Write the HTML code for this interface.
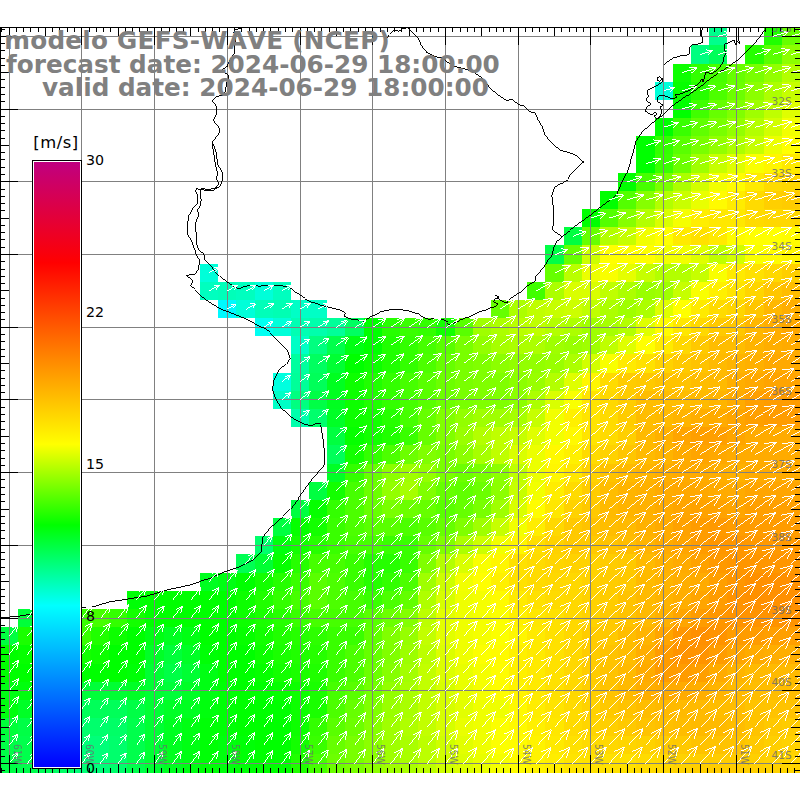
<!DOCTYPE html><html><head><meta charset="utf-8"><title>GEFS-WAVE</title>
<style>html,body{margin:0;padding:0;background:#fff}svg{display:block}.t{font-kerning:none;font-family:"DejaVu Sans","Liberation Sans",sans-serif;font-weight:bold;fill:#808080}.g{font-family:"DejaVu Sans","Liberation Sans",sans-serif;fill:#6a6a74;opacity:.8}.k{font-family:"DejaVu Sans","Liberation Sans",sans-serif;fill:#000}</style></head><body>
<svg width="800" height="800" viewBox="0 0 800 800">
<rect width="800" height="800" fill="#fff"/>
<g shape-rendering="crispEdges">
<rect x="709" y="27" width="18" height="18" fill="#00ff8c"/>
<rect x="764" y="27" width="18" height="18" fill="#20ff00"/>
<rect x="782" y="27" width="18" height="18" fill="#66ff00"/>
<rect x="691" y="45" width="18" height="19" fill="#00ff80"/>
<rect x="709" y="45" width="18" height="19" fill="#00ff59"/>
<rect x="745" y="45" width="19" height="19" fill="#26ff00"/>
<rect x="764" y="45" width="18" height="19" fill="#59ff00"/>
<rect x="782" y="45" width="18" height="19" fill="#8cff00"/>
<rect x="673" y="64" width="18" height="18" fill="#0dff00"/>
<rect x="691" y="64" width="18" height="18" fill="#33ff00"/>
<rect x="709" y="64" width="18" height="18" fill="#46ff00"/>
<rect x="727" y="64" width="18" height="18" fill="#66ff00"/>
<rect x="745" y="64" width="19" height="18" fill="#79ff00"/>
<rect x="764" y="64" width="18" height="18" fill="#93ff00"/>
<rect x="782" y="64" width="18" height="18" fill="#b3ff00"/>
<rect x="655" y="82" width="18" height="18" fill="#00ffd9"/>
<rect x="673" y="82" width="18" height="18" fill="#06ff00"/>
<rect x="691" y="82" width="18" height="18" fill="#26ff00"/>
<rect x="709" y="82" width="18" height="18" fill="#4cff00"/>
<rect x="727" y="82" width="18" height="18" fill="#6cff00"/>
<rect x="745" y="82" width="19" height="18" fill="#8cff00"/>
<rect x="764" y="82" width="18" height="18" fill="#acff00"/>
<rect x="782" y="82" width="18" height="18" fill="#c6ff00"/>
<rect x="673" y="100" width="18" height="18" fill="#00ff00"/>
<rect x="691" y="100" width="18" height="18" fill="#40ff00"/>
<rect x="709" y="100" width="18" height="18" fill="#66ff00"/>
<rect x="727" y="100" width="18" height="18" fill="#80ff00"/>
<rect x="745" y="100" width="19" height="18" fill="#9fff00"/>
<rect x="764" y="100" width="18" height="18" fill="#bfff00"/>
<rect x="782" y="100" width="18" height="18" fill="#dfff00"/>
<rect x="655" y="118" width="18" height="18" fill="#00ff00"/>
<rect x="673" y="118" width="18" height="18" fill="#39ff00"/>
<rect x="691" y="118" width="18" height="18" fill="#60ff00"/>
<rect x="709" y="118" width="18" height="18" fill="#79ff00"/>
<rect x="727" y="118" width="18" height="18" fill="#93ff00"/>
<rect x="745" y="118" width="19" height="18" fill="#b3ff00"/>
<rect x="764" y="118" width="18" height="18" fill="#d2ff00"/>
<rect x="782" y="118" width="18" height="18" fill="#f2ff00"/>
<rect x="636" y="136" width="19" height="18" fill="#00ff00"/>
<rect x="655" y="136" width="18" height="18" fill="#33ff00"/>
<rect x="673" y="136" width="18" height="18" fill="#59ff00"/>
<rect x="691" y="136" width="18" height="18" fill="#79ff00"/>
<rect x="709" y="136" width="18" height="18" fill="#93ff00"/>
<rect x="727" y="136" width="18" height="18" fill="#acff00"/>
<rect x="745" y="136" width="19" height="18" fill="#c6ff00"/>
<rect x="764" y="136" width="18" height="18" fill="#ecff00"/>
<rect x="782" y="136" width="18" height="18" fill="#ffff00"/>
<rect x="636" y="154" width="19" height="19" fill="#00ff00"/>
<rect x="655" y="154" width="18" height="19" fill="#39ff00"/>
<rect x="673" y="154" width="18" height="19" fill="#6cff00"/>
<rect x="691" y="154" width="18" height="19" fill="#9fff00"/>
<rect x="709" y="154" width="18" height="19" fill="#c6ff00"/>
<rect x="727" y="154" width="18" height="19" fill="#dfff00"/>
<rect x="745" y="154" width="19" height="19" fill="#f9ff00"/>
<rect x="764" y="154" width="18" height="19" fill="#fff600"/>
<rect x="782" y="154" width="18" height="19" fill="#ffea00"/>
<rect x="618" y="173" width="18" height="18" fill="#00ff00"/>
<rect x="636" y="173" width="19" height="18" fill="#46ff00"/>
<rect x="655" y="173" width="18" height="18" fill="#79ff00"/>
<rect x="673" y="173" width="18" height="18" fill="#acff00"/>
<rect x="691" y="173" width="18" height="18" fill="#d2ff00"/>
<rect x="709" y="173" width="18" height="18" fill="#f2ff00"/>
<rect x="727" y="173" width="18" height="18" fill="#fffc00"/>
<rect x="745" y="173" width="19" height="18" fill="#ffea00"/>
<rect x="764" y="173" width="18" height="18" fill="#ffdb00"/>
<rect x="782" y="173" width="18" height="18" fill="#ffd800"/>
<rect x="600" y="191" width="18" height="18" fill="#00ff00"/>
<rect x="618" y="191" width="18" height="18" fill="#53ff00"/>
<rect x="636" y="191" width="19" height="18" fill="#86ff00"/>
<rect x="655" y="191" width="18" height="18" fill="#b3ff00"/>
<rect x="673" y="191" width="18" height="18" fill="#c9ff00"/>
<rect x="691" y="191" width="18" height="18" fill="#e9ff00"/>
<rect x="709" y="191" width="18" height="18" fill="#fffb00"/>
<rect x="727" y="191" width="18" height="18" fill="#ffec00"/>
<rect x="745" y="191" width="19" height="18" fill="#ffdb00"/>
<rect x="764" y="191" width="18" height="18" fill="#ffcf00"/>
<rect x="782" y="191" width="18" height="18" fill="#ffcc00"/>
<rect x="582" y="209" width="18" height="18" fill="#00ff00"/>
<rect x="600" y="209" width="18" height="18" fill="#53ff00"/>
<rect x="618" y="209" width="18" height="18" fill="#86ff00"/>
<rect x="636" y="209" width="19" height="18" fill="#b3ff00"/>
<rect x="655" y="209" width="18" height="18" fill="#d9ff00"/>
<rect x="673" y="209" width="18" height="18" fill="#f5ff00"/>
<rect x="691" y="209" width="18" height="18" fill="#ffee00"/>
<rect x="709" y="209" width="36" height="18" fill="#ffe800"/>
<rect x="745" y="209" width="19" height="18" fill="#ffdb00"/>
<rect x="764" y="209" width="36" height="18" fill="#ffd800"/>
<rect x="564" y="227" width="18" height="18" fill="#00ff40"/>
<rect x="582" y="227" width="18" height="18" fill="#66ff00"/>
<rect x="600" y="227" width="18" height="18" fill="#b3ff00"/>
<rect x="618" y="227" width="18" height="18" fill="#c6ff00"/>
<rect x="636" y="227" width="19" height="18" fill="#f2ff00"/>
<rect x="655" y="227" width="18" height="18" fill="#ffff00"/>
<rect x="673" y="227" width="18" height="18" fill="#ffea00"/>
<rect x="691" y="227" width="18" height="18" fill="#ffe100"/>
<rect x="709" y="227" width="18" height="18" fill="#ffea00"/>
<rect x="727" y="227" width="18" height="18" fill="#fffc00"/>
<rect x="745" y="227" width="37" height="18" fill="#ffff00"/>
<rect x="782" y="227" width="18" height="18" fill="#fffc00"/>
<rect x="545" y="245" width="19" height="19" fill="#00ff46"/>
<rect x="564" y="245" width="18" height="19" fill="#66ff00"/>
<rect x="582" y="245" width="18" height="19" fill="#ccff00"/>
<rect x="600" y="245" width="55" height="19" fill="#ffff00"/>
<rect x="655" y="245" width="36" height="19" fill="#f2ff00"/>
<rect x="691" y="245" width="18" height="19" fill="#dfff00"/>
<rect x="709" y="245" width="18" height="19" fill="#bfff00"/>
<rect x="727" y="245" width="18" height="19" fill="#d2ff00"/>
<rect x="745" y="245" width="19" height="19" fill="#f9ff00"/>
<rect x="764" y="245" width="18" height="19" fill="#fffc00"/>
<rect x="782" y="245" width="18" height="19" fill="#fff600"/>
<rect x="200" y="264" width="18" height="18" fill="#00ffd9"/>
<rect x="545" y="264" width="19" height="18" fill="#66ff00"/>
<rect x="564" y="264" width="18" height="18" fill="#b9ff00"/>
<rect x="582" y="264" width="18" height="18" fill="#ecff00"/>
<rect x="600" y="264" width="18" height="18" fill="#f9ff00"/>
<rect x="618" y="264" width="18" height="18" fill="#e5ff00"/>
<rect x="636" y="264" width="19" height="18" fill="#c6ff00"/>
<rect x="655" y="264" width="36" height="18" fill="#b3ff00"/>
<rect x="691" y="264" width="18" height="18" fill="#c6ff00"/>
<rect x="709" y="264" width="18" height="18" fill="#f9ff00"/>
<rect x="727" y="264" width="18" height="18" fill="#ffea00"/>
<rect x="745" y="264" width="19" height="18" fill="#ffe100"/>
<rect x="764" y="264" width="18" height="18" fill="#ffd800"/>
<rect x="782" y="264" width="18" height="18" fill="#ffcf00"/>
<rect x="200" y="282" width="18" height="18" fill="#00ffbf"/>
<rect x="218" y="282" width="18" height="18" fill="#00ffb9"/>
<rect x="236" y="282" width="19" height="18" fill="#00ffbf"/>
<rect x="255" y="282" width="18" height="18" fill="#00ffd9"/>
<rect x="273" y="282" width="18" height="18" fill="#00ffbf"/>
<rect x="527" y="282" width="18" height="18" fill="#40ff00"/>
<rect x="545" y="282" width="19" height="18" fill="#acff00"/>
<rect x="564" y="282" width="36" height="18" fill="#d9ff00"/>
<rect x="600" y="282" width="18" height="18" fill="#bfff00"/>
<rect x="618" y="282" width="18" height="18" fill="#acff00"/>
<rect x="636" y="282" width="19" height="18" fill="#99ff00"/>
<rect x="655" y="282" width="18" height="18" fill="#9fff00"/>
<rect x="673" y="282" width="18" height="18" fill="#c6ff00"/>
<rect x="691" y="282" width="18" height="18" fill="#f9ff00"/>
<rect x="709" y="282" width="18" height="18" fill="#fff000"/>
<rect x="727" y="282" width="18" height="18" fill="#ffe400"/>
<rect x="745" y="282" width="19" height="18" fill="#ffd500"/>
<rect x="764" y="282" width="18" height="18" fill="#ffc600"/>
<rect x="782" y="282" width="18" height="18" fill="#ffbd00"/>
<rect x="218" y="300" width="18" height="18" fill="#00f9ff"/>
<rect x="236" y="300" width="19" height="18" fill="#00ffd9"/>
<rect x="255" y="300" width="18" height="18" fill="#00ffb9"/>
<rect x="273" y="300" width="18" height="18" fill="#00ffb3"/>
<rect x="291" y="300" width="36" height="18" fill="#00ffc6"/>
<rect x="491" y="300" width="18" height="18" fill="#66ff00"/>
<rect x="509" y="300" width="18" height="18" fill="#acff00"/>
<rect x="527" y="300" width="18" height="18" fill="#bfff00"/>
<rect x="545" y="300" width="19" height="18" fill="#c6ff00"/>
<rect x="564" y="300" width="18" height="18" fill="#ccff00"/>
<rect x="582" y="300" width="18" height="18" fill="#bfff00"/>
<rect x="600" y="300" width="18" height="18" fill="#acff00"/>
<rect x="618" y="300" width="18" height="18" fill="#9fff00"/>
<rect x="636" y="300" width="19" height="18" fill="#acff00"/>
<rect x="655" y="300" width="18" height="18" fill="#dfff00"/>
<rect x="673" y="300" width="18" height="18" fill="#ffff00"/>
<rect x="691" y="300" width="18" height="18" fill="#ffea00"/>
<rect x="709" y="300" width="18" height="18" fill="#ffdb00"/>
<rect x="727" y="300" width="18" height="18" fill="#ffd500"/>
<rect x="745" y="300" width="19" height="18" fill="#ffc600"/>
<rect x="764" y="300" width="18" height="18" fill="#ffb700"/>
<rect x="782" y="300" width="18" height="18" fill="#ffae00"/>
<rect x="255" y="318" width="18" height="18" fill="#00fff2"/>
<rect x="273" y="318" width="18" height="18" fill="#00ffd9"/>
<rect x="291" y="318" width="18" height="18" fill="#00ffb3"/>
<rect x="309" y="318" width="18" height="18" fill="#00ffac"/>
<rect x="327" y="318" width="18" height="18" fill="#00ff99"/>
<rect x="345" y="318" width="19" height="18" fill="#00ff60"/>
<rect x="364" y="318" width="18" height="18" fill="#00ff00"/>
<rect x="382" y="318" width="18" height="18" fill="#26ff00"/>
<rect x="400" y="318" width="18" height="18" fill="#39ff00"/>
<rect x="418" y="318" width="18" height="18" fill="#33ff00"/>
<rect x="436" y="318" width="19" height="18" fill="#13ff00"/>
<rect x="455" y="318" width="18" height="18" fill="#59ff00"/>
<rect x="473" y="318" width="18" height="18" fill="#9fff00"/>
<rect x="491" y="318" width="18" height="18" fill="#acff00"/>
<rect x="509" y="318" width="18" height="18" fill="#b9ff00"/>
<rect x="527" y="318" width="18" height="18" fill="#bfff00"/>
<rect x="545" y="318" width="19" height="18" fill="#b3ff00"/>
<rect x="564" y="318" width="18" height="18" fill="#acff00"/>
<rect x="582" y="318" width="18" height="18" fill="#9fff00"/>
<rect x="600" y="318" width="18" height="18" fill="#a6ff00"/>
<rect x="618" y="318" width="18" height="18" fill="#b3ff00"/>
<rect x="636" y="318" width="19" height="18" fill="#dfff00"/>
<rect x="655" y="318" width="18" height="18" fill="#fffc00"/>
<rect x="673" y="318" width="18" height="18" fill="#ffe700"/>
<rect x="691" y="318" width="18" height="18" fill="#ffd800"/>
<rect x="709" y="318" width="18" height="18" fill="#ffc900"/>
<rect x="727" y="318" width="18" height="18" fill="#ffc600"/>
<rect x="745" y="318" width="19" height="18" fill="#ffb700"/>
<rect x="764" y="318" width="18" height="18" fill="#ffae00"/>
<rect x="782" y="318" width="18" height="18" fill="#ffa800"/>
<rect x="291" y="336" width="18" height="18" fill="#00ffc6"/>
<rect x="309" y="336" width="18" height="18" fill="#00ff80"/>
<rect x="327" y="336" width="18" height="18" fill="#00ff4c"/>
<rect x="345" y="336" width="19" height="18" fill="#00ff13"/>
<rect x="364" y="336" width="18" height="18" fill="#00ff00"/>
<rect x="382" y="336" width="18" height="18" fill="#20ff00"/>
<rect x="400" y="336" width="18" height="18" fill="#33ff00"/>
<rect x="418" y="336" width="18" height="18" fill="#46ff00"/>
<rect x="436" y="336" width="19" height="18" fill="#59ff00"/>
<rect x="455" y="336" width="18" height="18" fill="#79ff00"/>
<rect x="473" y="336" width="18" height="18" fill="#93ff00"/>
<rect x="491" y="336" width="18" height="18" fill="#a6ff00"/>
<rect x="509" y="336" width="36" height="18" fill="#acff00"/>
<rect x="545" y="336" width="19" height="18" fill="#9fff00"/>
<rect x="564" y="336" width="18" height="18" fill="#99ff00"/>
<rect x="582" y="336" width="18" height="18" fill="#9fff00"/>
<rect x="600" y="336" width="18" height="18" fill="#bfff00"/>
<rect x="618" y="336" width="18" height="18" fill="#dfff00"/>
<rect x="636" y="336" width="19" height="18" fill="#ffff00"/>
<rect x="655" y="336" width="18" height="18" fill="#ffea00"/>
<rect x="673" y="336" width="18" height="18" fill="#ffd800"/>
<rect x="691" y="336" width="18" height="18" fill="#ffc900"/>
<rect x="709" y="336" width="36" height="18" fill="#ffbd00"/>
<rect x="745" y="336" width="19" height="18" fill="#ffb400"/>
<rect x="764" y="336" width="18" height="18" fill="#ffae00"/>
<rect x="782" y="336" width="18" height="18" fill="#ffab00"/>
<rect x="291" y="354" width="18" height="19" fill="#00ff9f"/>
<rect x="309" y="354" width="18" height="19" fill="#00ff60"/>
<rect x="327" y="354" width="18" height="19" fill="#00ff33"/>
<rect x="345" y="354" width="19" height="19" fill="#00ff00"/>
<rect x="364" y="354" width="18" height="19" fill="#0dff00"/>
<rect x="382" y="354" width="18" height="19" fill="#20ff00"/>
<rect x="400" y="354" width="18" height="19" fill="#33ff00"/>
<rect x="418" y="354" width="18" height="19" fill="#4cff00"/>
<rect x="436" y="354" width="19" height="19" fill="#66ff00"/>
<rect x="455" y="354" width="18" height="19" fill="#79ff00"/>
<rect x="473" y="354" width="18" height="19" fill="#80ff00"/>
<rect x="491" y="354" width="18" height="19" fill="#8cff00"/>
<rect x="509" y="354" width="36" height="19" fill="#93ff00"/>
<rect x="545" y="354" width="19" height="19" fill="#99ff00"/>
<rect x="564" y="354" width="18" height="19" fill="#acff00"/>
<rect x="582" y="354" width="18" height="19" fill="#d2ff00"/>
<rect x="600" y="354" width="18" height="19" fill="#f9ff00"/>
<rect x="618" y="354" width="18" height="19" fill="#ffea00"/>
<rect x="636" y="354" width="19" height="19" fill="#ffe100"/>
<rect x="655" y="354" width="18" height="19" fill="#ffd200"/>
<rect x="673" y="354" width="18" height="19" fill="#ffc900"/>
<rect x="691" y="354" width="18" height="19" fill="#ffc300"/>
<rect x="709" y="354" width="18" height="19" fill="#ffba00"/>
<rect x="727" y="354" width="18" height="19" fill="#ffb400"/>
<rect x="745" y="354" width="19" height="19" fill="#ffb000"/>
<rect x="764" y="354" width="36" height="19" fill="#ffa900"/>
<rect x="273" y="373" width="18" height="18" fill="#00ffdf"/>
<rect x="291" y="373" width="18" height="18" fill="#00ff99"/>
<rect x="309" y="373" width="18" height="18" fill="#00ff59"/>
<rect x="327" y="373" width="18" height="18" fill="#00ff20"/>
<rect x="345" y="373" width="19" height="18" fill="#0dff00"/>
<rect x="364" y="373" width="18" height="18" fill="#20ff00"/>
<rect x="382" y="373" width="18" height="18" fill="#33ff00"/>
<rect x="400" y="373" width="18" height="18" fill="#46ff00"/>
<rect x="418" y="373" width="18" height="18" fill="#59ff00"/>
<rect x="436" y="373" width="19" height="18" fill="#6cff00"/>
<rect x="455" y="373" width="18" height="18" fill="#79ff00"/>
<rect x="473" y="373" width="36" height="18" fill="#80ff00"/>
<rect x="509" y="373" width="18" height="18" fill="#8cff00"/>
<rect x="527" y="373" width="18" height="18" fill="#99ff00"/>
<rect x="545" y="373" width="19" height="18" fill="#b3ff00"/>
<rect x="564" y="373" width="18" height="18" fill="#dfff00"/>
<rect x="582" y="373" width="18" height="18" fill="#fff600"/>
<rect x="600" y="373" width="18" height="18" fill="#ffdb00"/>
<rect x="618" y="373" width="18" height="18" fill="#ffcc00"/>
<rect x="636" y="373" width="19" height="18" fill="#ffc900"/>
<rect x="655" y="373" width="36" height="18" fill="#ffc300"/>
<rect x="691" y="373" width="18" height="18" fill="#ffbd00"/>
<rect x="709" y="373" width="18" height="18" fill="#ffba00"/>
<rect x="727" y="373" width="18" height="18" fill="#ffae00"/>
<rect x="745" y="373" width="19" height="18" fill="#ffa900"/>
<rect x="764" y="373" width="36" height="18" fill="#ffa400"/>
<rect x="273" y="391" width="18" height="18" fill="#00ffc6"/>
<rect x="291" y="391" width="18" height="18" fill="#00ff80"/>
<rect x="309" y="391" width="18" height="18" fill="#00ff46"/>
<rect x="327" y="391" width="18" height="18" fill="#00ff20"/>
<rect x="345" y="391" width="19" height="18" fill="#0dff00"/>
<rect x="364" y="391" width="18" height="18" fill="#20ff00"/>
<rect x="382" y="391" width="18" height="18" fill="#33ff00"/>
<rect x="400" y="391" width="18" height="18" fill="#46ff00"/>
<rect x="418" y="391" width="18" height="18" fill="#59ff00"/>
<rect x="436" y="391" width="19" height="18" fill="#6cff00"/>
<rect x="455" y="391" width="18" height="18" fill="#79ff00"/>
<rect x="473" y="391" width="36" height="18" fill="#80ff00"/>
<rect x="509" y="391" width="18" height="18" fill="#8cff00"/>
<rect x="527" y="391" width="18" height="18" fill="#acff00"/>
<rect x="545" y="391" width="19" height="18" fill="#d9ff00"/>
<rect x="564" y="391" width="18" height="18" fill="#f9ff00"/>
<rect x="582" y="391" width="18" height="18" fill="#ffe400"/>
<rect x="600" y="391" width="18" height="18" fill="#ffd800"/>
<rect x="618" y="391" width="18" height="18" fill="#ffcc00"/>
<rect x="636" y="391" width="55" height="18" fill="#ffbd00"/>
<rect x="691" y="391" width="18" height="18" fill="#ffba00"/>
<rect x="709" y="391" width="18" height="18" fill="#ffb400"/>
<rect x="727" y="391" width="18" height="18" fill="#ffab00"/>
<rect x="745" y="391" width="19" height="18" fill="#ff9f00"/>
<rect x="764" y="391" width="36" height="18" fill="#ff9c00"/>
<rect x="291" y="409" width="18" height="18" fill="#00ffac"/>
<rect x="309" y="409" width="18" height="18" fill="#00ff6c"/>
<rect x="327" y="409" width="18" height="18" fill="#00ff26"/>
<rect x="345" y="409" width="19" height="18" fill="#0dff00"/>
<rect x="364" y="409" width="18" height="18" fill="#13ff00"/>
<rect x="382" y="409" width="18" height="18" fill="#26ff00"/>
<rect x="400" y="409" width="18" height="18" fill="#46ff00"/>
<rect x="418" y="409" width="18" height="18" fill="#66ff00"/>
<rect x="436" y="409" width="19" height="18" fill="#80ff00"/>
<rect x="455" y="409" width="18" height="18" fill="#93ff00"/>
<rect x="473" y="409" width="36" height="18" fill="#9fff00"/>
<rect x="509" y="409" width="18" height="18" fill="#a6ff00"/>
<rect x="527" y="409" width="18" height="18" fill="#c6ff00"/>
<rect x="545" y="409" width="19" height="18" fill="#f2ff00"/>
<rect x="564" y="409" width="18" height="18" fill="#fff000"/>
<rect x="582" y="409" width="18" height="18" fill="#ffe400"/>
<rect x="600" y="409" width="18" height="18" fill="#ffdb00"/>
<rect x="618" y="409" width="18" height="18" fill="#ffcc00"/>
<rect x="636" y="409" width="19" height="18" fill="#ffbd00"/>
<rect x="655" y="409" width="18" height="18" fill="#ffba00"/>
<rect x="673" y="409" width="18" height="18" fill="#ffb400"/>
<rect x="691" y="409" width="18" height="18" fill="#ffae00"/>
<rect x="709" y="409" width="18" height="18" fill="#ffab00"/>
<rect x="727" y="409" width="18" height="18" fill="#ffa500"/>
<rect x="745" y="409" width="19" height="18" fill="#ff9f00"/>
<rect x="764" y="409" width="36" height="18" fill="#ff9c00"/>
<rect x="327" y="427" width="18" height="18" fill="#00ff40"/>
<rect x="345" y="427" width="19" height="18" fill="#06ff00"/>
<rect x="364" y="427" width="18" height="18" fill="#13ff00"/>
<rect x="382" y="427" width="18" height="18" fill="#20ff00"/>
<rect x="400" y="427" width="18" height="18" fill="#39ff00"/>
<rect x="418" y="427" width="18" height="18" fill="#66ff00"/>
<rect x="436" y="427" width="19" height="18" fill="#80ff00"/>
<rect x="455" y="427" width="18" height="18" fill="#99ff00"/>
<rect x="473" y="427" width="18" height="18" fill="#b3ff00"/>
<rect x="491" y="427" width="18" height="18" fill="#bfff00"/>
<rect x="509" y="427" width="18" height="18" fill="#c6ff00"/>
<rect x="527" y="427" width="18" height="18" fill="#dfff00"/>
<rect x="545" y="427" width="19" height="18" fill="#f2ff00"/>
<rect x="564" y="427" width="18" height="18" fill="#fff900"/>
<rect x="582" y="427" width="18" height="18" fill="#ffe400"/>
<rect x="600" y="427" width="18" height="18" fill="#ffdb00"/>
<rect x="618" y="427" width="18" height="18" fill="#ffcf00"/>
<rect x="636" y="427" width="19" height="18" fill="#ffba00"/>
<rect x="655" y="427" width="18" height="18" fill="#ffb100"/>
<rect x="673" y="427" width="18" height="18" fill="#ffa500"/>
<rect x="691" y="427" width="36" height="18" fill="#ff9f00"/>
<rect x="727" y="427" width="18" height="18" fill="#ffa500"/>
<rect x="745" y="427" width="55" height="18" fill="#ffab00"/>
<rect x="327" y="445" width="18" height="19" fill="#00ff59"/>
<rect x="345" y="445" width="19" height="19" fill="#13ff00"/>
<rect x="364" y="445" width="18" height="19" fill="#33ff00"/>
<rect x="382" y="445" width="18" height="19" fill="#4cff00"/>
<rect x="400" y="445" width="18" height="19" fill="#6cff00"/>
<rect x="418" y="445" width="18" height="19" fill="#80ff00"/>
<rect x="436" y="445" width="19" height="19" fill="#79ff00"/>
<rect x="455" y="445" width="18" height="19" fill="#8cff00"/>
<rect x="473" y="445" width="18" height="19" fill="#a6ff00"/>
<rect x="491" y="445" width="18" height="19" fill="#bfff00"/>
<rect x="509" y="445" width="18" height="19" fill="#d9ff00"/>
<rect x="527" y="445" width="18" height="19" fill="#ecff00"/>
<rect x="545" y="445" width="19" height="19" fill="#fff900"/>
<rect x="564" y="445" width="18" height="19" fill="#fff000"/>
<rect x="582" y="445" width="18" height="19" fill="#ffdb00"/>
<rect x="600" y="445" width="18" height="19" fill="#ffd200"/>
<rect x="618" y="445" width="18" height="19" fill="#ffc600"/>
<rect x="636" y="445" width="19" height="19" fill="#ffba00"/>
<rect x="655" y="445" width="18" height="19" fill="#ffb400"/>
<rect x="673" y="445" width="18" height="19" fill="#ffab00"/>
<rect x="691" y="445" width="18" height="19" fill="#ffa500"/>
<rect x="709" y="445" width="18" height="19" fill="#ffa800"/>
<rect x="727" y="445" width="73" height="19" fill="#ffab00"/>
<rect x="327" y="464" width="18" height="18" fill="#00ff26"/>
<rect x="345" y="464" width="19" height="18" fill="#33ff00"/>
<rect x="364" y="464" width="18" height="18" fill="#66ff00"/>
<rect x="382" y="464" width="18" height="18" fill="#8cff00"/>
<rect x="400" y="464" width="18" height="18" fill="#9fff00"/>
<rect x="418" y="464" width="18" height="18" fill="#93ff00"/>
<rect x="436" y="464" width="19" height="18" fill="#79ff00"/>
<rect x="455" y="464" width="18" height="18" fill="#6cff00"/>
<rect x="473" y="464" width="18" height="18" fill="#79ff00"/>
<rect x="491" y="464" width="18" height="18" fill="#8cff00"/>
<rect x="509" y="464" width="18" height="18" fill="#bfff00"/>
<rect x="527" y="464" width="18" height="18" fill="#ecff00"/>
<rect x="545" y="464" width="19" height="18" fill="#fff600"/>
<rect x="564" y="464" width="18" height="18" fill="#ffe700"/>
<rect x="582" y="464" width="18" height="18" fill="#ffd200"/>
<rect x="600" y="464" width="18" height="18" fill="#ffc300"/>
<rect x="618" y="464" width="18" height="18" fill="#ffba00"/>
<rect x="636" y="464" width="19" height="18" fill="#ffb400"/>
<rect x="655" y="464" width="18" height="18" fill="#ffae00"/>
<rect x="673" y="464" width="36" height="18" fill="#ffab00"/>
<rect x="709" y="464" width="18" height="18" fill="#ffae00"/>
<rect x="727" y="464" width="18" height="18" fill="#ffb100"/>
<rect x="745" y="464" width="55" height="18" fill="#ffab00"/>
<rect x="309" y="482" width="18" height="18" fill="#00ff40"/>
<rect x="327" y="482" width="18" height="18" fill="#13ff00"/>
<rect x="345" y="482" width="19" height="18" fill="#46ff00"/>
<rect x="364" y="482" width="18" height="18" fill="#6cff00"/>
<rect x="382" y="482" width="18" height="18" fill="#93ff00"/>
<rect x="400" y="482" width="18" height="18" fill="#a6ff00"/>
<rect x="418" y="482" width="18" height="18" fill="#80ff00"/>
<rect x="436" y="482" width="19" height="18" fill="#66ff00"/>
<rect x="455" y="482" width="18" height="18" fill="#60ff00"/>
<rect x="473" y="482" width="18" height="18" fill="#6cff00"/>
<rect x="491" y="482" width="18" height="18" fill="#8cff00"/>
<rect x="509" y="482" width="18" height="18" fill="#c6ff00"/>
<rect x="527" y="482" width="18" height="18" fill="#f2ff00"/>
<rect x="545" y="482" width="19" height="18" fill="#ffed00"/>
<rect x="564" y="482" width="18" height="18" fill="#ffdb00"/>
<rect x="582" y="482" width="18" height="18" fill="#ffcc00"/>
<rect x="600" y="482" width="18" height="18" fill="#ffbd00"/>
<rect x="618" y="482" width="18" height="18" fill="#ffb400"/>
<rect x="636" y="482" width="19" height="18" fill="#ffb100"/>
<rect x="655" y="482" width="18" height="18" fill="#ffab00"/>
<rect x="673" y="482" width="36" height="18" fill="#ffa800"/>
<rect x="709" y="482" width="36" height="18" fill="#ffab00"/>
<rect x="745" y="482" width="55" height="18" fill="#ffa500"/>
<rect x="291" y="500" width="18" height="18" fill="#00ff40"/>
<rect x="309" y="500" width="18" height="18" fill="#06ff00"/>
<rect x="327" y="500" width="18" height="18" fill="#33ff00"/>
<rect x="345" y="500" width="19" height="18" fill="#4cff00"/>
<rect x="364" y="500" width="18" height="18" fill="#66ff00"/>
<rect x="382" y="500" width="18" height="18" fill="#79ff00"/>
<rect x="400" y="500" width="18" height="18" fill="#6cff00"/>
<rect x="418" y="500" width="18" height="18" fill="#66ff00"/>
<rect x="436" y="500" width="19" height="18" fill="#59ff00"/>
<rect x="455" y="500" width="18" height="18" fill="#66ff00"/>
<rect x="473" y="500" width="18" height="18" fill="#79ff00"/>
<rect x="491" y="500" width="18" height="18" fill="#9fff00"/>
<rect x="509" y="500" width="18" height="18" fill="#d9ff00"/>
<rect x="527" y="500" width="18" height="18" fill="#fffc00"/>
<rect x="545" y="500" width="19" height="18" fill="#ffe700"/>
<rect x="564" y="500" width="18" height="18" fill="#ffd200"/>
<rect x="582" y="500" width="18" height="18" fill="#ffc900"/>
<rect x="600" y="500" width="18" height="18" fill="#ffba00"/>
<rect x="618" y="500" width="18" height="18" fill="#ffb400"/>
<rect x="636" y="500" width="19" height="18" fill="#ffb100"/>
<rect x="655" y="500" width="18" height="18" fill="#ffab00"/>
<rect x="673" y="500" width="18" height="18" fill="#ffa500"/>
<rect x="691" y="500" width="36" height="18" fill="#ffa200"/>
<rect x="727" y="500" width="18" height="18" fill="#ffa500"/>
<rect x="745" y="500" width="55" height="18" fill="#ff9f00"/>
<rect x="273" y="518" width="18" height="18" fill="#00ff40"/>
<rect x="291" y="518" width="18" height="18" fill="#06ff00"/>
<rect x="309" y="518" width="18" height="18" fill="#13ff00"/>
<rect x="327" y="518" width="18" height="18" fill="#39ff00"/>
<rect x="345" y="518" width="19" height="18" fill="#4cff00"/>
<rect x="364" y="518" width="36" height="18" fill="#59ff00"/>
<rect x="400" y="518" width="18" height="18" fill="#4cff00"/>
<rect x="418" y="518" width="18" height="18" fill="#59ff00"/>
<rect x="436" y="518" width="19" height="18" fill="#66ff00"/>
<rect x="455" y="518" width="18" height="18" fill="#80ff00"/>
<rect x="473" y="518" width="18" height="18" fill="#9fff00"/>
<rect x="491" y="518" width="18" height="18" fill="#c6ff00"/>
<rect x="509" y="518" width="18" height="18" fill="#f2ff00"/>
<rect x="527" y="518" width="18" height="18" fill="#ffed00"/>
<rect x="545" y="518" width="19" height="18" fill="#ffd800"/>
<rect x="564" y="518" width="18" height="18" fill="#ffc900"/>
<rect x="582" y="518" width="18" height="18" fill="#ffc300"/>
<rect x="600" y="518" width="18" height="18" fill="#ffbd00"/>
<rect x="618" y="518" width="18" height="18" fill="#ffba00"/>
<rect x="636" y="518" width="19" height="18" fill="#ffb100"/>
<rect x="655" y="518" width="18" height="18" fill="#ffab00"/>
<rect x="673" y="518" width="18" height="18" fill="#ffa200"/>
<rect x="691" y="518" width="18" height="18" fill="#ff9c00"/>
<rect x="709" y="518" width="18" height="18" fill="#ff9900"/>
<rect x="727" y="518" width="73" height="18" fill="#ff9c00"/>
<rect x="255" y="536" width="18" height="18" fill="#00ff6c"/>
<rect x="273" y="536" width="18" height="18" fill="#00ff0d"/>
<rect x="291" y="536" width="18" height="18" fill="#13ff00"/>
<rect x="309" y="536" width="18" height="18" fill="#26ff00"/>
<rect x="327" y="536" width="18" height="18" fill="#39ff00"/>
<rect x="345" y="536" width="37" height="18" fill="#46ff00"/>
<rect x="382" y="536" width="36" height="18" fill="#39ff00"/>
<rect x="418" y="536" width="18" height="18" fill="#66ff00"/>
<rect x="436" y="536" width="19" height="18" fill="#80ff00"/>
<rect x="455" y="536" width="18" height="18" fill="#acff00"/>
<rect x="473" y="536" width="18" height="18" fill="#ccff00"/>
<rect x="491" y="536" width="18" height="18" fill="#f2ff00"/>
<rect x="509" y="536" width="18" height="18" fill="#fff600"/>
<rect x="527" y="536" width="18" height="18" fill="#ffde00"/>
<rect x="545" y="536" width="19" height="18" fill="#ffd200"/>
<rect x="564" y="536" width="36" height="18" fill="#ffc900"/>
<rect x="600" y="536" width="18" height="18" fill="#ffc300"/>
<rect x="618" y="536" width="18" height="18" fill="#ffbd00"/>
<rect x="636" y="536" width="19" height="18" fill="#ffb400"/>
<rect x="655" y="536" width="18" height="18" fill="#ffab00"/>
<rect x="673" y="536" width="18" height="18" fill="#ffa500"/>
<rect x="691" y="536" width="18" height="18" fill="#ff9c00"/>
<rect x="709" y="536" width="36" height="18" fill="#ff9600"/>
<rect x="745" y="536" width="55" height="18" fill="#ff9900"/>
<rect x="236" y="554" width="19" height="19" fill="#00ff53"/>
<rect x="255" y="554" width="18" height="19" fill="#00ff33"/>
<rect x="273" y="554" width="18" height="19" fill="#06ff00"/>
<rect x="291" y="554" width="18" height="19" fill="#26ff00"/>
<rect x="309" y="554" width="36" height="19" fill="#46ff00"/>
<rect x="345" y="554" width="19" height="19" fill="#39ff00"/>
<rect x="364" y="554" width="36" height="19" fill="#26ff00"/>
<rect x="400" y="554" width="18" height="19" fill="#39ff00"/>
<rect x="418" y="554" width="18" height="19" fill="#80ff00"/>
<rect x="436" y="554" width="19" height="19" fill="#b3ff00"/>
<rect x="455" y="554" width="18" height="19" fill="#d9ff00"/>
<rect x="473" y="554" width="18" height="19" fill="#f9ff00"/>
<rect x="491" y="554" width="18" height="19" fill="#fff600"/>
<rect x="509" y="554" width="18" height="19" fill="#ffe100"/>
<rect x="527" y="554" width="18" height="19" fill="#ffdb00"/>
<rect x="545" y="554" width="19" height="19" fill="#ffd500"/>
<rect x="564" y="554" width="36" height="19" fill="#ffd200"/>
<rect x="600" y="554" width="18" height="19" fill="#ffcc00"/>
<rect x="618" y="554" width="18" height="19" fill="#ffc900"/>
<rect x="636" y="554" width="19" height="19" fill="#ffba00"/>
<rect x="655" y="554" width="18" height="19" fill="#ffb100"/>
<rect x="673" y="554" width="18" height="19" fill="#ffab00"/>
<rect x="691" y="554" width="18" height="19" fill="#ffa200"/>
<rect x="709" y="554" width="18" height="19" fill="#ff9900"/>
<rect x="727" y="554" width="73" height="19" fill="#ff9600"/>
<rect x="200" y="573" width="18" height="18" fill="#00ff20"/>
<rect x="218" y="573" width="18" height="18" fill="#00ff13"/>
<rect x="236" y="573" width="19" height="18" fill="#00ff00"/>
<rect x="255" y="573" width="18" height="18" fill="#13ff00"/>
<rect x="273" y="573" width="18" height="18" fill="#26ff00"/>
<rect x="291" y="573" width="18" height="18" fill="#39ff00"/>
<rect x="309" y="573" width="18" height="18" fill="#59ff00"/>
<rect x="327" y="573" width="18" height="18" fill="#4cff00"/>
<rect x="345" y="573" width="19" height="18" fill="#39ff00"/>
<rect x="364" y="573" width="18" height="18" fill="#26ff00"/>
<rect x="382" y="573" width="18" height="18" fill="#33ff00"/>
<rect x="400" y="573" width="18" height="18" fill="#4cff00"/>
<rect x="418" y="573" width="18" height="18" fill="#9fff00"/>
<rect x="436" y="573" width="19" height="18" fill="#ccff00"/>
<rect x="455" y="573" width="18" height="18" fill="#f2ff00"/>
<rect x="473" y="573" width="18" height="18" fill="#ffff00"/>
<rect x="491" y="573" width="18" height="18" fill="#fff000"/>
<rect x="509" y="573" width="18" height="18" fill="#ffe100"/>
<rect x="527" y="573" width="18" height="18" fill="#ffdb00"/>
<rect x="545" y="573" width="37" height="18" fill="#ffd800"/>
<rect x="582" y="573" width="18" height="18" fill="#ffd200"/>
<rect x="600" y="573" width="18" height="18" fill="#ffcc00"/>
<rect x="618" y="573" width="18" height="18" fill="#ffc900"/>
<rect x="636" y="573" width="19" height="18" fill="#ffba00"/>
<rect x="655" y="573" width="18" height="18" fill="#ffb400"/>
<rect x="673" y="573" width="18" height="18" fill="#ffae00"/>
<rect x="691" y="573" width="18" height="18" fill="#ffab00"/>
<rect x="709" y="573" width="18" height="18" fill="#ff9f00"/>
<rect x="727" y="573" width="18" height="18" fill="#ff9600"/>
<rect x="745" y="573" width="55" height="18" fill="#ff9000"/>
<rect x="127" y="591" width="18" height="18" fill="#00ff06"/>
<rect x="145" y="591" width="91" height="18" fill="#00ff00"/>
<rect x="236" y="591" width="19" height="18" fill="#0dff00"/>
<rect x="255" y="591" width="18" height="18" fill="#20ff00"/>
<rect x="273" y="591" width="18" height="18" fill="#33ff00"/>
<rect x="291" y="591" width="18" height="18" fill="#46ff00"/>
<rect x="309" y="591" width="18" height="18" fill="#59ff00"/>
<rect x="327" y="591" width="18" height="18" fill="#4cff00"/>
<rect x="345" y="591" width="19" height="18" fill="#46ff00"/>
<rect x="364" y="591" width="18" height="18" fill="#39ff00"/>
<rect x="382" y="591" width="18" height="18" fill="#4cff00"/>
<rect x="400" y="591" width="18" height="18" fill="#63ff00"/>
<rect x="418" y="591" width="18" height="18" fill="#afff00"/>
<rect x="436" y="591" width="19" height="18" fill="#d6ff00"/>
<rect x="455" y="591" width="18" height="18" fill="#efff00"/>
<rect x="473" y="591" width="18" height="18" fill="#f5ff00"/>
<rect x="491" y="591" width="18" height="18" fill="#fffb00"/>
<rect x="509" y="591" width="18" height="18" fill="#ffea00"/>
<rect x="527" y="591" width="18" height="18" fill="#ffe100"/>
<rect x="545" y="591" width="19" height="18" fill="#ffdb00"/>
<rect x="564" y="591" width="18" height="18" fill="#ffd800"/>
<rect x="582" y="591" width="18" height="18" fill="#ffd200"/>
<rect x="600" y="591" width="18" height="18" fill="#ffcc00"/>
<rect x="618" y="591" width="18" height="18" fill="#ffc300"/>
<rect x="636" y="591" width="19" height="18" fill="#ffba00"/>
<rect x="655" y="591" width="18" height="18" fill="#ffb400"/>
<rect x="673" y="591" width="18" height="18" fill="#ffae00"/>
<rect x="691" y="591" width="18" height="18" fill="#ffa500"/>
<rect x="709" y="591" width="18" height="18" fill="#ff9c00"/>
<rect x="727" y="591" width="18" height="18" fill="#ff9300"/>
<rect x="745" y="591" width="55" height="18" fill="#ff9000"/>
<rect x="18" y="609" width="18" height="18" fill="#00ff39"/>
<rect x="36" y="609" width="19" height="18" fill="#00ff0d"/>
<rect x="55" y="609" width="18" height="18" fill="#1aff00"/>
<rect x="73" y="609" width="18" height="18" fill="#39ff00"/>
<rect x="91" y="609" width="18" height="18" fill="#46ff00"/>
<rect x="109" y="609" width="18" height="18" fill="#33ff00"/>
<rect x="127" y="609" width="18" height="18" fill="#13ff00"/>
<rect x="145" y="609" width="91" height="18" fill="#00ff00"/>
<rect x="236" y="609" width="19" height="18" fill="#0dff00"/>
<rect x="255" y="609" width="18" height="18" fill="#1aff00"/>
<rect x="273" y="609" width="18" height="18" fill="#26ff00"/>
<rect x="291" y="609" width="18" height="18" fill="#39ff00"/>
<rect x="309" y="609" width="55" height="18" fill="#46ff00"/>
<rect x="364" y="609" width="18" height="18" fill="#59ff00"/>
<rect x="382" y="609" width="18" height="18" fill="#6cff00"/>
<rect x="400" y="609" width="18" height="18" fill="#83ff00"/>
<rect x="418" y="609" width="18" height="18" fill="#bcff00"/>
<rect x="436" y="609" width="19" height="18" fill="#e2ff00"/>
<rect x="455" y="609" width="18" height="18" fill="#efff00"/>
<rect x="473" y="609" width="18" height="18" fill="#f5ff00"/>
<rect x="491" y="609" width="18" height="18" fill="#fcff00"/>
<rect x="509" y="609" width="18" height="18" fill="#fff000"/>
<rect x="527" y="609" width="18" height="18" fill="#ffe700"/>
<rect x="545" y="609" width="19" height="18" fill="#ffe100"/>
<rect x="564" y="609" width="18" height="18" fill="#ffd800"/>
<rect x="582" y="609" width="18" height="18" fill="#ffd200"/>
<rect x="600" y="609" width="18" height="18" fill="#ffc900"/>
<rect x="618" y="609" width="18" height="18" fill="#ffc300"/>
<rect x="636" y="609" width="19" height="18" fill="#ffba00"/>
<rect x="655" y="609" width="18" height="18" fill="#ffb100"/>
<rect x="673" y="609" width="18" height="18" fill="#ffa500"/>
<rect x="691" y="609" width="18" height="18" fill="#ff9c00"/>
<rect x="709" y="609" width="18" height="18" fill="#ff9600"/>
<rect x="727" y="609" width="73" height="18" fill="#ff9300"/>
<rect x="0" y="627" width="18" height="18" fill="#00ff40"/>
<rect x="18" y="627" width="18" height="18" fill="#1aff00"/>
<rect x="36" y="627" width="19" height="18" fill="#26ff00"/>
<rect x="55" y="627" width="18" height="18" fill="#33ff00"/>
<rect x="73" y="627" width="18" height="18" fill="#39ff00"/>
<rect x="91" y="627" width="18" height="18" fill="#20ff00"/>
<rect x="109" y="627" width="18" height="18" fill="#0dff00"/>
<rect x="127" y="627" width="18" height="18" fill="#00ff00"/>
<rect x="145" y="627" width="19" height="18" fill="#00ff13"/>
<rect x="164" y="627" width="18" height="18" fill="#00ff20"/>
<rect x="182" y="627" width="18" height="18" fill="#00ff13"/>
<rect x="200" y="627" width="36" height="18" fill="#00ff00"/>
<rect x="236" y="627" width="19" height="18" fill="#06ff00"/>
<rect x="255" y="627" width="18" height="18" fill="#13ff00"/>
<rect x="273" y="627" width="18" height="18" fill="#20ff00"/>
<rect x="291" y="627" width="18" height="18" fill="#26ff00"/>
<rect x="309" y="627" width="18" height="18" fill="#2dff00"/>
<rect x="327" y="627" width="37" height="18" fill="#39ff00"/>
<rect x="364" y="627" width="18" height="18" fill="#60ff00"/>
<rect x="382" y="627" width="18" height="18" fill="#80ff00"/>
<rect x="400" y="627" width="18" height="18" fill="#96ff00"/>
<rect x="418" y="627" width="18" height="18" fill="#c2ff00"/>
<rect x="436" y="627" width="19" height="18" fill="#e2ff00"/>
<rect x="455" y="627" width="18" height="18" fill="#efff00"/>
<rect x="473" y="627" width="18" height="18" fill="#f5ff00"/>
<rect x="491" y="627" width="18" height="18" fill="#fcff00"/>
<rect x="509" y="627" width="18" height="18" fill="#fff600"/>
<rect x="527" y="627" width="18" height="18" fill="#ffea00"/>
<rect x="545" y="627" width="19" height="18" fill="#ffe100"/>
<rect x="564" y="627" width="18" height="18" fill="#ffd800"/>
<rect x="582" y="627" width="18" height="18" fill="#ffcc00"/>
<rect x="600" y="627" width="18" height="18" fill="#ffc900"/>
<rect x="618" y="627" width="18" height="18" fill="#ffbd00"/>
<rect x="636" y="627" width="19" height="18" fill="#ffb400"/>
<rect x="655" y="627" width="18" height="18" fill="#ffa500"/>
<rect x="673" y="627" width="18" height="18" fill="#ff9600"/>
<rect x="691" y="627" width="18" height="18" fill="#ff9000"/>
<rect x="709" y="627" width="18" height="18" fill="#ff9300"/>
<rect x="727" y="627" width="37" height="18" fill="#ff9c00"/>
<rect x="764" y="627" width="36" height="18" fill="#ff9f00"/>
<rect x="0" y="645" width="18" height="19" fill="#00ff00"/>
<rect x="18" y="645" width="18" height="19" fill="#06ff00"/>
<rect x="36" y="645" width="37" height="19" fill="#0dff00"/>
<rect x="73" y="645" width="18" height="19" fill="#13ff00"/>
<rect x="91" y="645" width="18" height="19" fill="#0dff00"/>
<rect x="109" y="645" width="36" height="19" fill="#00ff00"/>
<rect x="145" y="645" width="19" height="19" fill="#00ff26"/>
<rect x="164" y="645" width="18" height="19" fill="#00ff39"/>
<rect x="182" y="645" width="18" height="19" fill="#00ff26"/>
<rect x="200" y="645" width="18" height="19" fill="#00ff06"/>
<rect x="218" y="645" width="37" height="19" fill="#00ff00"/>
<rect x="255" y="645" width="18" height="19" fill="#0dff00"/>
<rect x="273" y="645" width="18" height="19" fill="#1aff00"/>
<rect x="291" y="645" width="18" height="19" fill="#20ff00"/>
<rect x="309" y="645" width="18" height="19" fill="#26ff00"/>
<rect x="327" y="645" width="18" height="19" fill="#39ff00"/>
<rect x="345" y="645" width="19" height="19" fill="#4cff00"/>
<rect x="364" y="645" width="18" height="19" fill="#66ff00"/>
<rect x="382" y="645" width="18" height="19" fill="#80ff00"/>
<rect x="400" y="645" width="18" height="19" fill="#9cff00"/>
<rect x="418" y="645" width="18" height="19" fill="#bcff00"/>
<rect x="436" y="645" width="19" height="19" fill="#dcff00"/>
<rect x="455" y="645" width="18" height="19" fill="#efff00"/>
<rect x="473" y="645" width="18" height="19" fill="#fcff00"/>
<rect x="491" y="645" width="18" height="19" fill="#fffb00"/>
<rect x="509" y="645" width="18" height="19" fill="#fff000"/>
<rect x="527" y="645" width="18" height="19" fill="#ffea00"/>
<rect x="545" y="645" width="19" height="19" fill="#ffe100"/>
<rect x="564" y="645" width="18" height="19" fill="#ffd800"/>
<rect x="582" y="645" width="18" height="19" fill="#ffcc00"/>
<rect x="600" y="645" width="18" height="19" fill="#ffc300"/>
<rect x="618" y="645" width="18" height="19" fill="#ffbd00"/>
<rect x="636" y="645" width="19" height="19" fill="#ffae00"/>
<rect x="655" y="645" width="18" height="19" fill="#ff9c00"/>
<rect x="673" y="645" width="36" height="19" fill="#ff9300"/>
<rect x="709" y="645" width="18" height="19" fill="#ff9c00"/>
<rect x="727" y="645" width="18" height="19" fill="#ffa500"/>
<rect x="745" y="645" width="19" height="19" fill="#ffab00"/>
<rect x="764" y="645" width="36" height="19" fill="#ffae00"/>
<rect x="0" y="664" width="127" height="18" fill="#00ff00"/>
<rect x="127" y="664" width="18" height="18" fill="#00ff06"/>
<rect x="145" y="664" width="19" height="18" fill="#00ff33"/>
<rect x="164" y="664" width="18" height="18" fill="#00ff46"/>
<rect x="182" y="664" width="18" height="18" fill="#00ff33"/>
<rect x="200" y="664" width="18" height="18" fill="#00ff13"/>
<rect x="218" y="664" width="37" height="18" fill="#00ff00"/>
<rect x="255" y="664" width="18" height="18" fill="#06ff00"/>
<rect x="273" y="664" width="18" height="18" fill="#13ff00"/>
<rect x="291" y="664" width="18" height="18" fill="#1aff00"/>
<rect x="309" y="664" width="18" height="18" fill="#20ff00"/>
<rect x="327" y="664" width="18" height="18" fill="#39ff00"/>
<rect x="345" y="664" width="19" height="18" fill="#4cff00"/>
<rect x="364" y="664" width="18" height="18" fill="#6cff00"/>
<rect x="382" y="664" width="18" height="18" fill="#86ff00"/>
<rect x="400" y="664" width="18" height="18" fill="#a3ff00"/>
<rect x="418" y="664" width="18" height="18" fill="#c2ff00"/>
<rect x="436" y="664" width="19" height="18" fill="#dcff00"/>
<rect x="455" y="664" width="18" height="18" fill="#e9ff00"/>
<rect x="473" y="664" width="18" height="18" fill="#f5ff00"/>
<rect x="491" y="664" width="18" height="18" fill="#fffd00"/>
<rect x="509" y="664" width="18" height="18" fill="#fff000"/>
<rect x="527" y="664" width="18" height="18" fill="#ffea00"/>
<rect x="545" y="664" width="19" height="18" fill="#ffe100"/>
<rect x="564" y="664" width="18" height="18" fill="#ffd800"/>
<rect x="582" y="664" width="18" height="18" fill="#ffcc00"/>
<rect x="600" y="664" width="18" height="18" fill="#ffc300"/>
<rect x="618" y="664" width="18" height="18" fill="#ffba00"/>
<rect x="636" y="664" width="19" height="18" fill="#ffab00"/>
<rect x="655" y="664" width="36" height="18" fill="#ff9c00"/>
<rect x="691" y="664" width="18" height="18" fill="#ff9f00"/>
<rect x="709" y="664" width="18" height="18" fill="#ffab00"/>
<rect x="727" y="664" width="18" height="18" fill="#ffb400"/>
<rect x="745" y="664" width="55" height="18" fill="#ffba00"/>
<rect x="0" y="682" width="18" height="18" fill="#00ff13"/>
<rect x="18" y="682" width="18" height="18" fill="#00ff0d"/>
<rect x="36" y="682" width="19" height="18" fill="#00ff20"/>
<rect x="55" y="682" width="18" height="18" fill="#00ff2d"/>
<rect x="73" y="682" width="36" height="18" fill="#00ff39"/>
<rect x="109" y="682" width="18" height="18" fill="#00ff33"/>
<rect x="127" y="682" width="18" height="18" fill="#00ff26"/>
<rect x="145" y="682" width="19" height="18" fill="#00ff33"/>
<rect x="164" y="682" width="18" height="18" fill="#00ff39"/>
<rect x="182" y="682" width="18" height="18" fill="#00ff26"/>
<rect x="200" y="682" width="18" height="18" fill="#00ff13"/>
<rect x="218" y="682" width="18" height="18" fill="#00ff06"/>
<rect x="236" y="682" width="37" height="18" fill="#00ff00"/>
<rect x="273" y="682" width="18" height="18" fill="#06ff00"/>
<rect x="291" y="682" width="18" height="18" fill="#0dff00"/>
<rect x="309" y="682" width="18" height="18" fill="#1aff00"/>
<rect x="327" y="682" width="18" height="18" fill="#46ff00"/>
<rect x="345" y="682" width="19" height="18" fill="#59ff00"/>
<rect x="364" y="682" width="18" height="18" fill="#73ff00"/>
<rect x="382" y="682" width="18" height="18" fill="#93ff00"/>
<rect x="400" y="682" width="18" height="18" fill="#a9ff00"/>
<rect x="418" y="682" width="18" height="18" fill="#c2ff00"/>
<rect x="436" y="682" width="19" height="18" fill="#d6ff00"/>
<rect x="455" y="682" width="18" height="18" fill="#e9ff00"/>
<rect x="473" y="682" width="18" height="18" fill="#f5ff00"/>
<rect x="491" y="682" width="18" height="18" fill="#fffd00"/>
<rect x="509" y="682" width="18" height="18" fill="#fff300"/>
<rect x="527" y="682" width="18" height="18" fill="#ffea00"/>
<rect x="545" y="682" width="19" height="18" fill="#ffe100"/>
<rect x="564" y="682" width="18" height="18" fill="#ffd800"/>
<rect x="582" y="682" width="18" height="18" fill="#ffcf00"/>
<rect x="600" y="682" width="18" height="18" fill="#ffc300"/>
<rect x="618" y="682" width="18" height="18" fill="#ffba00"/>
<rect x="636" y="682" width="19" height="18" fill="#ffae00"/>
<rect x="655" y="682" width="36" height="18" fill="#ffab00"/>
<rect x="691" y="682" width="18" height="18" fill="#ffae00"/>
<rect x="709" y="682" width="18" height="18" fill="#ffb400"/>
<rect x="727" y="682" width="18" height="18" fill="#ffba00"/>
<rect x="745" y="682" width="55" height="18" fill="#ffbd00"/>
<rect x="0" y="700" width="18" height="18" fill="#00ff0d"/>
<rect x="18" y="700" width="18" height="18" fill="#00ff26"/>
<rect x="36" y="700" width="19" height="18" fill="#00ff33"/>
<rect x="55" y="700" width="18" height="18" fill="#00ff40"/>
<rect x="73" y="700" width="54" height="18" fill="#00ff59"/>
<rect x="127" y="700" width="18" height="18" fill="#00ff46"/>
<rect x="145" y="700" width="19" height="18" fill="#00ff33"/>
<rect x="164" y="700" width="18" height="18" fill="#00ff26"/>
<rect x="182" y="700" width="18" height="18" fill="#00ff20"/>
<rect x="200" y="700" width="18" height="18" fill="#00ff0d"/>
<rect x="218" y="700" width="18" height="18" fill="#00ff06"/>
<rect x="236" y="700" width="55" height="18" fill="#00ff00"/>
<rect x="291" y="700" width="18" height="18" fill="#0dff00"/>
<rect x="309" y="700" width="18" height="18" fill="#1aff00"/>
<rect x="327" y="700" width="18" height="18" fill="#4cff00"/>
<rect x="345" y="700" width="19" height="18" fill="#66ff00"/>
<rect x="364" y="700" width="18" height="18" fill="#80ff00"/>
<rect x="382" y="700" width="18" height="18" fill="#99ff00"/>
<rect x="400" y="700" width="18" height="18" fill="#a9ff00"/>
<rect x="418" y="700" width="18" height="18" fill="#c2ff00"/>
<rect x="436" y="700" width="19" height="18" fill="#d6ff00"/>
<rect x="455" y="700" width="18" height="18" fill="#e2ff00"/>
<rect x="473" y="700" width="36" height="18" fill="#efff00"/>
<rect x="509" y="700" width="18" height="18" fill="#fff900"/>
<rect x="527" y="700" width="18" height="18" fill="#ffed00"/>
<rect x="545" y="700" width="19" height="18" fill="#ffe400"/>
<rect x="564" y="700" width="18" height="18" fill="#ffdb00"/>
<rect x="582" y="700" width="18" height="18" fill="#ffd200"/>
<rect x="600" y="700" width="18" height="18" fill="#ffc900"/>
<rect x="618" y="700" width="18" height="18" fill="#ffc300"/>
<rect x="636" y="700" width="19" height="18" fill="#ffbd00"/>
<rect x="655" y="700" width="54" height="18" fill="#ffba00"/>
<rect x="709" y="700" width="36" height="18" fill="#ffbd00"/>
<rect x="745" y="700" width="55" height="18" fill="#ffc300"/>
<rect x="0" y="718" width="18" height="18" fill="#00ff39"/>
<rect x="18" y="718" width="18" height="18" fill="#00ff46"/>
<rect x="36" y="718" width="19" height="18" fill="#00ff4c"/>
<rect x="55" y="718" width="18" height="18" fill="#00ff59"/>
<rect x="73" y="718" width="36" height="18" fill="#00ff6c"/>
<rect x="109" y="718" width="18" height="18" fill="#00ff66"/>
<rect x="127" y="718" width="18" height="18" fill="#00ff4c"/>
<rect x="145" y="718" width="19" height="18" fill="#00ff33"/>
<rect x="164" y="718" width="18" height="18" fill="#00ff20"/>
<rect x="182" y="718" width="18" height="18" fill="#00ff13"/>
<rect x="200" y="718" width="36" height="18" fill="#00ff06"/>
<rect x="236" y="718" width="55" height="18" fill="#00ff00"/>
<rect x="291" y="718" width="18" height="18" fill="#0dff00"/>
<rect x="309" y="718" width="18" height="18" fill="#33ff00"/>
<rect x="327" y="718" width="18" height="18" fill="#59ff00"/>
<rect x="345" y="718" width="19" height="18" fill="#6cff00"/>
<rect x="364" y="718" width="18" height="18" fill="#86ff00"/>
<rect x="382" y="718" width="18" height="18" fill="#9fff00"/>
<rect x="400" y="718" width="18" height="18" fill="#afff00"/>
<rect x="418" y="718" width="18" height="18" fill="#c2ff00"/>
<rect x="436" y="718" width="19" height="18" fill="#d6ff00"/>
<rect x="455" y="718" width="18" height="18" fill="#e9ff00"/>
<rect x="473" y="718" width="18" height="18" fill="#efff00"/>
<rect x="491" y="718" width="18" height="18" fill="#fcff00"/>
<rect x="509" y="718" width="18" height="18" fill="#fff900"/>
<rect x="527" y="718" width="18" height="18" fill="#fff000"/>
<rect x="545" y="718" width="19" height="18" fill="#ffe700"/>
<rect x="564" y="718" width="18" height="18" fill="#ffdb00"/>
<rect x="582" y="718" width="18" height="18" fill="#ffd500"/>
<rect x="600" y="718" width="18" height="18" fill="#ffcf00"/>
<rect x="618" y="718" width="18" height="18" fill="#ffc900"/>
<rect x="636" y="718" width="19" height="18" fill="#ffc300"/>
<rect x="655" y="718" width="18" height="18" fill="#ffc000"/>
<rect x="673" y="718" width="18" height="18" fill="#ffbd00"/>
<rect x="691" y="718" width="36" height="18" fill="#ffba00"/>
<rect x="727" y="718" width="18" height="18" fill="#ffbd00"/>
<rect x="745" y="718" width="19" height="18" fill="#ffc300"/>
<rect x="764" y="718" width="18" height="18" fill="#ffc900"/>
<rect x="782" y="718" width="18" height="18" fill="#ffcc00"/>
<rect x="0" y="736" width="18" height="18" fill="#00ff46"/>
<rect x="18" y="736" width="18" height="18" fill="#00ff4c"/>
<rect x="36" y="736" width="19" height="18" fill="#00ff59"/>
<rect x="55" y="736" width="18" height="18" fill="#00ff66"/>
<rect x="73" y="736" width="36" height="18" fill="#00ff79"/>
<rect x="109" y="736" width="18" height="18" fill="#00ff6c"/>
<rect x="127" y="736" width="18" height="18" fill="#00ff4c"/>
<rect x="145" y="736" width="19" height="18" fill="#00ff33"/>
<rect x="164" y="736" width="18" height="18" fill="#00ff20"/>
<rect x="182" y="736" width="18" height="18" fill="#00ff13"/>
<rect x="200" y="736" width="18" height="18" fill="#00ff06"/>
<rect x="218" y="736" width="18" height="18" fill="#00ff0d"/>
<rect x="236" y="736" width="19" height="18" fill="#00ff06"/>
<rect x="255" y="736" width="36" height="18" fill="#00ff00"/>
<rect x="291" y="736" width="18" height="18" fill="#13ff00"/>
<rect x="309" y="736" width="18" height="18" fill="#39ff00"/>
<rect x="327" y="736" width="18" height="18" fill="#66ff00"/>
<rect x="345" y="736" width="19" height="18" fill="#79ff00"/>
<rect x="364" y="736" width="18" height="18" fill="#8cff00"/>
<rect x="382" y="736" width="18" height="18" fill="#9fff00"/>
<rect x="400" y="736" width="18" height="18" fill="#a9ff00"/>
<rect x="418" y="736" width="18" height="18" fill="#bcff00"/>
<rect x="436" y="736" width="19" height="18" fill="#cfff00"/>
<rect x="455" y="736" width="18" height="18" fill="#e2ff00"/>
<rect x="473" y="736" width="18" height="18" fill="#efff00"/>
<rect x="491" y="736" width="18" height="18" fill="#fcff00"/>
<rect x="509" y="736" width="18" height="18" fill="#fffc00"/>
<rect x="527" y="736" width="18" height="18" fill="#fff300"/>
<rect x="545" y="736" width="19" height="18" fill="#ffea00"/>
<rect x="564" y="736" width="18" height="18" fill="#ffe100"/>
<rect x="582" y="736" width="18" height="18" fill="#ffdb00"/>
<rect x="600" y="736" width="18" height="18" fill="#ffd800"/>
<rect x="618" y="736" width="18" height="18" fill="#ffd500"/>
<rect x="636" y="736" width="19" height="18" fill="#ffd200"/>
<rect x="655" y="736" width="18" height="18" fill="#ffcc00"/>
<rect x="673" y="736" width="18" height="18" fill="#ffc900"/>
<rect x="691" y="736" width="54" height="18" fill="#ffc300"/>
<rect x="745" y="736" width="19" height="18" fill="#ffc900"/>
<rect x="764" y="736" width="18" height="18" fill="#ffcf00"/>
<rect x="782" y="736" width="18" height="18" fill="#ffd200"/>
<rect x="0" y="754" width="18" height="19" fill="#00ff46"/>
<rect x="18" y="754" width="18" height="19" fill="#00ff4c"/>
<rect x="36" y="754" width="19" height="19" fill="#00ff59"/>
<rect x="55" y="754" width="18" height="19" fill="#00ff66"/>
<rect x="73" y="754" width="36" height="19" fill="#00ff79"/>
<rect x="109" y="754" width="18" height="19" fill="#00ff6c"/>
<rect x="127" y="754" width="18" height="19" fill="#00ff4c"/>
<rect x="145" y="754" width="19" height="19" fill="#00ff33"/>
<rect x="164" y="754" width="18" height="19" fill="#00ff20"/>
<rect x="182" y="754" width="18" height="19" fill="#00ff13"/>
<rect x="200" y="754" width="18" height="19" fill="#00ff06"/>
<rect x="218" y="754" width="18" height="19" fill="#00ff0d"/>
<rect x="236" y="754" width="19" height="19" fill="#00ff06"/>
<rect x="255" y="754" width="36" height="19" fill="#00ff00"/>
<rect x="291" y="754" width="18" height="19" fill="#20ff00"/>
<rect x="309" y="754" width="18" height="19" fill="#46ff00"/>
<rect x="327" y="754" width="18" height="19" fill="#6cff00"/>
<rect x="345" y="754" width="19" height="19" fill="#79ff00"/>
<rect x="364" y="754" width="18" height="19" fill="#8cff00"/>
<rect x="382" y="754" width="18" height="19" fill="#9fff00"/>
<rect x="400" y="754" width="18" height="19" fill="#a9ff00"/>
<rect x="418" y="754" width="18" height="19" fill="#bcff00"/>
<rect x="436" y="754" width="19" height="19" fill="#cfff00"/>
<rect x="455" y="754" width="18" height="19" fill="#dcff00"/>
<rect x="473" y="754" width="18" height="19" fill="#e9ff00"/>
<rect x="491" y="754" width="18" height="19" fill="#f5ff00"/>
<rect x="509" y="754" width="18" height="19" fill="#fffc00"/>
<rect x="527" y="754" width="18" height="19" fill="#fff300"/>
<rect x="545" y="754" width="19" height="19" fill="#ffed00"/>
<rect x="564" y="754" width="18" height="19" fill="#ffe400"/>
<rect x="582" y="754" width="54" height="19" fill="#ffe100"/>
<rect x="636" y="754" width="19" height="19" fill="#ffdb00"/>
<rect x="655" y="754" width="18" height="19" fill="#ffd800"/>
<rect x="673" y="754" width="18" height="19" fill="#ffd200"/>
<rect x="691" y="754" width="18" height="19" fill="#ffcf00"/>
<rect x="709" y="754" width="36" height="19" fill="#ffcc00"/>
<rect x="745" y="754" width="19" height="19" fill="#ffcf00"/>
<rect x="764" y="754" width="18" height="19" fill="#ffd200"/>
<rect x="782" y="754" width="18" height="19" fill="#ffd500"/>
</g>
<g shape-rendering="crispEdges" fill="#808080">
<rect x="9" y="28" width="1" height="745"/>
<rect x="81" y="28" width="1" height="745"/>
<rect x="154" y="28" width="1" height="745"/>
<rect x="227" y="28" width="1" height="745"/>
<rect x="300" y="28" width="1" height="745"/>
<rect x="372" y="28" width="1" height="745"/>
<rect x="445" y="28" width="1" height="745"/>
<rect x="518" y="28" width="1" height="745"/>
<rect x="590" y="28" width="1" height="745"/>
<rect x="663" y="28" width="1" height="745"/>
<rect x="736" y="28" width="1" height="745"/>
<rect x="0" y="36" width="800" height="1"/>
<rect x="0" y="109" width="800" height="1"/>
<rect x="0" y="181" width="800" height="1"/>
<rect x="0" y="254" width="800" height="1"/>
<rect x="0" y="327" width="800" height="1"/>
<rect x="0" y="399" width="800" height="1"/>
<rect x="0" y="472" width="800" height="1"/>
<rect x="0" y="545" width="800" height="1"/>
<rect x="0" y="618" width="800" height="1"/>
<rect x="0" y="690" width="800" height="1"/>
<rect x="0" y="763" width="800" height="1"/>
</g>
<g fill="none" stroke="#000" stroke-width="0.99" shape-rendering="crispEdges">
<path d="M0 617.8L18.8 616.3L32.8 613.8L81.9 607.5L93.8 606.6L109.4 601.9L128 599L146.9 596L168.8 589.4L187.5 585.6L200 581.3L211.3 578L223.8 572L237.5 567.5L253.8 558.8L261.3 551.3L262.5 537.5L272.5 525L282.5 516.3L291.3 507.5L298.8 497.5L305 488.8L312.5 478.8L320 470L324.3 465L324.3 450L322.5 435L320.8 424.5L317.5 423L310 426L302.5 423.8L292.5 418.8L282.5 410L276.3 400L272.5 390L273.8 380L278.8 370L286.3 363.8L290 357.5L287.5 350L280 342.5L270 332.5L262.5 327.5L255 323.8L242.5 317.5L230 312.5L220 308.8L210 302.5L201.3 296.3L195 290L190.5 286.3L192.5 281.3L185.5 275.5L195 273.8L198.8 267.5L199.5 260L196.3 255L195 250L192.5 242.5L188 235L187.5 225L188.8 215L192.5 207.5L197.5 202.5L197.5 195L195.8 191.3L196.3 188.8L203.8 190L213.8 190L220 186.3L223 178.8L222.5 172.5L218 165L216.3 152.5L213 143.8L212 142.5"/>
<path d="M241.3 28L235 29.8L233.5 32.5L236 34.5L234 50L234.4 53L230 60L227.5 65.6L222.5 68.8L225 73L228 75L228 78.8L226.3 85L225.3 91.3L223 95L216.3 96.9L212.3 100.6L216.3 106.3L216.9 112.5L213 120L220 128.8L218.8 133.8L212 142.5L213.8 152.5L215.5 165L217.5 172.5L216.3 178.8L218.8 183.8L216.3 187.5L210 189.3L201.3 188.8L200 192.5L201.3 200L200 206.3L197.5 210L198.8 215L196.3 220L195.5 226.3L196.3 235L197 245L198.8 250L203.8 253.8L205 260L212.5 267.5L220 276.3L226.3 281.3L233.8 286.3L238.8 288.8L245 286.3L252.5 285L260 286.3L266.3 285L275 285L285 286.3L291.3 288.8L297.5 293.8L305 298.8L312.5 302.5L320 305L330 307.5L340 310L345 312.5L343.8 316.3L350 318.8L357.5 320L363.8 321.3L367 319L372.5 315.5L380 312L387.5 310L395 309.5L402.5 310L410 311.3L417.5 313.8L422.5 317.5L428.8 319.5L435 318.3L442.5 319.5L447.5 322.5L448.8 325L452.5 323L460 320L467.5 317L475 313.8L482.5 310.8L490 308L496.3 306.3L497.5 303.8L493.8 302L495 298.8L498.8 298L497 295.5L495 295.5L498 296.3L499.5 300L503.8 302.5L507.5 302L510 298.8L517.5 293.8L526.3 286.3L535 281.3L536.3 275L542.5 267.5L546.3 262.5L551.3 256.3L553.8 247.5L557.5 240L562.5 235.5L570 230L580 222.5L590 215.5L600 207.5L610 200L617.5 192.5L621.3 183.8L626.3 173.8L630 162.5L633.8 150L636.3 140L641.3 132.5L650 125L657.5 118.8L670 107.5L687.5 95L705 82.5L722.5 70L740 57.5L752.5 45L762.5 32.5L766.3 28"/>
<path d="M385.5 40.1L389.6 34.6L393.8 30.5L399.3 31.1L403.4 28.3L407.5 27.8L413 33.3L418.5 38.8L421.3 45.6L426.8 52.5L435 56.6L441.9 58L447.4 62.1L454.3 66.3L465.3 69L474.9 73.1L483.1 78.6L490 88.3L498.3 95.1L506.5 100.6L512 99.3L518.9 104.8L524.4 106.1L529.9 111.6L535.4 113L538.1 119.9L542.3 126.8L545 135L551.9 143.3L560.1 150.1L569.8 152.9L576.6 155.6L583.5 162L576.6 168L569.8 174.9L568.4 179L561.5 183.1L554.6 187.3L551.9 195.5L553.3 206.5L553.8 217.5L552.7 228.5L556 232.6L561.5 236.2"/>
<path d="M703 28L701 31L702 37L703 42L698 44L692 45L689 48L690 53L687 55L680 56L673 58L667 62L664 65"/>
<path d="M657 78L660 76.6L661.6 79L659.6 81.4L657 80L657 78"/>
<path d="M663 78L662 82L658 85L652 88L648 90L647 94L649 96L646 99L648 102L651 104L647 107L645 111L648 113L652 115L655 112L657 114L654 116L657 119L660 116L662 111L660 107L663 105L658 102L657 98L660 95L665 96L673 99L677 97L675 95L680 94L688 91L694 87L699 83L702 79L703 82L705 75L706 72L711 74L716 71L720 67L723 62L724 57L726 53L724 48L725 44L730 42L734 40L736 45L737 41L739.6 44L738 37L739 31L738 28"/>
</g>
<g stroke="#fff" fill="none" shape-rendering="crispEdges">
<path stroke-width="0.99" d="M718.2 36.3L730.6 32.7M730.6 32.7L724.2 31.8M730.6 32.7L725.7 36.9M772.7 36.3L788.6 31.7M788.6 31.7L780.4 30.6M788.6 31.7L782.3 37.0M790.9 36.3L808.2 31.3M808.2 31.3L799.3 30.1M808.2 31.3L801.3 37.1M700.0 54.5L712.7 50.8M712.7 50.8L706.1 49.9M712.7 50.8L707.6 55.0M718.2 54.5L731.6 50.6M731.6 50.6L724.7 49.6M731.6 50.6L726.3 55.1M754.5 54.5L770.5 49.9M770.5 49.9L762.3 48.7M770.5 49.9L764.2 55.2M772.7 54.5L789.7 49.6M789.7 49.6L781.0 48.4M789.7 49.6L783.0 55.3M790.9 54.5L808.9 49.3M808.9 49.3L799.6 48.0M808.9 49.3L801.7 55.3M681.8 72.7L697.3 68.1M697.3 68.1L689.3 67.0M697.3 68.1L691.1 73.3M700.0 72.7L716.2 67.9M716.2 67.9L707.8 66.8M716.2 67.9L709.8 73.4M718.2 72.7L734.8 67.8M734.8 67.8L726.2 66.7M734.8 67.8L728.2 73.4M736.4 72.7L753.6 67.7M753.6 67.7L744.7 66.4M753.6 67.7L746.7 73.5M754.5 72.7L772.2 67.6M772.2 67.6L763.1 66.3M772.2 67.6L765.2 73.5M772.7 72.7L790.9 67.4M790.9 67.4L781.5 66.1M790.9 67.4L783.6 73.5M790.9 72.7L809.7 67.2M809.7 67.2L800.0 65.9M809.7 67.2L802.2 73.5M663.6 90.8L674.5 87.6M674.5 87.6L668.9 86.9M674.5 87.6L670.2 91.3M681.8 90.8L697.1 86.3M697.1 86.3L689.2 85.3M697.1 86.3L691.1 91.5M700.0 90.8L716.0 86.2M716.0 86.2L707.7 85.0M716.0 86.2L709.6 91.5M718.2 90.8L734.9 86.0M734.9 86.0L726.3 84.8M734.9 86.0L728.3 91.6M736.4 90.8L753.7 85.8M753.7 85.8L744.8 84.6M753.7 85.8L746.8 91.6M754.5 90.8L772.5 85.6M772.5 85.6L763.3 84.3M772.5 85.6L765.4 91.7M772.7 90.8L791.4 85.4M791.4 85.4L781.8 84.1M791.4 85.4L784.0 91.7M790.9 90.8L810.1 85.3M810.1 85.3L800.2 83.9M810.1 85.3L802.4 91.7M681.8 109.0L697.0 104.5M697.0 104.5L689.2 103.5M697.0 104.5L691.0 109.7M700.0 109.0L716.5 104.2M716.5 104.2L708.0 103.0M716.5 104.2L709.9 109.7M718.2 109.0L735.4 104.0M735.4 104.0L726.5 102.8M735.4 104.0L728.6 109.8M736.4 109.0L754.1 103.8M754.1 103.8L744.9 102.6M754.1 103.8L747.1 109.8M754.5 109.0L772.9 103.7M772.9 103.7L763.4 102.4M772.9 103.7L765.6 109.8M772.7 109.0L791.7 103.5M791.7 103.5L781.9 102.1M791.7 103.5L784.2 109.9M790.9 109.0L810.6 103.3M810.6 103.3L800.4 101.9M810.6 103.3L802.7 109.9M663.6 127.2L678.8 122.7M678.8 122.7L671.0 121.7M678.8 122.7L672.8 127.8M681.8 127.2L698.1 122.4M698.1 122.4L689.7 121.3M698.1 122.4L691.7 127.9M700.0 127.2L717.1 122.2M717.1 122.2L708.3 121.0M717.1 122.2L710.3 127.9M718.2 127.2L735.8 122.0M735.8 122.0L726.7 120.8M735.8 122.0L728.8 128.0M736.4 127.2L754.5 121.9M754.5 121.9L745.1 120.6M754.5 121.9L747.3 128.0M754.5 127.2L773.3 121.7M773.3 121.7L763.6 120.4M773.3 121.7L765.8 128.0M772.7 127.2L792.1 121.5M792.1 121.5L782.1 120.2M792.1 121.5L784.4 128.1M790.9 127.2L810.9 121.3M810.9 121.3L800.6 119.9M810.9 121.3L803.0 128.1M645.5 145.4L660.6 140.8M660.6 140.8L652.8 139.8M660.6 140.8L654.6 146.0M663.6 145.4L679.8 140.6M679.8 140.6L671.5 139.5M679.8 140.6L673.4 146.1M681.8 145.4L698.8 140.4M698.8 140.4L690.0 139.2M698.8 140.4L692.1 146.1M700.0 145.4L717.6 140.2M717.6 140.2L708.5 139.0M717.6 140.2L710.6 146.1M718.2 145.4L736.3 140.1M736.3 140.1L726.9 138.8M736.3 140.1L729.1 146.2M736.4 145.4L755.0 139.9M755.0 139.9L745.4 138.6M755.0 139.9L747.6 146.2M754.5 145.4L773.7 139.8M773.7 139.8L763.8 138.4M773.7 139.8L766.1 146.2M772.7 145.4L792.6 139.5M792.6 139.5L782.3 138.2M792.6 139.5L784.7 146.3M790.9 145.4L811.2 139.4M811.2 139.4L800.7 138.0M811.2 139.4L803.1 146.3M645.5 163.6L660.6 159.0M660.6 159.0L652.8 158.0M660.6 159.0L654.6 164.2M663.6 163.6L680.0 158.7M680.0 158.7L671.5 157.6M680.0 158.7L673.5 164.3M681.8 163.6L699.2 158.4M699.2 158.4L690.2 157.2M699.2 158.4L692.3 164.3M700.0 163.6L718.4 158.1M718.4 158.1L708.9 156.9M718.4 158.1L711.1 164.3M718.2 163.6L737.3 157.9M737.3 157.9L727.4 156.6M737.3 157.9L729.7 164.4M736.4 163.6L756.0 157.8M756.0 157.8L745.8 156.4M756.0 157.8L748.2 164.4M754.5 163.6L774.7 157.6M774.7 157.6L764.3 156.2M774.7 157.6L766.7 164.4M772.7 163.6L793.4 157.5M793.4 157.5L782.7 156.1M793.4 157.5L785.2 164.5M790.9 163.6L812.1 157.3M812.1 157.3L801.1 155.9M812.1 157.3L803.7 164.5M627.3 181.7L642.4 177.1M642.4 177.1L634.6 176.1M642.4 177.1L636.4 182.3M645.5 181.7L662.0 176.8M662.0 176.8L653.4 175.7M662.0 176.8L655.5 182.4M663.6 181.7L681.2 176.5M681.2 176.5L672.1 175.3M681.2 176.5L674.3 182.5M681.8 181.7L700.4 176.2M700.4 176.2L690.8 175.0M700.4 176.2L693.0 182.5M700.0 181.7L719.4 176.0M719.4 176.0L709.4 174.7M719.4 176.0L711.7 182.6M718.2 181.7L738.2 175.8M738.2 175.8L727.8 174.5M738.2 175.8L730.2 182.6M736.4 181.7L756.7 175.7M756.7 175.7L746.2 174.3M756.7 175.7L748.7 182.6M754.5 181.7L775.7 175.5M775.7 175.5L764.8 174.0M775.7 175.5L767.3 182.6M772.7 181.7L794.5 175.3M794.5 175.3L783.2 173.8M794.5 175.3L785.9 182.7M790.9 181.7L812.8 175.3M812.8 175.3L801.5 173.8M812.8 175.3L804.1 182.7M609.1 199.9L624.2 195.2M624.2 195.2L616.3 194.3M624.2 195.2L618.3 200.4M627.3 199.9L644.0 194.7M644.0 194.7L635.3 193.7M644.0 194.7L637.4 200.5M645.5 199.9L663.3 194.5M663.3 194.5L654.0 193.4M663.3 194.5L656.2 200.6M663.6 199.9L682.4 194.3M682.4 194.3L672.7 193.1M682.4 194.3L674.9 200.7M681.8 199.9L701.0 194.2M701.0 194.2L691.1 192.9M701.0 194.2L693.4 200.7M700.0 199.9L719.8 194.0M719.8 194.0L709.5 192.7M719.8 194.0L712.0 200.7M718.2 199.9L738.6 193.8M738.6 193.8L728.0 192.4M738.6 193.8L730.5 200.7M736.4 199.9L757.4 193.6M757.4 193.6L746.5 192.2M757.4 193.6L749.1 200.8M754.5 199.9L776.3 193.4M776.3 193.4L765.0 192.0M776.3 193.4L767.7 200.8M772.7 199.9L795.0 193.2M795.0 193.2L783.5 191.8M795.0 193.2L786.2 200.8M790.9 199.9L813.3 193.2M813.3 193.2L801.7 191.7M813.3 193.2L804.4 200.8M590.9 218.1L606.0 213.2M606.0 213.2L598.1 212.4M606.0 213.2L600.1 218.5M609.1 218.1L625.8 212.8M625.8 212.8L617.1 211.8M625.8 212.8L619.3 218.6M627.3 218.1L645.0 212.5M645.0 212.5L635.8 211.5M645.0 212.5L638.1 218.7M645.5 218.1L664.1 212.4M664.1 212.4L654.4 211.2M664.1 212.4L656.8 218.8M663.6 218.1L683.1 212.3M683.1 212.3L673.0 211.0M683.1 212.3L675.4 218.9M681.8 218.1L701.8 212.1M701.8 212.1L691.5 210.8M701.8 212.1L693.9 218.9M700.0 218.1L720.9 211.8M720.9 211.8L710.1 210.4M720.9 211.8L712.6 218.9M718.2 218.1L739.3 211.7M739.3 211.7L728.4 210.3M739.3 211.7L731.0 218.9M736.4 218.1L757.5 211.6M757.5 211.6L746.5 210.3M757.5 211.6L749.2 218.9M754.5 218.1L776.3 211.5M776.3 211.5L765.0 210.1M776.3 211.5L767.7 218.9M772.7 218.1L794.6 211.4M794.6 211.4L783.2 210.0M794.6 211.4L785.9 218.9M790.9 218.1L812.7 211.4M812.7 211.4L801.4 210.0M812.7 211.4L804.1 218.9M572.7 236.3L586.4 231.3M586.4 231.3L579.1 230.8M586.4 231.3L581.1 236.4M590.9 236.3L607.8 230.2M607.8 230.2L598.8 229.5M607.8 230.2L601.3 236.4M609.1 236.3L627.4 229.4M627.4 229.4L617.6 228.9M627.4 229.4L620.4 236.3M627.3 236.3L645.9 229.1M645.9 229.1L635.9 228.6M645.9 229.1L638.8 236.2M645.5 236.3L664.9 228.6M664.9 228.6L654.4 228.2M664.9 228.6L657.6 236.1M663.6 236.3L683.2 228.4M683.2 228.4L672.7 228.0M683.2 228.4L675.9 236.0M681.8 236.3L702.1 227.7M702.1 227.7L691.1 227.5M702.1 227.7L694.6 235.7M700.0 236.3L720.5 227.2M720.5 227.2L709.3 227.2M720.5 227.2L713.0 235.5M718.2 236.3L738.2 227.0M738.2 227.0L727.1 227.2M738.2 227.0L730.9 235.3M736.4 236.3L755.5 227.0M755.5 227.0L744.8 227.3M755.5 227.0L748.6 235.1M754.5 236.3L773.5 227.0M773.5 227.0L763.0 227.4M773.5 227.0L766.7 235.1M772.7 236.3L791.7 227.0M791.7 227.0L781.2 227.4M791.7 227.0L784.9 235.1M790.9 236.3L810.0 227.0M810.0 227.0L799.4 227.3M810.0 227.0L803.2 235.1M554.5 254.5L568.0 249.3M568.0 249.3L560.8 248.9M568.0 249.3L562.9 254.4M572.7 254.5L589.4 247.8M589.4 247.8L580.4 247.5M589.4 247.8L583.1 254.3M590.9 254.5L609.4 246.8M609.4 246.8L599.4 246.5M609.4 246.8L602.5 254.1M609.1 254.5L628.6 246.3M628.6 246.3L618.0 246.1M628.6 246.3L621.3 254.0M627.3 254.5L646.7 246.2M646.7 246.2L636.2 246.0M646.7 246.2L639.5 253.9M645.5 254.5L664.8 246.1M664.8 246.1L654.3 246.0M664.8 246.1L657.7 253.8M663.6 254.5L682.7 246.0M682.7 246.0L672.3 246.0M682.7 246.0L675.7 253.7M681.8 254.5L700.8 245.8M700.8 245.8L690.4 245.9M700.8 245.8L693.9 253.6M700.0 254.5L718.5 245.8M718.5 245.8L708.3 246.0M718.5 245.8L711.8 253.5M718.2 254.5L736.1 245.9M736.1 245.9L726.2 246.2M736.1 245.9L729.6 253.5M736.4 254.5L754.5 245.6M754.5 245.6L744.4 246.0M754.5 245.6L748.0 253.4M754.5 254.5L773.4 245.3M773.4 245.3L762.9 245.6M773.4 245.3L766.7 253.3M772.7 254.5L791.8 245.2M791.8 245.2L781.2 245.5M791.8 245.2L785.0 253.3M790.9 254.5L810.2 245.0M810.2 245.0L799.5 245.4M810.2 245.0L803.3 253.3M209.1 272.7L219.1 267.3M219.1 267.3L213.5 267.7M219.1 267.3L215.6 271.8M554.5 272.7L570.8 265.1M570.8 265.1L561.8 265.2M570.8 265.1L564.9 271.8M572.7 272.7L590.5 264.2M590.5 264.2L580.6 264.4M590.5 264.2L584.1 271.7M590.9 272.7L609.5 263.6M609.5 263.6L599.2 263.9M609.5 263.6L602.9 271.5M609.1 272.7L627.8 263.2M627.8 263.2L617.4 263.7M627.8 263.2L621.2 271.3M627.3 272.7L645.5 263.1M645.5 263.1L635.3 263.8M645.5 263.1L639.1 271.2M645.5 272.7L663.0 263.2M663.0 263.2L653.1 264.0M663.0 263.2L656.9 271.1M663.6 272.7L680.7 263.2M680.7 263.2L671.0 264.0M680.7 263.2L674.8 271.0M681.8 272.7L698.8 263.0M698.8 263.0L689.1 263.9M698.8 263.0L693.0 270.8M700.0 272.7L717.2 262.5M717.2 262.5L707.3 263.7M717.2 262.5L711.4 270.7M718.2 272.7L736.1 261.8M736.1 261.8L725.7 263.1M736.1 261.8L730.1 270.4M736.4 272.7L755.1 261.0M755.1 261.0L744.1 262.5M755.1 261.0L748.9 270.1M754.5 272.7L773.6 260.8M773.6 260.8L762.5 262.3M773.6 260.8L767.3 270.1M772.7 272.7L792.1 260.6M792.1 260.6L780.8 262.1M792.1 260.6L785.7 270.0M790.9 272.7L810.6 260.3M810.6 260.3L799.1 262.0M810.6 260.3L804.1 270.0M209.1 290.8L219.5 285.1M219.5 285.1L213.6 285.6M219.5 285.1L215.9 289.8M227.3 290.8L237.8 285.0M237.8 285.0L231.8 285.5M237.8 285.0L234.2 289.8M245.5 290.8L255.8 285.1M255.8 285.1L249.9 285.6M255.8 285.1L252.3 289.8M263.6 290.8L273.6 285.3M273.6 285.3L267.9 285.8M273.6 285.3L270.1 289.9M281.8 290.8L292.2 285.1M292.2 285.1L286.3 285.6M292.2 285.1L288.6 289.8M536.4 290.8L551.4 282.5M551.4 282.5L542.8 283.3M551.4 282.5L546.2 289.4M554.5 290.8L571.3 281.1M571.3 281.1L561.7 282.1M571.3 281.1L565.6 289.0M572.7 290.8L590.2 280.4M590.2 280.4L580.1 281.6M590.2 280.4L584.3 288.7M590.9 290.8L608.2 280.2M608.2 280.2L598.1 281.5M608.2 280.2L602.5 288.6M609.1 290.8L625.9 280.4M625.9 280.4L616.1 281.7M625.9 280.4L620.4 288.6M627.3 290.8L643.7 280.6M643.7 280.6L634.1 281.9M643.7 280.6L638.3 288.6M645.5 290.8L661.5 280.7M661.5 280.7L652.1 282.1M661.5 280.7L656.3 288.6M663.6 290.8L679.8 280.6M679.8 280.6L670.3 282.0M679.8 280.6L674.5 288.5M681.8 290.8L698.6 280.0M698.6 280.0L688.7 281.6M698.6 280.0L693.1 288.4M700.0 290.8L717.6 279.4M717.6 279.4L707.2 281.0M717.6 279.4L711.9 288.2M718.2 290.8L736.4 278.9M736.4 278.9L725.6 280.6M736.4 278.9L730.5 288.0M736.4 290.8L754.9 278.5M754.9 278.5L743.9 280.4M754.9 278.5L749.0 287.9M754.5 290.8L773.7 278.1M773.7 278.1L762.4 280.0M773.7 278.1L767.5 287.8M772.7 290.8L792.4 277.8M792.4 277.8L780.8 279.7M792.4 277.8L786.1 287.7M790.9 290.8L810.9 277.5M810.9 277.5L799.1 279.5M810.9 277.5L804.5 287.7M227.3 309.0L236.3 304.0M236.3 304.0L231.1 304.5M236.3 304.0L233.2 308.1M245.5 309.0L255.4 303.5M255.4 303.5L249.7 304.0M255.4 303.5L252.0 308.0M263.6 309.0L274.1 303.2M274.1 303.2L268.2 303.7M274.1 303.2L270.5 308.0M281.8 309.0L292.4 303.1M292.4 303.1L286.4 303.7M292.4 303.1L288.8 308.0M300.0 309.0L310.3 303.3M310.3 303.3L304.4 303.8M310.3 303.3L306.7 308.0M318.2 309.0L328.4 303.3M328.4 303.3L322.6 303.8M328.4 303.3L324.9 308.0M500.0 309.0L515.3 299.6M515.3 299.6L506.4 300.8M515.3 299.6L510.2 307.0M518.2 309.0L534.6 298.7M534.6 298.7L525.0 300.1M534.6 298.7L529.2 306.8M536.4 309.0L553.0 298.2M553.0 298.2L543.2 299.8M553.0 298.2L547.6 306.5M554.5 309.0L571.1 297.9M571.1 297.9L561.3 299.6M571.1 297.9L565.8 306.3M572.7 309.0L589.3 297.7M589.3 297.7L579.4 299.5M589.3 297.7L584.0 306.2M590.9 309.0L607.1 297.7M607.1 297.7L597.4 299.6M607.1 297.7L602.0 306.1M609.1 309.0L625.0 297.9M625.0 297.9L615.5 299.7M625.0 297.9L620.0 306.2M627.3 309.0L643.0 298.0M643.0 298.0L633.6 299.9M643.0 298.0L638.0 306.2M645.5 309.0L661.3 297.9M661.3 297.9L651.8 299.7M661.3 297.9L656.4 306.2M663.6 309.0L680.4 297.3M680.4 297.3L670.4 299.2M680.4 297.3L675.1 306.1M681.8 309.0L699.2 297.0M699.2 297.0L688.8 298.9M699.2 297.0L693.7 306.0M700.0 309.0L718.2 296.5M718.2 296.5L707.3 298.5M718.2 296.5L712.4 305.9M718.2 309.0L736.9 296.2M736.9 296.2L725.8 298.3M736.9 296.2L731.0 305.9M736.4 309.0L755.4 296.2M755.4 296.2L744.1 298.2M755.4 296.2L749.3 305.9M754.5 309.0L774.1 295.8M774.1 295.8L762.5 297.9M774.1 295.8L767.9 305.8M772.7 309.0L792.9 295.4M792.9 295.4L780.9 297.5M792.9 295.4L786.4 305.7M790.9 309.0L811.4 295.2M811.4 295.2L799.2 297.4M811.4 295.2L804.8 305.7M263.6 327.2L272.9 321.7M272.9 321.7L267.6 322.3M272.9 321.7L269.8 326.1M281.8 327.2L291.6 321.4M291.6 321.4L285.9 322.1M291.6 321.4L288.3 326.0M300.0 327.2L310.4 320.9M310.4 320.9L304.4 321.7M310.4 320.9L306.9 325.9M318.2 327.2L328.6 320.8M328.6 320.8L322.6 321.6M328.6 320.8L325.2 325.8M336.4 327.2L347.1 320.5M347.1 320.5L340.8 321.4M347.1 320.5L343.6 325.7M354.5 327.2L366.2 319.8M366.2 319.8L359.4 320.8M366.2 319.8L362.4 325.5M372.7 327.2L386.0 318.6M386.0 318.6L378.2 319.8M386.0 318.6L381.7 325.2M390.9 327.2L404.8 318.1M404.8 318.1L396.6 319.4M404.8 318.1L400.3 325.1M409.1 327.2L423.3 317.8M423.3 317.8L414.9 319.2M423.3 317.8L418.7 325.0M427.3 327.2L441.3 317.8M441.3 317.8L433.0 319.2M441.3 317.8L436.8 325.0M445.5 327.2L458.9 318.1M458.9 318.1L450.9 319.5M458.9 318.1L454.6 325.0M463.6 327.2L478.2 317.2M478.2 317.2L469.5 318.8M478.2 317.2L473.6 324.7M481.8 327.2L497.5 316.2M497.5 316.2L488.1 318.0M497.5 316.2L492.6 324.4M500.0 327.2L515.8 315.9M515.8 315.9L506.3 317.9M515.8 315.9L510.9 324.3M518.2 327.2L534.1 315.6M534.1 315.6L524.5 317.7M534.1 315.6L529.2 324.2M536.4 327.2L552.3 315.4M552.3 315.4L542.6 317.6M552.3 315.4L547.4 324.0M554.5 327.2L570.1 315.4M570.1 315.4L560.6 317.6M570.1 315.4L565.4 324.0M572.7 327.2L588.2 315.5M588.2 315.5L578.7 317.7M588.2 315.5L583.5 324.0M590.9 327.2L606.1 315.6M606.1 315.6L596.8 317.8M606.1 315.6L601.5 324.0M609.1 327.2L624.5 315.6M624.5 315.6L615.1 317.8M624.5 315.6L619.8 324.0M627.3 327.2L642.9 315.4M642.9 315.4L633.4 317.6M642.9 315.4L638.1 324.0M645.5 327.2L661.8 314.9M661.8 314.9L651.9 317.2M661.8 314.9L656.8 323.9M663.6 327.2L680.7 314.5M680.7 314.5L670.3 316.8M680.7 314.5L675.5 323.8M681.8 327.2L699.8 314.2M699.8 314.2L688.9 316.5M699.8 314.2L694.2 323.8M700.0 327.2L718.6 314.0M718.6 314.0L707.4 316.2M718.6 314.0L712.8 323.8M718.2 327.2L737.5 313.8M737.5 313.8L726.0 316.0M737.5 313.8L731.4 323.9M736.4 327.2L756.0 314.0M756.0 314.0L744.3 316.0M756.0 314.0L749.7 324.0M754.5 327.2L774.7 313.6M774.7 313.6L762.7 315.7M774.7 313.6L768.2 323.9M772.7 327.2L793.2 313.4M793.2 313.4L781.0 315.5M793.2 313.4L786.7 323.9M790.9 327.2L811.6 313.2M811.6 313.2L799.3 315.4M811.6 313.2L805.0 323.8M300.0 345.4L309.9 339.1M309.9 339.1L304.1 339.9M309.9 339.1L306.7 344.0M318.2 345.4L329.2 338.2M329.2 338.2L322.7 339.2M329.2 338.2L325.7 343.7M336.4 345.4L348.2 337.5M348.2 337.5L341.2 338.7M348.2 337.5L344.4 343.5M354.5 345.4L367.3 336.7M367.3 336.7L359.7 338.1M367.3 336.7L363.3 343.3M372.7 345.4L385.8 336.4M385.8 336.4L378.0 337.8M385.8 336.4L381.6 343.1M390.9 345.4L404.5 336.0M404.5 336.0L396.4 337.5M404.5 336.0L400.2 343.0M409.1 345.4L423.0 335.7M423.0 335.7L414.7 337.3M423.0 335.7L418.6 343.0M427.3 345.4L441.5 335.5M441.5 335.5L433.0 337.1M441.5 335.5L437.0 342.9M445.5 345.4L459.9 335.2M459.9 335.2L451.3 336.9M459.9 335.2L455.4 342.8M463.6 345.4L478.6 334.7M478.6 334.7L469.6 336.6M478.6 334.7L473.9 342.6M481.8 345.4L497.1 334.3M497.1 334.3L487.9 336.2M497.1 334.3L492.4 342.5M500.0 345.4L515.4 333.9M515.4 333.9L506.0 336.0M515.4 333.9L510.7 342.3M518.2 345.4L533.6 333.6M533.6 333.6L524.1 335.8M533.6 333.6L528.9 342.1M536.4 345.4L551.7 333.4M551.7 333.4L542.2 335.8M551.7 333.4L547.1 342.0M554.5 345.4L569.5 333.5M569.5 333.5L560.3 335.9M569.5 333.5L565.1 342.0M572.7 345.4L587.6 333.6M587.6 333.6L578.4 335.9M587.6 333.6L583.2 342.0M590.9 345.4L606.0 333.6M606.0 333.6L596.7 335.9M606.0 333.6L601.5 342.0M609.1 345.4L624.8 333.3M624.8 333.3L615.2 335.6M624.8 333.3L620.1 342.0M627.3 345.4L643.6 333.1M643.6 333.1L633.6 335.4M643.6 333.1L638.7 342.0M645.5 345.4L662.4 332.8M662.4 332.8L652.1 335.1M662.4 332.8L657.2 342.0M663.6 345.4L681.5 332.5M681.5 332.5L670.7 334.7M681.5 332.5L676.0 342.0M681.8 345.4L700.5 332.2M700.5 332.2L689.3 334.4M700.5 332.2L694.6 342.0M700.0 345.4L719.3 332.0M719.3 332.0L707.8 334.2M719.3 332.0L713.2 342.0M718.2 345.4L738.1 331.9M738.1 331.9L726.3 334.0M738.1 331.9L731.7 342.1M736.4 345.4L756.4 332.1M756.4 332.1L744.5 334.1M756.4 332.1L749.9 342.3M754.5 345.4L774.9 331.9M774.9 331.9L762.9 333.9M774.9 331.9L768.3 342.2M772.7 345.4L793.3 331.8M793.3 331.8L781.1 333.8M793.3 331.8L786.7 342.2M790.9 345.4L811.6 331.7M811.6 331.7L799.4 333.7M811.6 331.7L804.9 342.1M300.0 363.6L310.4 356.6M310.4 356.6L304.2 357.6M310.4 356.6L307.1 361.9M318.2 363.6L329.6 355.7M329.6 355.7L322.8 357.0M329.6 355.7L326.0 361.6M336.4 363.6L348.4 355.0M348.4 355.0L341.2 356.5M348.4 355.0L344.7 361.4M354.5 363.6L367.4 354.3M367.4 354.3L359.6 355.9M367.4 354.3L363.4 361.1M372.7 363.6L385.7 354.0M385.7 354.0L377.8 355.7M385.7 354.0L381.7 361.0M390.9 363.6L404.2 353.8M404.2 353.8L396.1 355.6M404.2 353.8L400.1 361.0M409.1 363.6L422.7 353.6M422.7 353.6L414.5 355.4M422.7 353.6L418.5 360.9M427.3 363.6L441.4 353.3M441.4 353.3L432.8 355.1M441.4 353.3L437.0 360.8M445.5 363.6L460.0 353.0M460.0 353.0L451.2 354.9M460.0 353.0L455.5 360.8M463.6 363.6L478.4 352.6M478.4 352.6L469.4 354.6M478.4 352.6L473.9 360.6M481.8 363.6L496.6 352.4M496.6 352.4L487.6 354.5M496.6 352.4L492.1 360.5M500.0 363.6L514.8 352.0M514.8 352.0L505.7 354.3M514.8 352.0L510.4 360.3M518.2 363.6L532.9 351.7M532.9 351.7L523.7 354.1M532.9 351.7L528.6 360.1M536.4 363.6L550.9 351.6M550.9 351.6L541.8 354.1M550.9 351.6L546.7 360.0M554.5 363.6L569.1 351.3M569.1 351.3L560.0 354.0M569.1 351.3L564.9 359.9M572.7 363.6L587.7 351.2M587.7 351.2L578.4 353.8M587.7 351.2L583.4 359.9M590.9 363.6L606.6 350.9M606.6 350.9L596.9 353.5M606.6 350.9L602.0 359.9M609.1 363.6L625.6 350.6M625.6 350.6L615.4 353.2M625.6 350.6L620.7 359.9M627.3 363.6L644.9 350.3M644.9 350.3L634.1 352.8M644.9 350.3L639.5 359.9M645.5 363.6L663.6 350.4M663.6 350.4L652.6 352.7M663.6 350.4L658.0 360.1M663.6 363.6L682.6 350.3M682.6 350.3L671.2 352.5M682.6 350.3L676.6 360.2M681.8 363.6L701.2 350.3M701.2 350.3L689.6 352.4M701.2 350.3L695.0 360.3M700.0 363.6L719.7 350.3M719.7 350.3L708.0 352.3M719.7 350.3L713.4 360.4M718.2 363.6L738.3 350.2M738.3 350.2L726.4 352.2M738.3 350.2L731.8 360.4M736.4 363.6L756.8 350.3M756.8 350.3L744.8 352.2M756.8 350.3L750.2 360.5M754.5 363.6L775.2 350.2M775.2 350.2L763.0 352.1M775.2 350.2L768.5 360.5M772.7 363.6L793.6 350.0M793.6 350.0L781.3 352.0M793.6 350.0L786.8 360.4M790.9 363.6L811.8 350.0M811.8 350.0L799.5 352.0M811.8 350.0L805.0 360.4M281.8 381.7L290.8 375.0M290.8 375.0L285.3 376.3M290.8 375.0L288.1 379.9M300.0 381.7L310.1 374.1M310.1 374.1L303.9 375.5M310.1 374.1L307.0 379.7M318.2 381.7L329.3 373.3M329.3 373.3L322.5 374.9M329.3 373.3L326.0 379.4M336.4 381.7L348.4 372.5M348.4 372.5L341.0 374.3M348.4 372.5L344.8 379.2M354.5 381.7L367.3 371.9M367.3 371.9L359.5 373.8M367.3 371.9L363.5 379.0M372.7 381.7L385.8 371.7M385.8 371.7L377.8 373.6M385.8 371.7L381.9 378.9M390.9 381.7L404.3 371.4M404.3 371.4L396.1 373.4M404.3 371.4L400.3 378.9M409.1 381.7L422.8 371.2M422.8 371.2L414.4 373.2M422.8 371.2L418.7 378.8M427.3 381.7L441.3 371.0M441.3 371.0L432.7 373.0M441.3 371.0L437.1 378.7M445.5 381.7L459.8 370.7M459.8 370.7L451.0 372.8M459.8 370.7L455.5 378.7M463.6 381.7L478.1 370.4M478.1 370.4L469.2 372.6M478.1 370.4L473.8 378.5M481.8 381.7L496.2 370.1M496.2 370.1L487.3 372.5M496.2 370.1L492.0 378.4M500.0 381.7L514.0 369.7M514.0 369.7L505.2 372.3M514.0 369.7L510.1 378.0M518.2 381.7L532.0 369.1M532.0 369.1L523.1 372.1M532.0 369.1L528.3 377.7M536.4 381.7L550.4 369.0M550.4 369.0L541.4 371.9M550.4 369.0L546.6 377.7M554.5 381.7L569.1 368.7M569.1 368.7L559.8 371.7M569.1 368.7L565.1 377.6M572.7 381.7L588.1 368.3M588.1 368.3L578.4 371.3M588.1 368.3L583.8 377.6M590.9 381.7L607.3 367.8M607.3 367.8L597.0 370.8M607.3 367.8L602.7 377.5M609.1 381.7L626.8 367.5M626.8 367.5L615.8 370.4M626.8 367.5L621.6 377.6M627.3 381.7L645.8 367.6M645.8 367.6L634.5 370.3M645.8 367.6L640.2 377.8M645.5 381.7L664.5 368.0M664.5 368.0L653.0 370.4M664.5 368.0L658.6 378.1M663.6 381.7L683.2 368.3M683.2 368.3L671.5 370.5M683.2 368.3L677.0 378.4M681.8 381.7L701.5 368.5M701.5 368.5L689.8 370.5M701.5 368.5L695.2 378.5M700.0 381.7L720.0 368.5M720.0 368.5L708.2 370.5M720.0 368.5L713.6 378.6M718.2 381.7L738.5 368.6M738.5 368.6L726.5 370.5M738.5 368.6L731.9 378.7M736.4 381.7L757.2 368.5M757.2 368.5L745.0 370.3M757.2 368.5L750.4 378.8M754.5 381.7L775.6 368.5M775.6 368.5L763.3 370.3M775.6 368.5L768.7 378.8M772.7 381.7L794.0 368.4M794.0 368.4L781.6 370.1M794.0 368.4L787.0 378.8M790.9 381.7L812.2 368.4M812.2 368.4L799.8 370.2M812.2 368.4L805.2 378.8M281.8 399.9L290.8 392.4M290.8 392.4L285.2 394.0M290.8 392.4L288.2 397.7M300.0 399.9L310.1 391.4M310.1 391.4L303.8 393.3M310.1 391.4L307.2 397.4M318.2 399.9L329.2 390.7M329.2 390.7L322.3 392.7M329.2 390.7L326.1 397.2M336.4 399.9L348.1 390.3M348.1 390.3L340.8 392.3M348.1 390.3L344.7 397.1M354.5 399.9L367.0 389.7M367.0 389.7L359.2 391.9M367.0 389.7L363.4 396.9M372.7 399.9L385.6 389.5M385.6 389.5L377.6 391.7M385.6 389.5L381.8 396.9M390.9 399.9L404.0 389.3M404.0 389.3L395.9 391.5M404.0 389.3L400.2 396.8M409.1 399.9L422.5 389.0M422.5 389.0L414.2 391.3M422.5 389.0L418.6 396.7M427.3 399.9L441.0 388.8M441.0 388.8L432.5 391.1M441.0 388.8L437.0 396.7M445.5 399.9L459.5 388.5M459.5 388.5L450.8 390.9M459.5 388.5L455.4 396.6M463.6 399.9L477.7 388.2M477.7 388.2L468.9 390.7M477.7 388.2L473.7 396.4M481.8 399.9L495.8 387.9M495.8 387.9L487.0 390.5M495.8 387.9L491.9 396.2M500.0 399.9L513.4 387.2M513.4 387.2L504.7 390.3M513.4 387.2L509.9 395.8M518.2 399.9L531.2 386.4M531.2 386.4L522.5 390.0M531.2 386.4L528.0 395.3M536.4 399.9L550.1 386.2M550.1 386.2L541.0 389.7M550.1 386.2L546.6 395.3M554.5 399.9L569.2 385.8M569.2 385.8L559.6 389.3M569.2 385.8L565.4 395.2M572.7 399.9L588.1 385.7M588.1 385.7L578.2 389.0M588.1 385.7L584.0 395.3M590.9 399.9L607.6 385.1M607.6 385.1L597.0 388.5M607.6 385.1L603.0 395.3M609.1 399.9L626.7 385.4M626.7 385.4L615.7 388.4M626.7 385.4L621.6 395.6M627.3 399.9L645.8 385.6M645.8 385.6L634.4 388.4M645.8 385.6L640.2 395.9M645.5 399.9L664.9 385.9M664.9 385.9L653.2 388.3M664.9 385.9L658.9 396.2M663.6 399.9L683.6 386.5M683.6 386.5L671.7 388.6M683.6 386.5L677.2 396.7M681.8 399.9L701.9 386.7M701.9 386.7L690.0 388.7M701.9 386.7L695.4 396.8M700.0 399.9L720.3 386.8M720.3 386.8L708.3 388.7M720.3 386.8L713.7 396.9M718.2 399.9L738.8 386.9M738.8 386.9L726.7 388.6M738.8 386.9L732.0 397.0M736.4 399.9L757.5 386.9M757.5 386.9L745.2 388.5M757.5 386.9L750.5 397.1M754.5 399.9L776.1 386.7M776.1 386.7L763.6 388.3M776.1 386.7L769.0 397.1M772.7 399.9L794.5 386.7M794.5 386.7L781.9 388.3M794.5 386.7L787.2 397.2M790.9 399.9L812.7 386.8M812.7 386.8L800.1 388.4M812.7 386.8L805.4 397.2M300.0 418.1L309.3 410.1M309.3 410.1L303.4 411.9M309.3 410.1L306.7 415.7M318.2 418.1L328.5 409.3M328.5 409.3L322.0 411.2M328.5 409.3L325.6 415.4M336.4 418.1L347.8 408.4M347.8 408.4L340.6 410.5M347.8 408.4L344.6 415.2M354.5 418.1L366.9 407.7M366.9 407.7L359.1 410.0M366.9 407.7L363.3 415.0M372.7 418.1L385.2 407.7M385.2 407.7L377.4 409.9M385.2 407.7L381.6 415.0M390.9 418.1L403.5 407.3M403.5 407.3L395.5 409.6M403.5 407.3L400.0 414.8M409.1 418.1L422.0 406.7M422.0 406.7L413.8 409.3M422.0 406.7L418.5 414.5M427.3 418.1L440.6 406.0M440.6 406.0L432.0 408.8M440.6 406.0L436.9 414.3M445.5 418.1L459.0 405.5M459.0 405.5L450.2 408.5M459.0 405.5L455.4 414.0M463.6 418.1L477.2 405.0M477.2 405.0L468.4 408.2M477.2 405.0L473.7 413.8M481.8 418.1L495.4 404.6M495.4 404.6L486.4 408.0M495.4 404.6L491.9 413.5M500.0 418.1L513.3 404.3M513.3 404.3L504.4 407.9M513.3 404.3L510.0 413.3M518.2 418.1L531.3 404.0M531.3 404.0L522.4 407.8M531.3 404.0L528.2 413.1M536.4 418.1L550.2 403.8M550.2 403.8L541.0 407.5M550.2 403.8L546.8 413.2M554.5 418.1L569.4 403.5M569.4 403.5L559.7 407.1M569.4 403.5L565.6 413.2M572.7 418.1L588.6 403.2M588.6 403.2L578.4 406.8M588.6 403.2L584.4 413.3M590.9 418.1L607.6 403.3M607.6 403.3L597.0 406.7M607.6 403.3L603.0 413.5M609.1 418.1L626.6 403.6M626.6 403.6L615.6 406.7M626.6 403.6L621.5 413.8M627.3 418.1L645.8 403.8M645.8 403.8L634.4 406.6M645.8 403.8L640.2 414.1M645.5 418.1L664.9 404.0M664.9 404.0L653.2 406.5M664.9 404.0L658.9 414.4M663.6 418.1L683.7 404.6M683.7 404.6L671.8 406.7M683.7 404.6L677.3 414.8M681.8 418.1L702.3 404.8M702.3 404.8L690.2 406.7M702.3 404.8L695.6 415.0M700.0 418.1L720.9 405.0M720.9 405.0L708.7 406.7M720.9 405.0L714.0 415.2M718.2 418.1L739.4 405.2M739.4 405.2L727.1 406.8M739.4 405.2L732.3 415.4M736.4 418.1L758.0 405.4M758.0 405.4L745.5 406.8M758.0 405.4L750.7 415.6M754.5 418.1L776.5 405.4M776.5 405.4L763.9 406.7M776.5 405.4L769.0 415.6M772.7 418.1L794.8 405.4M794.8 405.4L782.1 406.7M794.8 405.4L787.3 415.7M790.9 418.1L813.0 405.5M813.0 405.5L800.4 406.7M813.0 405.5L805.5 415.7M336.4 436.3L347.3 426.8M347.3 426.8L340.4 428.9M347.3 426.8L344.3 433.3M354.5 436.3L366.6 425.8M366.6 425.8L359.0 428.1M366.6 425.8L363.2 433.1M372.7 436.3L385.0 425.6M385.0 425.6L377.2 428.0M385.0 425.6L381.5 433.0M390.9 436.3L403.1 425.1M403.1 425.1L395.3 427.8M403.1 425.1L399.8 432.7M409.1 436.3L421.3 424.5M421.3 424.5L413.3 427.4M421.3 424.5L418.2 432.4M427.3 436.3L439.9 423.5M439.9 423.5L431.5 426.8M439.9 423.5L436.7 431.9M445.5 436.3L458.1 422.8M458.1 422.8L449.6 426.4M458.1 422.8L455.0 431.5M463.6 436.3L476.4 422.2M476.4 422.2L467.7 426.0M476.4 422.2L473.4 431.2M481.8 436.3L494.6 421.5M494.6 421.5L485.8 425.7M494.6 421.5L491.8 430.9M500.0 436.3L513.1 421.4M513.1 421.4L504.1 425.5M513.1 421.4L510.1 430.9M518.2 436.3L531.4 421.4M531.4 421.4L522.3 425.5M531.4 421.4L528.4 430.9M536.4 436.3L550.4 421.4M550.4 421.4L540.9 425.3M550.4 421.4L547.0 431.0M554.5 436.3L569.3 421.5M569.3 421.5L559.6 425.3M569.3 421.5L565.6 431.3M572.7 436.3L588.3 421.6M588.3 421.6L578.2 425.2M588.3 421.6L584.2 431.5M590.9 436.3L607.6 421.5M607.6 421.5L597.0 424.9M607.6 421.5L603.0 431.7M609.1 436.3L626.6 421.8M626.6 421.8L615.7 424.9M626.6 421.8L621.5 432.0M627.3 436.3L645.7 422.1M645.7 422.1L634.4 424.8M645.7 422.1L640.1 432.3M645.5 436.3L665.0 422.1M665.0 422.1L653.2 424.6M665.0 422.1L659.0 432.6M663.6 436.3L684.0 422.6M684.0 422.6L671.9 424.7M684.0 422.6L677.5 433.0M681.8 436.3L702.9 422.7M702.9 422.7L690.5 424.6M702.9 422.7L696.0 433.2M700.0 436.3L721.6 423.0M721.6 423.0L709.0 424.7M721.6 423.0L714.4 433.5M718.2 436.3L740.1 423.5M740.1 423.5L727.5 424.9M740.1 423.5L732.7 433.8M736.4 436.3L758.3 424.1M758.3 424.1L745.8 425.2M758.3 424.1L750.8 434.1M754.5 436.3L776.3 424.3M776.3 424.3L763.9 425.4M776.3 424.3L768.8 434.2M772.7 436.3L794.5 424.4M794.5 424.4L782.1 425.4M794.5 424.4L787.0 434.3M790.9 436.3L812.7 424.4M812.7 424.4L800.3 425.4M812.7 424.4L805.2 434.3M336.4 454.5L346.8 445.2M346.8 445.2L340.2 447.3M346.8 445.2L343.9 451.6M354.5 454.5L366.7 443.7M366.7 443.7L359.0 446.2M366.7 443.7L363.3 451.1M372.7 454.5L385.4 443.3M385.4 443.3L377.3 445.8M385.4 443.3L381.9 451.0M390.9 454.5L403.6 442.5M403.6 442.5L395.4 445.4M403.6 442.5L400.2 450.6M409.1 454.5L421.9 441.7M421.9 441.7L413.4 444.9M421.9 441.7L418.6 450.1M427.3 454.5L439.9 441.0M439.9 441.0L431.4 444.6M439.9 441.0L436.9 449.7M445.5 454.5L457.6 440.7M457.6 440.7L449.3 444.5M457.6 440.7L454.9 449.5M463.6 454.5L475.9 440.3M475.9 440.3L467.4 444.3M475.9 440.3L473.2 449.3M481.8 454.5L494.3 439.8M494.3 439.8L485.6 444.0M494.3 439.8L491.6 449.1M500.0 454.5L513.1 439.6M513.1 439.6L504.1 443.7M513.1 439.6L510.1 449.1M518.2 454.5L531.8 439.4M531.8 439.4L522.5 443.5M531.8 439.4L528.7 449.1M536.4 454.5L550.7 439.5M550.7 439.5L541.1 443.4M550.7 439.5L547.2 449.3M554.5 454.5L569.8 439.5M569.8 439.5L559.8 443.2M569.8 439.5L565.9 449.4M572.7 454.5L588.7 439.7M588.7 439.7L578.4 443.2M588.7 439.7L584.4 449.7M590.9 454.5L608.0 439.5M608.0 439.5L597.1 442.9M608.0 439.5L603.2 449.8M609.1 454.5L627.0 439.8M627.0 439.8L615.8 442.9M627.0 439.8L621.8 450.2M627.3 454.5L646.1 440.1M646.1 440.1L634.6 442.9M646.1 440.1L640.4 450.5M645.5 454.5L665.1 440.4M665.1 440.4L653.2 442.8M665.1 440.4L659.0 450.8M663.6 454.5L683.9 440.8M683.9 440.8L671.9 442.9M683.9 440.8L677.4 451.2M681.8 454.5L702.7 441.0M702.7 441.0L690.4 442.9M702.7 441.0L695.9 451.4M700.0 454.5L721.3 441.3M721.3 441.3L708.9 443.0M721.3 441.3L714.3 451.7M718.2 454.5L739.7 441.8M739.7 441.8L727.3 443.2M739.7 441.8L732.4 452.0M736.4 454.5L758.0 442.3M758.0 442.3L745.6 443.5M758.0 442.3L750.6 452.3M754.5 454.5L776.2 442.4M776.2 442.4L763.9 443.5M776.2 442.4L768.8 452.3M772.7 454.5L794.4 442.5M794.4 442.5L782.1 443.5M794.4 442.5L787.0 452.4M790.9 454.5L812.7 442.5M812.7 442.5L800.3 443.6M812.7 442.5L805.2 452.4M336.4 472.7L347.5 462.6M347.5 462.6L340.4 464.9M347.5 462.6L344.5 469.5M354.5 472.7L367.1 461.3M367.1 461.3L359.1 464.0M367.1 461.3L363.7 469.1M372.7 472.7L386.1 460.6M386.1 460.6L377.5 463.4M386.1 460.6L382.4 468.8M390.9 472.7L404.4 459.6M404.4 459.6L395.6 462.8M404.4 459.6L400.9 468.3M409.1 472.7L422.4 458.9M422.4 458.9L413.5 462.5M422.4 458.9L419.1 467.9M427.3 472.7L439.9 458.6M439.9 458.6L431.3 462.5M439.9 458.6L437.0 467.6M445.5 472.7L457.2 458.6M457.2 458.6L449.0 462.6M457.2 458.6L454.7 467.4M463.6 472.7L475.3 458.8M475.3 458.8L467.1 462.8M475.3 458.8L472.8 467.5M481.8 472.7L493.6 458.6M493.6 458.6L485.4 462.6M493.6 458.6L491.1 467.4M500.0 472.7L512.4 458.6M512.4 458.6L503.9 462.5M512.4 458.6L509.6 467.6M518.2 472.7L531.7 458.2M531.7 458.2L522.6 462.0M531.7 458.2L528.5 467.5M536.4 472.7L550.9 457.9M550.9 457.9L541.2 461.7M550.9 457.9L547.3 467.6M554.5 472.7L570.0 457.7M570.0 457.7L559.9 461.4M570.0 457.7L566.0 467.7M572.7 472.7L589.1 457.7M589.1 457.7L578.6 461.2M589.1 457.7L584.7 467.8M590.9 472.7L608.3 457.5M608.3 457.5L597.3 460.9M608.3 457.5L603.5 468.0M609.1 472.7L627.6 457.7M627.6 457.7L616.1 460.8M627.6 457.7L622.2 468.3M627.3 472.7L646.6 458.1M646.6 458.1L634.8 460.8M646.6 458.1L640.7 468.7M645.5 472.7L665.3 458.5M665.3 458.5L653.4 460.9M665.3 458.5L659.1 469.0M663.6 472.7L684.1 458.9M684.1 458.9L671.9 461.0M684.1 458.9L677.6 469.3M681.8 472.7L702.7 459.2M702.7 459.2L690.4 461.1M702.7 459.2L695.9 469.6M700.0 472.7L721.1 459.6M721.1 459.6L708.8 461.3M721.1 459.6L714.1 469.8M718.2 472.7L739.4 460.1M739.4 460.1L727.1 461.5M739.4 460.1L732.3 470.1M736.4 472.7L757.7 460.5M757.7 460.5L745.5 461.7M757.7 460.5L750.4 470.4M754.5 472.7L776.2 460.5M776.2 460.5L763.8 461.6M776.2 460.5L768.8 470.4M772.7 472.7L794.4 460.5M794.4 460.5L782.0 461.7M794.4 460.5L787.0 470.5M790.9 472.7L812.6 460.6M812.6 460.6L800.3 461.7M812.6 460.6L805.1 470.5M318.2 490.8L328.7 480.8M328.7 480.8L321.9 483.3M328.7 480.8L325.9 487.5M336.4 490.8L348.1 479.7M348.1 479.7L340.5 482.4M348.1 479.7L345.0 487.2M354.5 490.8L367.1 478.9M367.1 478.9L358.9 481.8M367.1 478.9L363.8 486.9M372.7 490.8L385.8 478.4M385.8 478.4L377.3 481.4M385.8 478.4L382.4 486.7M390.9 490.8L404.3 477.5M404.3 477.5L395.4 480.9M404.3 477.5L400.9 486.3M409.1 490.8L422.4 476.9M422.4 476.9L413.5 480.5M422.4 476.9L419.1 485.9M427.3 490.8L439.7 477.1M439.7 477.1L431.2 480.9M439.7 477.1L436.8 485.9M445.5 490.8L457.1 477.2M457.1 477.2L449.0 481.1M457.1 477.2L454.6 485.8M463.6 490.8L475.3 477.4M475.3 477.4L467.2 481.1M475.3 477.4L472.7 485.9M481.8 490.8L493.7 477.2M493.7 477.2L485.5 481.0M493.7 477.2L491.1 485.9M500.0 490.8L512.7 477.0M512.7 477.0L504.1 480.8M512.7 477.0L509.7 485.9M518.2 490.8L532.0 476.5M532.0 476.5L522.8 480.2M532.0 476.5L528.6 485.9M536.4 490.8L551.2 476.2M551.2 476.2L541.4 479.8M551.2 476.2L547.4 485.9M554.5 490.8L570.4 475.8M570.4 475.8L560.1 479.4M570.4 475.8L566.2 485.9M572.7 490.8L589.5 475.6M589.5 475.6L578.8 479.1M589.5 475.6L585.0 486.0M590.9 490.8L608.5 475.5M608.5 475.5L597.4 478.9M608.5 475.5L603.6 486.1M609.1 490.8L627.7 475.6M627.7 475.6L616.1 478.8M627.7 475.6L622.3 486.3M627.3 490.8L646.6 475.9M646.6 475.9L634.7 478.8M646.6 475.9L640.8 486.7M645.5 490.8L665.2 476.3M665.2 476.3L653.2 478.9M665.2 476.3L659.2 487.0M663.6 490.8L684.0 476.6M684.0 476.6L671.8 479.0M684.0 476.6L677.6 487.2M681.8 490.8L702.5 476.9M702.5 476.9L690.2 479.0M702.5 476.9L695.9 487.5M700.0 490.8L720.9 477.2M720.9 477.2L708.6 479.2M720.9 477.2L714.1 487.7M718.2 490.8L739.2 477.6M739.2 477.6L726.9 479.4M739.2 477.6L732.3 487.9M736.4 490.8L757.6 478.0M757.6 478.0L745.3 479.5M757.6 478.0L750.5 488.2M754.5 490.8L776.0 477.9M776.0 477.9L763.6 479.4M776.0 477.9L768.8 488.2M772.7 490.8L794.2 478.0M794.2 478.0L781.8 479.5M794.2 478.0L787.0 488.2M790.9 490.8L812.5 478.0M812.5 478.0L800.0 479.5M812.5 478.0L805.2 488.3M300.0 509.0L310.3 498.8M310.3 498.8L303.5 501.4M310.3 498.8L307.7 505.5M318.2 509.0L329.5 497.7M329.5 497.7L322.0 500.6M329.5 497.7L326.6 505.2M336.4 509.0L348.3 497.1M348.3 497.1L340.4 500.1M348.3 497.1L345.3 505.0M354.5 509.0L366.9 496.7M366.9 496.7L358.7 499.8M366.9 496.7L363.7 504.8M372.7 509.0L385.4 496.3M385.4 496.3L377.0 499.5M385.4 496.3L382.2 504.7M390.9 509.0L403.7 495.8M403.7 495.8L395.2 499.3M403.7 495.8L400.5 504.4M409.1 509.0L421.4 495.8M421.4 495.8L413.1 499.3M421.4 495.8L418.5 504.4M427.3 509.0L439.3 495.7M439.3 495.7L431.1 499.3M439.3 495.7L436.5 504.2M445.5 509.0L457.1 495.7M457.1 495.7L449.1 499.4M457.1 495.7L454.5 504.2M463.6 509.0L475.6 495.6M475.6 495.6L467.4 499.3M475.6 495.6L472.9 504.2M481.8 509.0L494.2 495.5M494.2 495.5L485.8 499.1M494.2 495.5L491.3 504.2M500.0 509.0L513.2 495.2M513.2 495.2L504.4 498.8M513.2 495.2L510.0 504.2M518.2 509.0L532.6 494.6M532.6 494.6L523.1 498.3M532.6 494.6L528.9 504.1M536.4 509.0L551.7 494.3M551.7 494.3L541.7 497.9M551.7 494.3L547.7 504.1M554.5 509.0L570.8 493.9M570.8 493.9L560.3 497.5M570.8 493.9L566.4 504.1M572.7 509.0L589.9 493.6M589.9 493.6L578.9 497.1M589.9 493.6L585.2 504.1M590.9 509.0L608.6 493.6M608.6 493.6L597.4 497.0M608.6 493.6L603.7 504.3M609.1 509.0L627.7 493.6M627.7 493.6L616.1 496.9M627.7 493.6L622.3 504.4M627.3 509.0L646.5 493.9M646.5 493.9L634.6 496.9M646.5 493.9L640.8 504.7M645.5 509.0L665.0 494.2M665.0 494.2L653.1 497.0M665.0 494.2L659.1 504.9M663.6 509.0L683.7 494.4M683.7 494.4L671.6 497.0M683.7 494.4L677.5 505.2M681.8 509.0L702.3 494.6M702.3 494.6L690.0 497.0M702.3 494.6L695.9 505.3M700.0 509.0L720.8 494.8M720.8 494.8L708.4 497.0M720.8 494.8L714.2 505.5M718.2 509.0L739.2 495.1M739.2 495.1L726.8 497.2M739.2 495.1L732.4 505.7M736.4 509.0L757.4 495.4M757.4 495.4L745.1 497.4M757.4 495.4L750.6 505.9M754.5 509.0L775.9 495.3M775.9 495.3L763.3 497.2M775.9 495.3L768.9 505.9M772.7 509.0L794.1 495.4M794.1 495.4L781.5 497.3M794.1 495.4L787.1 505.9M790.9 509.0L812.3 495.4M812.3 495.4L799.8 497.3M812.3 495.4L805.3 506.0M281.8 527.2L291.8 516.7M291.8 516.7L285.1 519.4M291.8 516.7L289.4 523.5M300.0 527.2L311.0 515.6M311.0 515.6L303.6 518.7M311.0 515.6L308.3 523.1M318.2 527.2L329.4 515.4M329.4 515.4L321.9 518.5M329.4 515.4L326.6 523.1M336.4 527.2L348.1 514.8M348.1 514.8L340.2 518.1M348.1 514.8L345.2 522.9M354.5 527.2L366.5 514.6M366.5 514.6L358.5 517.9M366.5 514.6L363.6 522.8M372.7 527.2L384.9 514.4M384.9 514.4L376.7 517.8M384.9 514.4L382.0 522.7M390.9 527.2L403.0 514.3M403.0 514.3L394.8 517.7M403.0 514.3L400.1 522.6M409.1 527.2L420.9 514.4M420.9 514.4L412.9 517.8M420.9 514.4L418.1 522.6M427.3 527.2L439.2 514.1M439.2 514.1L431.1 517.7M439.2 514.1L436.4 522.5M445.5 527.2L457.4 513.8M457.4 513.8L449.2 517.5M457.4 513.8L454.7 522.4M463.6 527.2L476.2 513.6M476.2 513.6L467.7 517.3M476.2 513.6L473.2 522.4M481.8 527.2L495.1 513.4M495.1 513.4L486.2 517.0M495.1 513.4L491.8 522.4M500.0 527.2L514.1 513.1M514.1 513.1L504.8 516.7M514.1 513.1L510.5 522.4M518.2 527.2L533.2 512.7M533.2 512.7L523.4 516.3M533.2 512.7L529.3 522.4M536.4 527.2L552.3 512.2M552.3 512.2L542.0 515.8M552.3 512.2L548.1 522.3M554.5 527.2L571.4 511.8M571.4 511.8L560.6 515.4M571.4 511.8L566.8 522.2M572.7 527.2L590.3 511.6M590.3 511.6L579.1 515.1M590.3 511.6L585.4 522.3M590.9 527.2L608.8 511.6M608.8 511.6L597.5 515.1M608.8 511.6L603.8 522.4M609.1 527.2L627.5 511.8M627.5 511.8L616.0 515.1M627.5 511.8L622.2 522.6M627.3 527.2L646.1 512.0M646.1 512.0L634.4 515.1M646.1 512.0L640.6 522.8M645.5 527.2L664.8 512.1M664.8 512.1L652.9 515.1M664.8 512.1L659.0 522.9M663.6 527.2L683.5 512.3M683.5 512.3L671.4 515.1M683.5 512.3L677.4 523.1M681.8 527.2L702.1 512.3M702.1 512.3L689.8 515.0M702.1 512.3L695.9 523.2M700.0 527.2L720.7 512.3M720.7 512.3L708.2 514.9M720.7 512.3L714.3 523.3M718.2 527.2L739.1 512.5M739.1 512.5L726.6 514.9M739.1 512.5L732.6 523.5M736.4 527.2L757.4 512.8M757.4 512.8L744.9 515.1M757.4 512.8L750.7 523.7M754.5 527.2L775.6 512.8M775.6 512.8L763.0 515.1M775.6 512.8L768.9 523.7M772.7 527.2L793.8 512.8M793.8 512.8L781.2 515.1M793.8 512.8L787.1 523.7M790.9 527.2L812.0 512.9M812.0 512.9L799.4 515.1M812.0 512.9L805.3 523.7M263.6 545.4L272.7 535.3M272.7 535.3L266.5 538.0M272.7 535.3L270.6 541.7M281.8 545.4L292.2 533.8M292.2 533.8L285.1 537.0M292.2 533.8L289.8 541.2M300.0 545.4L310.9 533.3M310.9 533.3L303.4 536.6M310.9 533.3L308.4 541.0M318.2 545.4L329.3 533.0M329.3 533.0L321.7 536.4M329.3 533.0L326.7 540.9M336.4 545.4L347.8 532.7M347.8 532.7L340.0 536.2M347.8 532.7L345.1 540.8M354.5 545.4L366.1 532.5M366.1 532.5L358.2 536.0M366.1 532.5L363.4 540.8M372.7 545.4L384.3 532.5M384.3 532.5L376.4 536.0M384.3 532.5L381.6 540.8M390.9 545.4L402.3 532.7M402.3 532.7L394.5 536.2M402.3 532.7L399.7 540.8M409.1 545.4L420.5 532.8M420.5 532.8L412.7 536.2M420.5 532.8L417.9 540.9M427.3 545.4L439.4 532.1M439.4 532.1L431.1 535.7M439.4 532.1L436.5 540.6M445.5 545.4L457.9 531.7M457.9 531.7L449.4 535.4M457.9 531.7L455.0 540.5M463.6 545.4L477.0 531.4M477.0 531.4L468.1 535.0M477.0 531.4L473.8 540.5M481.8 545.4L496.0 531.2M496.0 531.2L486.6 534.8M496.0 531.2L492.4 540.6M500.0 545.4L515.0 530.9M515.0 530.9L505.2 534.5M515.0 530.9L511.1 540.6M518.2 545.4L533.9 530.7M533.9 530.7L523.7 534.2M533.9 530.7L529.7 540.6M536.4 545.4L553.0 530.1M553.0 530.1L542.3 533.7M553.0 530.1L548.5 540.5M554.5 545.4L571.7 529.9M571.7 529.9L560.7 533.5M571.7 529.9L567.0 540.5M572.7 545.4L590.3 529.8M590.3 529.8L579.1 533.3M590.3 529.8L585.5 540.5M590.9 545.4L608.6 530.0M608.6 530.0L597.4 533.4M608.6 530.0L603.7 540.6M609.1 545.4L627.2 530.0M627.2 530.0L615.8 533.4M627.2 530.0L622.1 540.7M627.3 545.4L645.8 530.1M645.8 530.1L634.2 533.3M645.8 530.1L640.5 540.9M645.5 545.4L664.5 530.1M664.5 530.1L652.7 533.2M664.5 530.1L658.9 541.0M663.6 545.4L683.2 530.1M683.2 530.1L671.2 533.1M683.2 530.1L677.4 541.1M681.8 545.4L701.7 530.1M701.7 530.1L689.5 533.0M701.7 530.1L695.7 541.1M700.0 545.4L720.3 530.0M720.3 530.0L707.9 532.9M720.3 530.0L714.2 541.2M718.2 545.4L738.9 530.1M738.9 530.1L726.3 532.9M738.9 530.1L732.5 541.3M736.4 545.4L757.2 530.3M757.2 530.3L744.6 532.9M757.2 530.3L750.8 541.4M754.5 545.4L775.3 530.3M775.3 530.3L762.7 533.0M775.3 530.3L768.9 541.4M772.7 545.4L793.4 530.3M793.4 530.3L780.9 533.0M793.4 530.3L787.0 541.4M790.9 545.4L811.6 530.3M811.6 530.3L799.1 533.0M811.6 530.3L805.2 541.4M245.5 563.6L254.7 552.9M254.7 552.9L248.3 555.9M254.7 552.9L252.7 559.7M263.6 563.6L273.4 552.4M273.4 552.4L266.7 555.5M273.4 552.4L271.2 559.5M281.8 563.6L292.3 551.5M292.3 551.5L285.1 554.9M292.3 551.5L290.0 559.2M300.0 563.6L311.0 551.1M311.0 551.1L303.4 554.5M311.0 551.1L308.5 559.0M318.2 563.6L329.6 550.6M329.6 550.6L321.7 554.2M329.6 550.6L327.0 558.8M336.4 563.6L347.8 550.6M347.8 550.6L339.9 554.2M347.8 550.6L345.2 558.8M354.5 563.6L365.8 550.8M365.8 550.8L358.1 554.3M365.8 550.8L363.3 558.9M372.7 563.6L383.7 551.1M383.7 551.1L376.2 554.6M383.7 551.1L381.2 559.0M390.9 563.6L402.0 551.1M402.0 551.1L394.4 554.6M402.0 551.1L399.4 559.1M409.1 563.6L420.4 550.9M420.4 550.9L412.7 554.4M420.4 550.9L417.8 559.0M427.3 563.6L439.6 549.8M439.6 549.8L431.2 553.6M439.6 549.8L436.8 558.6M445.5 563.6L458.5 549.0M458.5 549.0L449.6 553.0M458.5 549.0L455.5 558.3M463.6 563.6L477.6 548.8M477.6 548.8L468.2 552.7M477.6 548.8L474.2 558.3M481.8 563.6L496.5 548.6M496.5 548.6L486.8 552.4M496.5 548.6L492.9 558.4M500.0 563.6L515.3 548.5M515.3 548.5L505.3 552.3M515.3 548.5L511.4 558.5M518.2 563.6L534.5 548.1M534.5 548.1L523.9 551.9M534.5 548.1L530.2 558.5M536.4 563.6L553.0 548.1M553.0 548.1L542.2 551.8M553.0 548.1L548.5 558.5M554.5 563.6L571.4 548.0M571.4 548.0L560.6 551.7M571.4 548.0L566.9 558.6M572.7 563.6L589.8 548.1M589.8 548.1L578.9 551.7M589.8 548.1L585.2 558.6M590.9 563.6L608.1 548.2M608.1 548.2L597.1 551.7M608.1 548.2L603.4 558.7M609.1 563.6L626.7 548.2M626.7 548.2L615.5 551.6M626.7 548.2L621.8 558.8M627.3 563.6L645.1 548.3M645.1 548.3L633.9 551.6M645.1 548.3L640.1 558.9M645.5 563.6L664.0 548.1M664.0 548.1L652.4 551.4M664.0 548.1L658.7 558.9M663.6 563.6L682.6 548.0M682.6 548.0L670.8 551.3M682.6 548.0L677.1 559.0M681.8 563.6L701.1 548.0M701.1 548.0L689.2 551.2M701.1 548.0L695.5 559.0M700.0 563.6L719.7 547.9M719.7 547.9L707.5 551.0M719.7 547.9L713.9 559.1M718.2 563.6L738.3 547.8M738.3 547.8L725.9 550.9M738.3 547.8L732.3 559.1M736.4 563.6L756.7 547.8M756.7 547.8L744.2 550.9M756.7 547.8L750.6 559.2M754.5 563.6L774.9 547.9M774.9 547.9L762.4 550.9M774.9 547.9L768.8 559.2M772.7 563.6L793.1 547.9M793.1 547.9L780.6 550.9M793.1 547.9L787.0 559.2M790.9 563.6L811.3 547.9M811.3 547.9L798.8 550.9M811.3 547.9L805.2 559.2M209.1 581.7L218.9 570.1M218.9 570.1L212.1 573.5M218.9 570.1L216.8 577.4M227.3 581.7L237.3 570.0M237.3 570.0L230.3 573.3M237.3 570.0L235.1 577.4M245.5 581.7L255.7 569.7M255.7 569.7L248.6 573.1M255.7 569.7L253.5 577.3M263.6 581.7L274.2 569.4M274.2 569.4L266.8 572.9M274.2 569.4L271.9 577.2M281.8 581.7L292.6 569.1M292.6 569.1L285.1 572.7M292.6 569.1L290.3 577.1M300.0 581.7L311.1 568.8M311.1 568.8L303.4 572.5M311.1 568.8L308.6 577.0M318.2 581.7L329.7 568.3M329.7 568.3L321.7 572.1M329.7 568.3L327.2 576.8M336.4 581.7L347.7 568.5M347.7 568.5L339.9 572.3M347.7 568.5L345.2 576.9M354.5 581.7L365.7 568.9M365.7 568.9L358.0 572.5M365.7 568.9L363.2 577.0M372.7 581.7L383.6 569.2M383.6 569.2L376.1 572.7M383.6 569.2L381.2 577.1M390.9 581.7L402.0 569.0M402.0 569.0L394.4 572.6M402.0 569.0L399.5 577.1M409.1 581.7L420.6 568.6M420.6 568.6L412.7 572.3M420.6 568.6L418.0 577.0M427.3 581.7L439.9 567.4M439.9 567.4L431.2 571.4M439.9 567.4L437.1 576.5M445.5 581.7L458.7 566.7M458.7 566.7L449.6 570.9M458.7 566.7L455.7 576.3M463.6 581.7L477.8 566.4M477.8 566.4L468.2 570.5M477.8 566.4L474.4 576.3M481.8 581.7L496.5 566.6M496.5 566.6L486.7 570.5M496.5 566.6L492.9 576.5M500.0 581.7L515.4 566.3M515.4 566.3L505.2 570.2M515.4 566.3L511.5 576.5M518.2 581.7L534.3 566.2M534.3 566.2L523.8 570.0M534.3 566.2L530.1 576.6M536.4 581.7L552.8 566.1M552.8 566.1L542.1 569.9M552.8 566.1L548.5 576.6M554.5 581.7L571.2 566.1M571.2 566.1L560.4 569.9M571.2 566.1L566.8 576.6M572.7 581.7L589.5 566.2M589.5 566.2L578.7 569.9M589.5 566.2L585.0 576.7M590.9 581.7L607.9 566.1M607.9 566.1L597.0 569.8M607.9 566.1L603.3 576.7M609.1 581.7L626.5 566.1M626.5 566.1L615.3 569.7M626.5 566.1L621.7 576.8M627.3 581.7L644.9 566.2M644.9 566.2L633.7 569.7M644.9 566.2L640.0 576.9M645.5 581.7L663.7 565.9M663.7 565.9L652.1 569.4M663.7 565.9L658.6 576.8M663.6 581.7L682.2 565.9M682.2 565.9L670.5 569.4M682.2 565.9L676.9 576.9M681.8 581.7L700.7 565.8M700.7 565.8L688.8 569.3M700.7 565.8L695.3 576.9M700.0 581.7L719.0 565.8M719.0 565.8L707.1 569.2M719.0 565.8L713.6 577.0M718.2 581.7L737.7 565.6M737.7 565.6L725.5 569.0M737.7 565.6L732.1 576.9M736.4 581.7L756.3 565.4M756.3 565.4L743.9 568.8M756.3 565.4L750.5 576.9M754.5 581.7L774.7 565.3M774.7 565.3L762.1 568.7M774.7 565.3L768.8 576.9M772.7 581.7L792.9 565.3M792.9 565.3L780.4 568.7M792.9 565.3L787.0 576.9M790.9 581.7L811.1 565.4M811.1 565.4L798.6 568.7M811.1 565.4L805.2 577.0M136.4 599.9L146.2 587.7M146.2 587.7L139.3 591.3M146.2 587.7L144.2 595.3M154.5 599.9L164.5 587.6M164.5 587.6L157.5 591.2M164.5 587.6L162.5 595.3M172.7 599.9L182.7 587.6M182.7 587.6L175.7 591.2M182.7 587.6L180.7 595.3M190.9 599.9L200.9 587.6M200.9 587.6L193.8 591.2M200.9 587.6L198.8 595.3M209.1 599.9L219.1 587.7M219.1 587.7L212.0 591.2M219.1 587.7L217.0 595.3M227.3 599.9L237.3 587.7M237.3 587.7L230.2 591.2M237.3 587.7L235.2 595.3M245.5 599.9L255.7 587.5M255.7 587.5L248.5 591.1M255.7 587.5L253.5 595.3M263.6 599.9L274.1 587.2M274.1 587.2L266.8 590.9M274.1 587.2L271.9 595.2M281.8 599.9L292.6 586.9M292.6 586.9L285.0 590.7M292.6 586.9L290.3 595.1M300.0 599.9L311.1 586.6M311.1 586.6L303.3 590.5M311.1 586.6L308.7 595.0M318.2 599.9L329.5 586.4M329.5 586.4L321.6 590.3M329.5 586.4L327.1 594.9M336.4 599.9L347.6 586.6M347.6 586.6L339.8 590.4M347.6 586.6L345.2 595.0M354.5 599.9L365.7 586.7M365.7 586.7L357.9 590.5M365.7 586.7L363.3 595.0M372.7 599.9L383.8 587.0M383.8 587.0L376.1 590.6M383.8 587.0L381.4 595.1M390.9 599.9L402.3 586.7M402.3 586.7L394.4 590.4M402.3 586.7L399.8 595.1M409.1 599.9L420.8 586.4M420.8 586.4L412.7 590.2M420.8 586.4L418.2 594.9M427.3 599.9L440.0 585.2M440.0 585.2L431.2 589.3M440.0 585.2L437.2 594.5M445.5 599.9L458.8 584.6M458.8 584.6L449.6 588.9M458.8 584.6L455.8 594.3M463.6 599.9L477.6 584.5M477.6 584.5L468.1 588.7M477.6 584.5L474.4 594.4M481.8 599.9L496.2 584.8M496.2 584.8L486.6 588.8M496.2 584.8L492.7 594.6M500.0 599.9L514.9 584.7M514.9 584.7L505.0 588.6M514.9 584.7L511.2 594.7M518.2 599.9L533.9 584.5M533.9 584.5L523.6 588.3M533.9 584.5L529.9 594.7M536.4 599.9L552.5 584.3M552.5 584.3L541.9 588.2M552.5 584.3L548.3 594.7M554.5 599.9L570.9 584.2M570.9 584.2L560.2 588.1M570.9 584.2L566.6 594.7M572.7 599.9L589.3 584.2M589.3 584.2L578.5 588.0M589.3 584.2L584.9 594.7M590.9 599.9L607.7 584.1M607.7 584.1L596.8 587.9M607.7 584.1L603.3 594.8M609.1 599.9L626.2 584.0M626.2 584.0L615.2 587.8M626.2 584.0L621.6 594.8M627.3 599.9L644.8 583.9M644.8 583.9L633.5 587.6M644.8 583.9L640.1 594.8M645.5 599.9L663.4 583.7M663.4 583.7L651.9 587.5M663.4 583.7L658.5 594.8M663.6 599.9L681.9 583.7M681.9 583.7L670.2 587.4M681.9 583.7L676.8 594.8M681.8 599.9L700.3 583.6M700.3 583.6L688.5 587.3M700.3 583.6L695.2 594.8M700.0 599.9L718.8 583.4M718.8 583.4L706.9 587.1M718.8 583.4L713.6 594.8M718.2 599.9L737.4 583.2M737.4 583.2L725.2 586.9M737.4 583.2L732.0 594.7M736.4 599.9L755.9 583.0M755.9 583.0L743.5 586.7M755.9 583.0L750.4 594.7M754.5 599.9L774.2 582.9M774.2 582.9L761.8 586.7M774.2 582.9L768.7 594.7M772.7 599.9L792.5 583.0M792.5 583.0L780.0 586.7M792.5 583.0L786.9 594.7M790.9 599.9L810.7 583.0M810.7 583.0L798.2 586.7M810.7 583.0L805.1 594.8M27.3 618.1L36.3 606.6M36.3 606.6L29.8 610.0M36.3 606.6L34.5 613.7M45.5 618.1L55.0 605.8M55.0 605.8L48.2 609.5M55.0 605.8L53.2 613.4M63.6 618.1L73.7 605.2M73.7 605.2L66.5 609.1M73.7 605.2L71.7 613.2M81.8 618.1L92.3 604.7M92.3 604.7L84.8 608.7M92.3 604.7L90.2 613.0M100.0 618.1L110.6 604.5M110.6 604.5L103.0 608.5M110.6 604.5L108.6 612.9M118.2 618.1L128.6 604.8M128.6 604.8L121.1 608.8M128.6 604.8L126.5 613.0M136.4 618.1L146.4 605.3M146.4 605.3L139.2 609.1M146.4 605.3L144.4 613.2M154.5 618.1L164.3 605.6M164.3 605.6L157.3 609.3M164.3 605.6L162.4 613.3M172.7 618.1L182.5 605.6M182.5 605.6L175.5 609.4M182.5 605.6L180.6 613.3M190.9 618.1L200.7 605.7M200.7 605.7L193.7 609.4M200.7 605.7L198.8 613.3M209.1 618.1L218.9 605.7M218.9 605.7L211.9 609.4M218.9 605.7L217.0 613.4M227.3 618.1L237.1 605.7M237.1 605.7L230.1 609.4M237.1 605.7L235.2 613.4M245.5 618.1L255.5 605.5M255.5 605.5L248.4 609.2M255.5 605.5L253.5 613.3M263.6 618.1L273.9 605.3M273.9 605.3L266.6 609.1M273.9 605.3L271.8 613.3M281.8 618.1L292.3 605.2M292.3 605.2L284.9 609.0M292.3 605.2L290.1 613.2M300.0 618.1L310.7 604.9M310.7 604.9L303.1 608.7M310.7 604.9L308.5 613.1M318.2 618.1L329.1 604.7M329.1 604.7L321.4 608.6M329.1 604.7L326.8 613.1M336.4 618.1L347.4 604.8M347.4 604.8L339.6 608.6M347.4 604.8L345.1 613.1M354.5 618.1L365.6 604.8M365.6 604.8L357.8 608.6M365.6 604.8L363.3 613.1M372.7 618.1L384.1 604.6M384.1 604.6L376.1 608.4M384.1 604.6L381.7 613.1M390.9 618.1L402.6 604.3M402.6 604.3L394.4 608.2M402.6 604.3L400.1 613.0M409.1 618.1L421.1 604.0M421.1 604.0L412.7 608.0M421.1 604.0L418.5 612.9M427.3 618.1L440.1 603.1M440.1 603.1L431.2 607.3M440.1 603.1L437.3 612.6M445.5 618.1L458.8 602.5M458.8 602.5L449.5 606.9M458.8 602.5L455.9 612.4M463.6 618.1L477.5 602.6M477.5 602.6L468.0 606.9M477.5 602.6L474.3 612.5M481.8 618.1L496.1 602.8M496.1 602.8L486.5 606.9M496.1 602.8L492.7 612.7M500.0 618.1L514.6 603.0M514.6 603.0L504.9 606.9M514.6 603.0L511.0 612.9M518.2 618.1L533.6 602.7M533.6 602.7L523.4 606.6M533.6 602.7L529.7 612.9M536.4 618.1L552.1 602.5M552.1 602.5L541.7 606.4M552.1 602.5L548.1 612.8M554.5 618.1L570.6 602.4M570.6 602.4L560.0 606.3M570.6 602.4L566.4 612.8M572.7 618.1L589.1 602.2M589.1 602.2L578.4 606.1M589.1 602.2L584.9 612.8M590.9 618.1L607.5 602.1M607.5 602.1L596.7 606.0M607.5 602.1L603.2 612.8M609.1 618.1L626.1 601.9M626.1 601.9L615.0 605.8M626.1 601.9L621.6 612.7M627.3 618.1L644.5 601.8M644.5 601.8L633.3 605.7M644.5 601.8L640.0 612.7M645.5 618.1L663.0 601.6M663.0 601.6L651.6 605.5M663.0 601.6L658.4 612.7M663.6 618.1L681.6 601.4M681.6 601.4L670.0 605.4M681.6 601.4L676.8 612.7M681.8 618.1L700.2 601.0M700.2 601.0L688.3 605.1M700.2 601.0L695.3 612.6M700.0 618.1L718.7 600.8M718.7 600.8L706.6 604.9M718.7 600.8L713.7 612.5M718.2 618.1L737.1 600.7M737.1 600.7L724.9 604.8M737.1 600.7L732.0 612.5M736.4 618.1L755.4 600.6M755.4 600.6L743.1 604.7M755.4 600.6L750.3 612.5M754.5 618.1L773.7 600.7M773.7 600.7L761.4 604.7M773.7 600.7L768.5 612.5M772.7 618.1L791.9 600.7M791.9 600.7L779.6 604.8M791.9 600.7L786.7 612.6M790.9 618.1L810.1 600.8M810.1 600.8L797.8 604.8M810.1 600.8L804.9 612.6M9.1 636.3L18.0 624.8M18.0 624.8L11.6 628.3M18.0 624.8L16.3 631.9M27.3 636.3L37.3 623.4M37.3 623.4L30.1 627.2M37.3 623.4L35.4 631.3M45.5 636.3L55.7 623.2M55.7 623.2L48.3 627.1M55.7 623.2L53.7 631.2M63.6 636.3L74.0 622.9M74.0 622.9L66.5 626.9M74.0 622.9L72.0 631.1M81.8 636.3L92.2 622.8M92.2 622.8L84.7 626.9M92.2 622.8L90.2 631.1M100.0 636.3L110.1 623.2M110.1 623.2L102.8 627.1M110.1 623.2L108.1 631.2M118.2 636.3L128.0 623.5M128.0 623.5L120.9 627.4M128.0 623.5L126.1 631.4M136.4 636.3L146.0 623.7M146.0 623.7L139.1 627.5M146.0 623.7L144.2 631.4M154.5 636.3L163.9 624.0M163.9 624.0L157.2 627.7M163.9 624.0L162.1 631.5M172.7 636.3L182.0 624.3M182.0 624.3L175.3 627.9M182.0 624.3L180.2 631.6M190.9 636.3L200.4 624.1M200.4 624.1L193.6 627.7M200.4 624.1L198.5 631.6M209.1 636.3L218.8 623.8M218.8 623.8L211.8 627.5M218.8 623.8L216.9 631.5M227.3 636.3L237.0 623.8M237.0 623.8L230.0 627.5M237.0 623.8L235.1 631.5M245.5 636.3L255.3 623.7M255.3 623.7L248.3 627.5M255.3 623.7L253.4 631.5M263.6 636.3L273.7 623.5M273.7 623.5L266.5 627.3M273.7 623.5L271.7 631.4M281.8 636.3L292.1 623.4M292.1 623.4L284.8 627.2M292.1 623.4L290.0 631.3M300.0 636.3L310.4 623.3M310.4 623.3L303.0 627.1M310.4 623.3L308.3 631.3M318.2 636.3L328.7 623.2M328.7 623.2L321.2 627.1M328.7 623.2L326.5 631.3M336.4 636.3L347.1 623.1M347.1 623.1L339.5 626.9M347.1 623.1L344.9 631.3M354.5 636.3L365.3 623.1M365.3 623.1L357.7 626.9M365.3 623.1L363.1 631.3M372.7 636.3L384.1 622.5M384.1 622.5L376.1 626.5M384.1 622.5L381.7 631.1M390.9 636.3L402.7 622.1M402.7 622.1L394.4 626.2M402.7 622.1L400.2 631.0M409.1 636.3L421.3 621.8M421.3 621.8L412.7 625.9M421.3 621.8L418.7 630.9M427.3 636.3L440.1 621.1M440.1 621.1L431.2 625.4M440.1 621.1L437.3 630.7M445.5 636.3L458.8 620.7M458.8 620.7L449.5 625.1M458.8 620.7L455.9 630.5M463.6 636.3L477.4 620.7M477.4 620.7L468.0 625.0M477.4 620.7L474.3 630.6M481.8 636.3L496.0 620.9M496.0 620.9L486.4 625.0M496.0 620.9L492.6 630.8M500.0 636.3L514.5 621.0M514.5 621.0L504.8 625.1M514.5 621.0L511.0 631.0M518.2 636.3L533.3 620.9M533.3 620.9L523.3 624.9M533.3 620.9L529.5 631.0M536.4 636.3L551.9 620.6M551.9 620.6L541.6 624.6M551.9 620.6L548.0 630.9M554.5 636.3L570.4 620.4M570.4 620.4L559.9 624.4M570.4 620.4L566.4 630.9M572.7 636.3L588.9 620.2M588.9 620.2L578.3 624.3M588.9 620.2L584.8 630.9M590.9 636.3L607.6 619.9M607.6 619.9L596.6 624.0M607.6 619.9L603.3 630.8M609.1 636.3L625.9 619.9M625.9 619.9L614.9 624.0M625.9 619.9L621.6 630.8M627.3 636.3L644.5 619.6M644.5 619.6L633.2 623.7M644.5 619.6L640.0 630.7M645.5 636.3L663.0 619.3M663.0 619.3L651.6 623.5M663.0 619.3L658.5 630.7M663.6 636.3L681.8 618.9M681.8 618.9L670.0 623.2M681.8 618.9L677.0 630.6M681.8 636.3L700.4 618.5M700.4 618.5L688.3 622.8M700.4 618.5L695.5 630.4M700.0 636.3L718.8 618.4M718.8 618.4L706.6 622.7M718.8 618.4L713.9 630.4M718.2 636.3L736.9 618.5M736.9 618.5L724.7 622.8M736.9 618.5L732.0 630.4M736.4 636.3L754.9 618.8M754.9 618.8L742.8 623.0M754.9 618.8L750.0 630.5M754.5 636.3L773.1 618.8M773.1 618.8L761.1 623.0M773.1 618.8L768.2 630.6M772.7 636.3L791.2 619.0M791.2 619.0L779.2 623.1M791.2 619.0L786.3 630.6M790.9 636.3L809.4 619.0M809.4 619.0L797.5 623.1M809.4 619.0L804.5 630.7M9.1 654.5L18.8 642.0M18.8 642.0L11.9 645.7M18.8 642.0L16.9 649.7M27.3 654.5L37.1 641.9M37.1 641.9L30.0 645.6M37.1 641.9L35.2 649.6M45.5 654.5L55.3 641.7M55.3 641.7L48.2 645.6M55.3 641.7L53.4 649.6M63.6 654.5L73.5 641.7M73.5 641.7L66.4 645.5M73.5 641.7L71.6 649.5M81.8 654.5L91.7 641.6M91.7 641.6L84.6 645.5M91.7 641.6L89.8 649.5M100.0 654.5L109.8 641.7M109.8 641.7L102.7 645.5M109.8 641.7L107.9 649.5M118.2 654.5L127.8 641.9M127.8 641.9L120.8 645.7M127.8 641.9L126.0 649.6M136.4 654.5L145.9 641.8M145.9 641.8L139.0 645.7M145.9 641.8L144.1 649.6M154.5 654.5L163.6 642.5M163.6 642.5L157.0 646.1M163.6 642.5L161.9 649.8M172.7 654.5L181.6 642.8M181.6 642.8L175.2 646.3M181.6 642.8L179.9 649.9M190.9 654.5L200.0 642.5M200.0 642.5L193.4 646.1M200.0 642.5L198.3 649.8M209.1 654.5L218.6 642.0M218.6 642.0L211.7 645.8M218.6 642.0L216.8 649.6M227.3 654.5L236.9 641.9M236.9 641.9L230.0 645.7M236.9 641.9L235.1 649.6M245.5 654.5L255.1 641.9M255.1 641.9L248.2 645.7M255.1 641.9L253.3 649.6M263.6 654.5L273.5 641.7M273.5 641.7L266.4 645.6M273.5 641.7L271.6 649.6M281.8 654.5L291.9 641.6M291.9 641.6L284.6 645.4M291.9 641.6L289.9 649.5M300.0 654.5L310.2 641.5M310.2 641.5L302.9 645.3M310.2 641.5L308.2 649.5M318.2 654.5L328.5 641.4M328.5 641.4L321.1 645.3M328.5 641.4L326.4 649.5M336.4 654.5L347.0 641.1M347.0 641.1L339.4 645.1M347.0 641.1L344.8 649.4M354.5 654.5L365.5 640.9M365.5 640.9L357.7 644.9M365.5 640.9L363.2 649.3M372.7 654.5L384.0 640.5M384.0 640.5L376.0 644.6M384.0 640.5L381.7 649.2M390.9 654.5L402.6 640.2M402.6 640.2L394.4 644.3M402.6 640.2L400.2 649.1M409.1 654.5L421.3 639.8M421.3 639.8L412.7 644.0M421.3 639.8L418.7 649.0M427.3 654.5L440.0 639.4M440.0 639.4L431.1 643.7M440.0 639.4L437.2 648.8M445.5 654.5L458.6 638.9M458.6 638.9L449.5 643.3M458.6 638.9L455.8 648.7M463.6 654.5L477.4 638.8M477.4 638.8L467.9 643.2M477.4 638.8L474.3 648.8M481.8 654.5L496.0 638.9M496.0 638.9L486.3 643.1M496.0 638.9L492.7 648.9M500.0 654.5L514.6 638.9M514.6 638.9L504.8 643.1M514.6 638.9L511.1 649.0M518.2 654.5L533.3 638.8M533.3 638.8L523.2 642.9M533.3 638.8L529.6 649.0M536.4 654.5L551.7 638.7M551.7 638.7L541.5 642.8M551.7 638.7L547.9 649.0M554.5 654.5L570.3 638.5M570.3 638.5L559.8 642.6M570.3 638.5L566.3 649.0M572.7 654.5L588.8 638.3M588.8 638.3L578.2 642.4M588.8 638.3L584.8 648.9M590.9 654.5L607.4 638.0M607.4 638.0L596.5 642.1M607.4 638.0L603.2 648.9M609.1 654.5L625.9 637.7M625.9 637.7L614.8 641.9M625.9 637.7L621.6 648.8M627.3 654.5L644.3 637.6M644.3 637.6L633.1 641.8M644.3 637.6L640.0 648.8M645.5 654.5L663.0 637.1M663.0 637.1L651.5 641.5M663.0 637.1L658.5 648.6M663.6 654.5L681.8 636.6M681.8 636.6L669.9 641.1M681.8 636.6L677.1 648.5M681.8 654.5L700.3 636.4M700.3 636.4L688.2 640.9M700.3 636.4L695.5 648.4M700.0 654.5L718.5 636.4M718.5 636.4L706.4 640.9M718.5 636.4L713.7 648.4M718.2 654.5L736.4 636.7M736.4 636.7L724.5 641.1M736.4 636.7L731.7 648.5M736.4 654.5L754.3 637.0M754.3 637.0L742.6 641.3M754.3 637.0L749.7 648.6M754.5 654.5L772.3 637.2M772.3 637.2L760.7 641.5M772.3 637.2L767.7 648.7M772.7 654.5L790.5 637.3M790.5 637.3L778.9 641.5M790.5 637.3L785.9 648.7M790.9 654.5L808.7 637.3M808.7 637.3L797.1 641.5M808.7 637.3L804.0 648.8M9.1 672.7L18.8 660.2M18.8 660.2L11.9 663.9M18.8 660.2L16.9 667.9M27.3 672.7L37.0 660.1M37.0 660.1L30.0 663.9M37.0 660.1L35.1 667.8M45.5 672.7L55.1 660.1M55.1 660.1L48.2 663.9M55.1 660.1L53.3 667.8M63.6 672.7L73.3 660.1M73.3 660.1L66.3 663.9M73.3 660.1L71.4 667.8M81.8 672.7L91.4 660.0M91.4 660.0L84.5 663.9M91.4 660.0L89.6 667.8M100.0 672.7L109.5 660.0M109.5 660.0L102.6 663.8M109.5 660.0L107.8 667.7M118.2 672.7L127.7 660.0M127.7 660.0L120.8 663.8M127.7 660.0L125.9 667.7M136.4 672.7L145.7 660.1M145.7 660.1L138.9 663.9M145.7 660.1L144.0 667.7M154.5 672.7L163.3 660.8M163.3 660.8L156.9 664.4M163.3 660.8L161.7 668.0M172.7 672.7L181.3 661.1M181.3 661.1L175.0 664.6M181.3 661.1L179.7 668.1M190.9 672.7L199.8 660.8M199.8 660.8L193.3 664.4M199.8 660.8L198.1 668.0M209.1 672.7L218.4 660.3M218.4 660.3L211.6 664.1M218.4 660.3L216.6 667.8M227.3 672.7L236.8 660.0M236.8 660.0L229.9 663.8M236.8 660.0L235.0 667.7M245.5 672.7L255.0 660.0M255.0 660.0L248.1 663.8M255.0 660.0L253.2 667.7M263.6 672.7L273.3 659.9M273.3 659.9L266.3 663.8M273.3 659.9L271.5 667.7M281.8 672.7L291.7 659.8M291.7 659.8L284.5 663.6M291.7 659.8L289.8 667.6M300.0 672.7L310.0 659.7M310.0 659.7L302.8 663.6M310.0 659.7L308.1 667.6M318.2 672.7L328.3 659.6M328.3 659.6L321.0 663.5M328.3 659.6L326.3 667.6M336.4 672.7L346.8 659.2M346.8 659.2L339.3 663.2M346.8 659.2L344.8 667.5M354.5 672.7L365.3 659.0M365.3 659.0L357.6 663.0M365.3 659.0L363.2 667.4M372.7 672.7L384.0 658.5M384.0 658.5L376.0 662.7M384.0 658.5L381.7 667.3M390.9 672.7L402.6 658.2M402.6 658.2L394.3 662.4M402.6 658.2L400.2 667.2M409.1 672.7L421.3 657.8M421.3 657.8L412.7 662.1M421.3 657.8L418.7 667.1M427.3 672.7L440.0 657.4M440.0 657.4L431.1 661.8M440.0 657.4L437.3 666.9M445.5 672.7L458.6 657.1M458.6 657.1L449.4 661.5M458.6 657.1L455.8 666.9M463.6 672.7L477.2 657.1M477.2 657.1L467.8 661.4M477.2 657.1L474.2 666.9M481.8 672.7L495.8 657.1M495.8 657.1L486.2 661.4M495.8 657.1L492.6 667.0M500.0 672.7L514.4 657.1M514.4 657.1L504.6 661.3M514.4 657.1L511.0 667.1M518.2 672.7L533.2 656.9M533.2 656.9L523.1 661.0M533.2 656.9L529.5 667.1M536.4 672.7L551.6 656.7M551.6 656.7L541.4 660.9M551.6 656.7L547.9 667.1M554.5 672.7L570.1 656.5M570.1 656.5L559.7 660.7M570.1 656.5L566.3 667.1M572.7 672.7L588.7 656.3M588.7 656.3L578.1 660.5M588.7 656.3L584.7 667.0M590.9 672.7L607.3 656.0M607.3 656.0L596.4 660.3M607.3 656.0L603.2 666.9M609.1 672.7L625.8 655.7M625.8 655.7L614.7 660.1M625.8 655.7L621.6 666.8M627.3 672.7L644.2 655.5M644.2 655.5L633.0 659.9M644.2 655.5L640.0 666.8M645.5 672.7L662.9 655.0M662.9 655.0L651.3 659.5M662.9 655.0L658.5 666.6M663.6 672.7L681.6 654.6M681.6 654.6L669.7 659.2M681.6 654.6L677.1 666.5M681.8 672.7L699.8 654.6M699.8 654.6L687.9 659.2M699.8 654.6L695.2 666.5M700.0 672.7L717.9 654.7M717.9 654.7L706.0 659.3M717.9 654.7L713.4 666.5M718.2 672.7L735.7 655.1M735.7 655.1L724.1 659.5M735.7 655.1L731.3 666.7M736.4 672.7L753.6 655.3M753.6 655.3L742.2 659.7M753.6 655.3L749.2 666.8M754.5 672.7L771.6 655.5M771.6 655.5L760.3 659.9M771.6 655.5L767.3 666.8M772.7 672.7L789.8 655.6M789.8 655.6L778.5 659.9M789.8 655.6L785.5 666.8M790.9 672.7L808.0 655.6M808.0 655.6L796.7 659.9M808.0 655.6L803.7 666.8M9.1 690.8L18.6 678.7M18.6 678.7L11.8 682.3M18.6 678.7L16.7 686.2M27.3 690.8L36.8 678.5M36.8 678.5L29.9 682.2M36.8 678.5L35.0 686.1M45.5 690.8L54.7 678.8M54.7 678.8L48.0 682.4M54.7 678.8L52.9 686.2M63.6 690.8L72.7 679.0M72.7 679.0L66.1 682.6M72.7 679.0L71.0 686.2M81.8 690.8L90.6 679.1M90.6 679.1L84.2 682.7M90.6 679.1L89.0 686.3M100.0 690.8L108.8 679.1M108.8 679.1L102.4 682.7M108.8 679.1L107.1 686.2M118.2 690.8L127.0 679.0M127.0 679.0L120.5 682.6M127.0 679.0L125.4 686.2M136.4 690.8L145.3 678.7M145.3 678.7L138.7 682.4M145.3 678.7L143.7 686.1M154.5 690.8L163.2 678.9M163.2 678.9L156.8 682.6M163.2 678.9L161.7 686.1M172.7 690.8L181.4 679.0M181.4 679.0L175.0 682.7M181.4 679.0L179.8 686.2M190.9 690.8L199.8 678.7M199.8 678.7L193.3 682.4M199.8 678.7L198.2 686.1M209.1 690.8L218.3 678.4M218.3 678.4L211.5 682.2M218.3 678.4L216.6 685.9M227.3 690.8L236.6 678.2M236.6 678.2L229.8 682.1M236.6 678.2L234.9 685.9M245.5 690.8L254.9 678.1M254.9 678.1L248.0 682.0M254.9 678.1L253.2 685.9M263.6 690.8L273.1 678.1M273.1 678.1L266.2 682.0M273.1 678.1L271.4 685.9M281.8 690.8L291.4 678.1M291.4 678.1L284.4 681.9M291.4 678.1L289.6 685.8M300.0 690.8L309.7 678.0M309.7 678.0L302.6 681.9M309.7 678.0L307.9 685.8M318.2 690.8L328.1 677.8M328.1 677.8L320.9 681.7M328.1 677.8L326.2 685.8M336.4 690.8L346.9 677.1M346.9 677.1L339.3 681.2M346.9 677.1L344.9 685.5M354.5 690.8L365.4 676.9M365.4 676.9L357.6 681.0M365.4 676.9L363.3 685.4M372.7 690.8L383.9 676.5M383.9 676.5L375.9 680.8M383.9 676.5L381.7 685.3M390.9 690.8L402.7 676.1M402.7 676.1L394.3 680.4M402.7 676.1L400.3 685.2M409.1 690.8L421.3 675.8M421.3 675.8L412.6 680.2M421.3 675.8L418.8 685.1M427.3 690.8L439.9 675.5M439.9 675.5L431.0 679.9M439.9 675.5L437.3 685.1M445.5 690.8L458.5 675.3M458.5 675.3L449.4 679.8M458.5 675.3L455.7 685.1M463.6 690.8L477.1 675.2M477.1 675.2L467.8 679.6M477.1 675.2L474.1 685.1M481.8 690.8L495.7 675.2M495.7 675.2L486.2 679.5M495.7 675.2L492.5 685.1M500.0 690.8L514.2 675.2M514.2 675.2L504.5 679.4M514.2 675.2L510.9 685.2M518.2 690.8L532.9 675.0M532.9 675.0L523.0 679.2M532.9 675.0L529.4 685.2M536.4 690.8L551.5 674.8M551.5 674.8L541.3 679.0M551.5 674.8L547.8 685.2M554.5 690.8L570.0 674.6M570.0 674.6L559.6 678.9M570.0 674.6L566.2 685.1M572.7 690.8L588.5 674.3M588.5 674.3L578.0 678.7M588.5 674.3L584.7 685.1M590.9 690.8L607.0 674.1M607.0 674.1L596.3 678.5M607.0 674.1L603.1 685.0M609.1 690.8L625.6 673.7M625.6 673.7L614.6 678.2M625.6 673.7L621.5 684.9M627.3 690.8L644.1 673.5M644.1 673.5L632.9 678.0M644.1 673.5L639.9 684.8M645.5 690.8L662.6 673.1M662.6 673.1L651.2 677.7M662.6 673.1L658.4 684.7M663.6 690.8L680.9 673.0M680.9 673.0L669.4 677.6M680.9 673.0L676.6 684.6M681.8 690.8L699.1 673.0M699.1 673.0L687.6 677.6M699.1 673.0L694.8 684.6M700.0 690.8L717.1 673.1M717.1 673.1L705.7 677.7M717.1 673.1L712.9 684.7M718.2 690.8L735.1 673.3M735.1 673.3L723.8 677.8M735.1 673.3L731.0 684.7M736.4 690.8L753.1 673.5M753.1 673.5L741.9 678.0M753.1 673.5L749.0 684.8M754.5 690.8L771.2 673.6M771.2 673.6L760.1 678.1M771.2 673.6L767.1 684.8M772.7 690.8L789.4 673.6M789.4 673.6L778.3 678.1M789.4 673.6L785.3 684.8M790.9 690.8L807.6 673.6M807.6 673.6L796.5 678.1M807.6 673.6L803.5 684.8M9.1 709.0L18.7 696.7M18.7 696.7L11.8 700.4M18.7 696.7L16.8 704.3M27.3 709.0L36.5 697.1M36.5 697.1L29.9 700.7M36.5 697.1L34.7 704.4M45.5 709.0L54.5 697.3M54.5 697.3L48.0 700.8M54.5 697.3L52.7 704.5M63.6 709.0L72.4 697.5M72.4 697.5L66.1 701.0M72.4 697.5L70.8 704.5M81.8 709.0L90.2 697.8M90.2 697.8L84.1 701.2M90.2 697.8L88.7 704.7M100.0 709.0L108.4 697.8M108.4 697.8L102.3 701.2M108.4 697.8L106.8 704.6M118.2 709.0L126.5 697.8M126.5 697.8L120.4 701.2M126.5 697.8L125.0 704.6M136.4 709.0L144.9 697.4M144.9 697.4L138.6 701.0M144.9 697.4L143.3 704.4M154.5 709.0L163.2 697.1M163.2 697.1L156.8 700.8M163.2 697.1L161.7 704.3M172.7 709.0L181.6 696.9M181.6 696.9L175.1 700.6M181.6 696.9L180.0 704.2M190.9 709.0L199.9 696.8M199.9 696.8L193.3 700.5M199.9 696.8L198.3 704.2M209.1 709.0L218.3 696.5M218.3 696.5L211.5 700.3M218.3 696.5L216.7 704.1M227.3 709.0L236.6 696.4M236.6 696.4L229.8 700.3M236.6 696.4L234.9 704.0M245.5 709.0L254.9 696.3M254.9 696.3L248.0 700.2M254.9 696.3L253.2 704.0M263.6 709.0L273.1 696.3M273.1 696.3L266.2 700.2M273.1 696.3L271.3 704.0M281.8 709.0L291.3 696.3M291.3 696.3L284.4 700.2M291.3 696.3L289.5 704.0M300.0 709.0L309.6 696.1M309.6 696.1L302.6 700.0M309.6 696.1L307.9 704.0M318.2 709.0L328.0 695.9M328.0 695.9L320.9 699.9M328.0 695.9L326.2 703.9M336.4 709.0L346.9 695.1M346.9 695.1L339.3 699.3M346.9 695.1L344.9 703.6M354.5 709.0L365.5 694.8M365.5 694.8L357.6 699.1M365.5 694.8L363.4 703.5M372.7 709.0L384.0 694.4M384.0 694.4L375.9 698.8M384.0 694.4L381.8 703.4M390.9 709.0L402.7 694.1M402.7 694.1L394.3 698.5M402.7 694.1L400.3 703.3M409.1 709.0L421.2 693.9M421.2 693.9L412.6 698.4M421.2 693.9L418.7 703.3M427.3 709.0L439.8 693.6M439.8 693.6L431.0 698.1M439.8 693.6L437.2 703.2M445.5 709.0L458.4 693.4M458.4 693.4L449.3 697.9M458.4 693.4L455.7 703.2M463.6 709.0L477.0 693.4M477.0 693.4L467.7 697.8M477.0 693.4L474.1 703.3M481.8 709.0L495.6 693.4M495.6 693.4L486.1 697.7M495.6 693.4L492.5 703.3M500.0 709.0L513.9 693.6M513.9 693.6L504.4 697.8M513.9 693.6L510.7 703.5M518.2 709.0L532.7 693.3M532.7 693.3L522.9 697.5M532.7 693.3L529.3 703.5M536.4 709.0L551.3 693.0M551.3 693.0L541.2 697.3M551.3 693.0L547.8 703.4M554.5 709.0L569.9 692.8M569.9 692.8L559.6 697.1M569.9 692.8L566.2 703.3M572.7 709.0L588.4 692.6M588.4 692.6L577.9 696.9M588.4 692.6L584.6 703.3M590.9 709.0L606.9 692.3M606.9 692.3L596.2 696.7M606.9 692.3L603.0 703.2M609.1 709.0L625.3 692.0M625.3 692.0L614.5 696.5M625.3 692.0L621.4 703.1M627.3 709.0L643.7 691.8M643.7 691.8L632.7 696.3M643.7 691.8L639.7 703.0M645.5 709.0L662.0 691.6M662.0 691.6L650.9 696.2M662.0 691.6L658.0 702.9M663.6 709.0L680.3 691.5M680.3 691.5L669.1 696.1M680.3 691.5L676.2 702.9M681.8 709.0L698.4 691.5M698.4 691.5L687.3 696.1M698.4 691.5L694.4 702.9M700.0 709.0L716.6 691.5M716.6 691.5L705.5 696.1M716.6 691.5L712.6 702.9M718.2 709.0L734.7 691.6M734.7 691.6L723.6 696.2M734.7 691.6L730.7 702.9M736.4 709.0L752.9 691.6M752.9 691.6L741.8 696.2M752.9 691.6L748.9 702.9M754.5 709.0L770.9 691.8M770.9 691.8L759.9 696.3M770.9 691.8L766.9 703.0M772.7 709.0L789.1 691.8M789.1 691.8L778.1 696.3M789.1 691.8L785.1 703.0M790.9 709.0L807.3 691.8M807.3 691.8L796.3 696.3M807.3 691.8L803.3 703.0M9.1 727.2L18.1 715.7M18.1 715.7L11.6 719.1M18.1 715.7L16.3 722.8M27.3 727.2L36.1 715.8M36.1 715.8L29.7 719.2M36.1 715.8L34.4 722.8M45.5 727.2L54.1 715.9M54.1 715.9L47.9 719.3M54.1 715.9L52.5 722.8M63.6 727.2L72.1 716.1M72.1 716.1L66.0 719.4M72.1 716.1L70.5 722.9M81.8 727.2L90.0 716.3M90.0 716.3L84.1 719.6M90.0 716.3L88.5 723.0M100.0 727.2L108.1 716.3M108.1 716.3L102.2 719.6M108.1 716.3L106.6 722.9M118.2 727.2L126.3 716.2M126.3 716.2L120.4 719.5M126.3 716.2L124.9 722.9M136.4 727.2L144.8 715.7M144.8 715.7L138.6 719.2M144.8 715.7L143.3 722.7M154.5 727.2L163.2 715.2M163.2 715.2L156.8 718.9M163.2 715.2L161.7 722.5M172.7 727.2L181.7 714.9M181.7 714.9L175.1 718.7M181.7 714.9L180.1 722.4M190.9 727.2L200.0 714.7M200.0 714.7L193.3 718.6M200.0 714.7L198.4 722.3M209.1 727.2L218.4 714.5M218.4 714.5L211.6 718.4M218.4 714.5L216.7 722.2M227.3 727.2L236.6 714.5M236.6 714.5L229.7 718.4M236.6 714.5L234.9 722.2M245.5 727.2L254.8 714.4M254.8 714.4L248.0 718.4M254.8 714.4L253.1 722.2M263.6 727.2L273.0 714.4M273.0 714.4L266.1 718.4M273.0 714.4L271.3 722.2M281.8 727.2L291.2 714.5M291.2 714.5L284.3 718.4M291.2 714.5L289.5 722.2M300.0 727.2L309.6 714.3M309.6 714.3L302.6 718.2M309.6 714.3L307.8 722.1M318.2 727.2L328.3 713.7M328.3 713.7L320.9 717.8M328.3 713.7L326.4 721.9M336.4 727.2L347.0 713.1M347.0 713.1L339.3 717.4M347.0 713.1L345.0 721.7M354.5 727.2L365.5 712.8M365.5 712.8L357.6 717.2M365.5 712.8L363.4 721.6M372.7 727.2L384.1 712.4M384.1 712.4L375.9 716.9M384.1 712.4L381.9 721.5M390.9 727.2L402.7 712.1M402.7 712.1L394.2 716.6M402.7 712.1L400.4 721.4M409.1 727.2L421.2 712.0M421.2 712.0L412.6 716.5M421.2 712.0L418.8 721.4M427.3 727.2L439.8 711.8M439.8 711.8L430.9 716.3M439.8 711.8L437.2 721.4M445.5 727.2L458.3 711.6M458.3 711.6L449.3 716.1M458.3 711.6L455.6 721.3M463.6 727.2L477.0 711.5M477.0 711.5L467.7 715.9M477.0 711.5L474.1 721.4M481.8 727.2L495.5 711.6M495.5 711.6L486.1 715.9M495.5 711.6L492.4 721.5M500.0 727.2L514.1 711.6M514.1 711.6L504.5 715.8M514.1 711.6L510.8 721.6M518.2 727.2L532.7 711.5M532.7 711.5L522.9 715.7M532.7 711.5L529.3 721.6M536.4 727.2L551.2 711.3M551.2 711.3L541.2 715.5M551.2 711.3L547.7 721.6M554.5 727.2L569.7 711.0M569.7 711.0L559.5 715.3M569.7 711.0L566.1 721.5M572.7 727.2L588.3 710.7M588.3 710.7L577.8 715.1M588.3 710.7L584.6 721.4M590.9 727.2L606.7 710.5M606.7 710.5L596.1 714.9M606.7 710.5L602.9 721.4M609.1 727.2L625.0 710.3M625.0 710.3L614.3 714.8M625.0 710.3L621.2 721.3M627.3 727.2L643.4 710.1M643.4 710.1L632.5 714.6M643.4 710.1L639.5 721.2M645.5 727.2L661.7 709.9M661.7 709.9L650.8 714.5M661.7 709.9L657.8 721.1M663.6 727.2L679.9 709.7M679.9 709.7L668.9 714.4M679.9 709.7L676.0 721.0M681.8 727.2L698.2 709.6M698.2 709.6L687.1 714.3M698.2 709.6L694.3 721.0M700.0 727.2L716.5 709.5M716.5 709.5L705.4 714.3M716.5 709.5L712.5 721.0M718.2 727.2L734.7 709.5M734.7 709.5L723.5 714.3M734.7 709.5L730.7 721.0M736.4 727.2L752.7 709.6M752.7 709.6L741.7 714.3M752.7 709.6L748.8 721.0M754.5 727.2L770.7 709.8M770.7 709.8L759.8 714.5M770.7 709.8L766.9 721.1M772.7 727.2L788.8 710.0M788.8 710.0L777.9 714.6M788.8 710.0L784.9 721.1M790.9 727.2L806.8 710.1M806.8 710.1L796.1 714.7M806.8 710.1L803.0 721.2M9.1 745.4L17.9 734.0M17.9 734.0L11.6 737.4M17.9 734.0L16.2 741.0M27.3 745.4L36.0 734.1M36.0 734.1L29.7 737.5M36.0 734.1L34.3 741.0M45.5 745.4L54.0 734.3M54.0 734.3L47.8 737.6M54.0 734.3L52.3 741.1M63.6 745.4L71.9 734.5M71.9 734.5L65.9 737.8M71.9 734.5L70.4 741.1M81.8 745.4L89.8 734.7M89.8 734.7L84.0 738.0M89.8 734.7L88.3 741.2M100.0 745.4L108.0 734.7M108.0 734.7L102.2 738.0M108.0 734.7L106.5 741.2M118.2 745.4L126.3 734.5M126.3 734.5L120.4 737.8M126.3 734.5L124.8 741.1M136.4 745.4L144.8 733.9M144.8 733.9L138.6 737.4M144.8 733.9L143.3 740.9M154.5 745.4L163.2 733.4M163.2 733.4L156.8 737.1M163.2 733.4L161.7 740.7M172.7 745.4L181.7 733.1M181.7 733.1L175.1 736.9M181.7 733.1L180.1 740.5M190.9 745.4L200.0 732.9M200.0 732.9L193.3 736.8M200.0 732.9L198.4 740.4M209.1 745.4L218.3 732.7M218.3 732.7L211.5 736.6M218.3 732.7L216.7 740.4M227.3 745.4L236.5 732.8M236.5 732.8L229.7 736.7M236.5 732.8L234.8 740.4M245.5 745.4L254.7 732.7M254.7 732.7L247.9 736.6M254.7 732.7L253.1 740.4M263.6 745.4L273.0 732.6M273.0 732.6L266.1 736.5M273.0 732.6L271.3 740.3M281.8 745.4L291.2 732.6M291.2 732.6L284.3 736.5M291.2 732.6L289.5 740.3M300.0 745.4L309.6 732.3M309.6 732.3L302.6 736.3M309.6 732.3L307.9 740.2M318.2 745.4L328.3 731.7M328.3 731.7L320.9 735.9M328.3 731.7L326.5 740.0M336.4 745.4L347.1 731.0M347.1 731.0L339.3 735.4M347.1 731.0L345.1 739.8M354.5 745.4L365.6 730.7M365.6 730.7L357.6 735.2M365.6 730.7L363.5 739.7M372.7 745.4L384.1 730.5M384.1 730.5L375.9 735.0M384.1 730.5L381.9 739.6M390.9 745.4L402.6 730.2M402.6 730.2L394.2 734.8M402.6 730.2L400.4 739.5M409.1 745.4L421.1 730.2M421.1 730.2L412.5 734.7M421.1 730.2L418.7 739.6M427.3 745.4L439.6 730.0M439.6 730.0L430.9 734.5M439.6 730.0L437.1 739.5M445.5 745.4L458.2 729.8M458.2 729.8L449.2 734.3M458.2 729.8L455.5 739.5M463.6 745.4L476.9 729.7M476.9 729.7L467.6 734.2M476.9 729.7L474.0 739.6M481.8 745.4L495.5 729.7M495.5 729.7L486.1 734.1M495.5 729.7L492.4 739.7M500.0 745.4L514.1 729.7M514.1 729.7L504.4 734.0M514.1 729.7L510.8 739.7M518.2 745.4L532.6 729.7M532.6 729.7L522.8 734.0M532.6 729.7L529.2 739.8M536.4 745.4L551.1 729.5M551.1 729.5L541.1 733.8M551.1 729.5L547.6 739.8M554.5 745.4L569.6 729.3M569.6 729.3L559.5 733.6M569.6 729.3L566.0 739.7M572.7 745.4L588.1 729.0M588.1 729.0L577.7 733.4M588.1 729.0L584.4 739.6M590.9 745.4L606.5 728.8M606.5 728.8L596.0 733.2M606.5 728.8L602.7 739.6M609.1 745.4L624.7 728.7M624.7 728.7L614.2 733.1M624.7 728.7L621.0 739.5M627.3 745.4L642.9 728.5M642.9 728.5L632.3 733.1M642.9 728.5L639.2 739.4M645.5 745.4L661.1 728.4M661.1 728.4L650.5 733.0M661.1 728.4L657.4 739.3M663.6 745.4L679.4 728.2M679.4 728.2L668.7 732.8M679.4 728.2L675.7 739.2M681.8 745.4L697.7 728.1M697.7 728.1L686.9 732.7M697.7 728.1L694.0 739.2M700.0 745.4L716.1 727.9M716.1 727.9L705.2 732.6M716.1 727.9L712.3 739.1M718.2 745.4L734.2 727.9M734.2 727.9L723.3 732.6M734.2 727.9L730.5 739.1M736.4 745.4L752.4 727.9M752.4 727.9L741.5 732.6M752.4 727.9L748.6 739.1M754.5 745.4L770.4 728.1M770.4 728.1L759.6 732.7M770.4 728.1L766.7 739.2M772.7 745.4L788.4 728.3M788.4 728.3L777.8 732.9M788.4 728.3L784.7 739.3M790.9 745.4L806.5 728.4M806.5 728.4L795.9 733.0M806.5 728.4L802.9 739.3M9.1 763.6L17.9 752.2M17.9 752.2L11.6 755.6M17.9 752.2L16.2 759.2M27.3 763.6L36.0 752.3M36.0 752.3L29.7 755.7M36.0 752.3L34.3 759.2M45.5 763.6L54.0 752.5M54.0 752.5L47.8 755.8M54.0 752.5L52.3 759.3M63.6 763.6L71.9 752.6M71.9 752.6L65.9 755.9M71.9 752.6L70.4 759.3M81.8 763.6L89.8 752.9M89.8 752.9L84.0 756.1M89.8 752.9L88.3 759.4M100.0 763.6L108.0 752.9M108.0 752.9L102.2 756.1M108.0 752.9L106.5 759.4M118.2 763.6L126.3 752.6M126.3 752.6L120.4 756.0M126.3 752.6L124.8 759.3M136.4 763.6L144.8 752.1M144.8 752.1L138.6 755.6M144.8 752.1L143.3 759.0M154.5 763.6L163.2 751.6M163.2 751.6L156.8 755.3M163.2 751.6L161.7 758.8M172.7 763.6L181.6 751.3M181.6 751.3L175.1 755.1M181.6 751.3L180.1 758.7M190.9 763.6L200.0 751.1M200.0 751.1L193.3 754.9M200.0 751.1L198.4 758.6M209.1 763.6L218.3 750.9M218.3 750.9L211.5 754.8M218.3 750.9L216.7 758.5M227.3 763.6L236.4 751.0M236.4 751.0L229.7 754.9M236.4 751.0L234.8 758.6M245.5 763.6L254.7 750.9M254.7 750.9L247.9 754.8M254.7 750.9L253.1 758.5M263.6 763.6L272.9 750.7M272.9 750.7L266.1 754.7M272.9 750.7L271.3 758.5M281.8 763.6L291.1 750.7M291.1 750.7L284.3 754.7M291.1 750.7L289.5 758.5M300.0 763.6L309.7 750.2M309.7 750.2L302.6 754.3M309.7 750.2L308.0 758.3M318.2 763.6L328.4 749.6M328.4 749.6L320.9 753.9M328.4 749.6L326.6 758.1M336.4 763.6L347.1 749.0M347.1 749.0L339.3 753.5M347.1 749.0L345.2 757.9M354.5 763.6L365.5 748.9M365.5 748.9L357.5 753.3M365.5 748.9L363.5 757.8M372.7 763.6L384.0 748.6M384.0 748.6L375.8 753.1M384.0 748.6L381.9 757.7M390.9 763.6L402.6 748.4M402.6 748.4L394.2 752.9M402.6 748.4L400.3 757.7M409.1 763.6L421.0 748.3M421.0 748.3L412.5 752.9M421.0 748.3L418.7 757.7M427.3 763.6L439.6 748.1M439.6 748.1L430.8 752.7M439.6 748.1L437.1 757.7M445.5 763.6L458.1 747.9M458.1 747.9L449.2 752.5M458.1 747.9L455.5 757.6M463.6 763.6L476.7 747.9M476.7 747.9L467.6 752.4M476.7 747.9L473.9 757.7M481.8 763.6L495.4 748.0M495.4 748.0L486.0 752.3M495.4 748.0L492.4 757.9M500.0 763.6L513.9 748.0M513.9 748.0L504.4 752.3M513.9 748.0L510.7 757.9M518.2 763.6L532.5 747.9M532.5 747.9L522.8 752.1M532.5 747.9L529.2 758.0M536.4 763.6L551.1 747.7M551.1 747.7L541.1 751.9M551.1 747.7L547.6 757.9M554.5 763.6L569.5 747.5M569.5 747.5L559.4 751.8M569.5 747.5L565.9 757.9M572.7 763.6L587.9 747.2M587.9 747.2L577.7 751.6M587.9 747.2L584.3 757.8M590.9 763.6L606.2 747.2M606.2 747.2L595.9 751.5M606.2 747.2L602.6 757.8M609.1 763.6L624.3 747.1M624.3 747.1L614.0 751.5M624.3 747.1L620.7 757.7M627.3 763.6L642.4 747.0M642.4 747.0L632.1 751.5M642.4 747.0L638.9 757.7M645.5 763.6L660.7 746.8M660.7 746.8L650.3 751.3M660.7 746.8L657.2 757.5M663.6 763.6L678.9 746.6M678.9 746.6L668.5 751.2M678.9 746.6L675.4 757.5M681.8 763.6L697.3 746.4M697.3 746.4L686.7 751.1M697.3 746.4L693.7 757.4M700.0 763.6L715.5 746.3M715.5 746.3L704.9 751.0M715.5 746.3L712.0 757.3M718.2 763.6L733.8 746.2M733.8 746.2L723.1 751.0M733.8 746.2L730.2 757.3M736.4 763.6L752.0 746.2M752.0 746.2L741.3 751.0M752.0 746.2L748.4 757.3M754.5 763.6L770.1 746.3M770.1 746.3L759.5 751.0M770.1 746.3L766.5 757.3M772.7 763.6L788.2 746.4M788.2 746.4L777.6 751.1M788.2 746.4L784.6 757.4M790.9 763.6L806.3 746.5M806.3 746.5L795.8 751.2M806.3 746.5L802.7 757.4"/>
</g>
<g shape-rendering="crispEdges" fill="#000">
<rect x="0" y="27" width="800" height="1"/>
<rect x="0" y="27" width="1" height="746"/>
<rect x="1" y="28" width="1" height="4"/>
<rect x="1" y="768" width="1" height="5"/>
<rect x="9" y="28" width="1" height="17"/>
<rect x="9" y="755" width="1" height="18"/>
<rect x="16" y="28" width="1" height="4"/>
<rect x="16" y="768" width="1" height="5"/>
<rect x="23" y="28" width="1" height="4"/>
<rect x="23" y="768" width="1" height="5"/>
<rect x="30" y="28" width="1" height="4"/>
<rect x="30" y="768" width="1" height="5"/>
<rect x="38" y="28" width="1" height="4"/>
<rect x="38" y="768" width="1" height="5"/>
<rect x="45" y="28" width="1" height="8"/>
<rect x="45" y="764" width="1" height="9"/>
<rect x="52" y="28" width="1" height="4"/>
<rect x="52" y="768" width="1" height="5"/>
<rect x="59" y="28" width="1" height="4"/>
<rect x="59" y="768" width="1" height="5"/>
<rect x="67" y="28" width="1" height="4"/>
<rect x="67" y="768" width="1" height="5"/>
<rect x="74" y="28" width="1" height="4"/>
<rect x="74" y="768" width="1" height="5"/>
<rect x="81" y="28" width="1" height="17"/>
<rect x="81" y="755" width="1" height="18"/>
<rect x="89" y="28" width="1" height="4"/>
<rect x="89" y="768" width="1" height="5"/>
<rect x="96" y="28" width="1" height="4"/>
<rect x="96" y="768" width="1" height="5"/>
<rect x="103" y="28" width="1" height="4"/>
<rect x="103" y="768" width="1" height="5"/>
<rect x="110" y="28" width="1" height="4"/>
<rect x="110" y="768" width="1" height="5"/>
<rect x="118" y="28" width="1" height="8"/>
<rect x="118" y="764" width="1" height="9"/>
<rect x="125" y="28" width="1" height="4"/>
<rect x="125" y="768" width="1" height="5"/>
<rect x="132" y="28" width="1" height="4"/>
<rect x="132" y="768" width="1" height="5"/>
<rect x="139" y="28" width="1" height="4"/>
<rect x="139" y="768" width="1" height="5"/>
<rect x="147" y="28" width="1" height="4"/>
<rect x="147" y="768" width="1" height="5"/>
<rect x="154" y="28" width="1" height="17"/>
<rect x="154" y="755" width="1" height="18"/>
<rect x="161" y="28" width="1" height="4"/>
<rect x="161" y="768" width="1" height="5"/>
<rect x="169" y="28" width="1" height="4"/>
<rect x="169" y="768" width="1" height="5"/>
<rect x="176" y="28" width="1" height="4"/>
<rect x="176" y="768" width="1" height="5"/>
<rect x="183" y="28" width="1" height="4"/>
<rect x="183" y="768" width="1" height="5"/>
<rect x="190" y="28" width="1" height="8"/>
<rect x="190" y="764" width="1" height="9"/>
<rect x="198" y="28" width="1" height="4"/>
<rect x="198" y="768" width="1" height="5"/>
<rect x="205" y="28" width="1" height="4"/>
<rect x="205" y="768" width="1" height="5"/>
<rect x="212" y="28" width="1" height="4"/>
<rect x="212" y="768" width="1" height="5"/>
<rect x="219" y="28" width="1" height="4"/>
<rect x="219" y="768" width="1" height="5"/>
<rect x="227" y="28" width="1" height="17"/>
<rect x="227" y="755" width="1" height="18"/>
<rect x="234" y="28" width="1" height="4"/>
<rect x="234" y="768" width="1" height="5"/>
<rect x="241" y="28" width="1" height="4"/>
<rect x="241" y="768" width="1" height="5"/>
<rect x="249" y="28" width="1" height="4"/>
<rect x="249" y="768" width="1" height="5"/>
<rect x="256" y="28" width="1" height="4"/>
<rect x="256" y="768" width="1" height="5"/>
<rect x="263" y="28" width="1" height="8"/>
<rect x="263" y="764" width="1" height="9"/>
<rect x="270" y="28" width="1" height="4"/>
<rect x="270" y="768" width="1" height="5"/>
<rect x="278" y="28" width="1" height="4"/>
<rect x="278" y="768" width="1" height="5"/>
<rect x="285" y="28" width="1" height="4"/>
<rect x="285" y="768" width="1" height="5"/>
<rect x="292" y="28" width="1" height="4"/>
<rect x="292" y="768" width="1" height="5"/>
<rect x="300" y="28" width="1" height="17"/>
<rect x="300" y="755" width="1" height="18"/>
<rect x="307" y="28" width="1" height="4"/>
<rect x="307" y="768" width="1" height="5"/>
<rect x="314" y="28" width="1" height="4"/>
<rect x="314" y="768" width="1" height="5"/>
<rect x="321" y="28" width="1" height="4"/>
<rect x="321" y="768" width="1" height="5"/>
<rect x="329" y="28" width="1" height="4"/>
<rect x="329" y="768" width="1" height="5"/>
<rect x="336" y="28" width="1" height="8"/>
<rect x="336" y="764" width="1" height="9"/>
<rect x="343" y="28" width="1" height="4"/>
<rect x="343" y="768" width="1" height="5"/>
<rect x="350" y="28" width="1" height="4"/>
<rect x="350" y="768" width="1" height="5"/>
<rect x="358" y="28" width="1" height="4"/>
<rect x="358" y="768" width="1" height="5"/>
<rect x="365" y="28" width="1" height="4"/>
<rect x="365" y="768" width="1" height="5"/>
<rect x="372" y="28" width="1" height="17"/>
<rect x="372" y="755" width="1" height="18"/>
<rect x="380" y="28" width="1" height="4"/>
<rect x="380" y="768" width="1" height="5"/>
<rect x="387" y="28" width="1" height="4"/>
<rect x="387" y="768" width="1" height="5"/>
<rect x="394" y="28" width="1" height="4"/>
<rect x="394" y="768" width="1" height="5"/>
<rect x="401" y="28" width="1" height="4"/>
<rect x="401" y="768" width="1" height="5"/>
<rect x="409" y="28" width="1" height="8"/>
<rect x="409" y="764" width="1" height="9"/>
<rect x="416" y="28" width="1" height="4"/>
<rect x="416" y="768" width="1" height="5"/>
<rect x="423" y="28" width="1" height="4"/>
<rect x="423" y="768" width="1" height="5"/>
<rect x="430" y="28" width="1" height="4"/>
<rect x="430" y="768" width="1" height="5"/>
<rect x="438" y="28" width="1" height="4"/>
<rect x="438" y="768" width="1" height="5"/>
<rect x="445" y="28" width="1" height="17"/>
<rect x="445" y="755" width="1" height="18"/>
<rect x="452" y="28" width="1" height="4"/>
<rect x="452" y="768" width="1" height="5"/>
<rect x="460" y="28" width="1" height="4"/>
<rect x="460" y="768" width="1" height="5"/>
<rect x="467" y="28" width="1" height="4"/>
<rect x="467" y="768" width="1" height="5"/>
<rect x="474" y="28" width="1" height="4"/>
<rect x="474" y="768" width="1" height="5"/>
<rect x="481" y="28" width="1" height="8"/>
<rect x="481" y="764" width="1" height="9"/>
<rect x="489" y="28" width="1" height="4"/>
<rect x="489" y="768" width="1" height="5"/>
<rect x="496" y="28" width="1" height="4"/>
<rect x="496" y="768" width="1" height="5"/>
<rect x="503" y="28" width="1" height="4"/>
<rect x="503" y="768" width="1" height="5"/>
<rect x="510" y="28" width="1" height="4"/>
<rect x="510" y="768" width="1" height="5"/>
<rect x="518" y="28" width="1" height="17"/>
<rect x="518" y="755" width="1" height="18"/>
<rect x="525" y="28" width="1" height="4"/>
<rect x="525" y="768" width="1" height="5"/>
<rect x="532" y="28" width="1" height="4"/>
<rect x="532" y="768" width="1" height="5"/>
<rect x="539" y="28" width="1" height="4"/>
<rect x="539" y="768" width="1" height="5"/>
<rect x="547" y="28" width="1" height="4"/>
<rect x="547" y="768" width="1" height="5"/>
<rect x="554" y="28" width="1" height="8"/>
<rect x="554" y="764" width="1" height="9"/>
<rect x="561" y="28" width="1" height="4"/>
<rect x="561" y="768" width="1" height="5"/>
<rect x="569" y="28" width="1" height="4"/>
<rect x="569" y="768" width="1" height="5"/>
<rect x="576" y="28" width="1" height="4"/>
<rect x="576" y="768" width="1" height="5"/>
<rect x="583" y="28" width="1" height="4"/>
<rect x="583" y="768" width="1" height="5"/>
<rect x="590" y="28" width="1" height="17"/>
<rect x="590" y="755" width="1" height="18"/>
<rect x="598" y="28" width="1" height="4"/>
<rect x="598" y="768" width="1" height="5"/>
<rect x="605" y="28" width="1" height="4"/>
<rect x="605" y="768" width="1" height="5"/>
<rect x="612" y="28" width="1" height="4"/>
<rect x="612" y="768" width="1" height="5"/>
<rect x="620" y="28" width="1" height="4"/>
<rect x="620" y="768" width="1" height="5"/>
<rect x="627" y="28" width="1" height="8"/>
<rect x="627" y="764" width="1" height="9"/>
<rect x="634" y="28" width="1" height="4"/>
<rect x="634" y="768" width="1" height="5"/>
<rect x="641" y="28" width="1" height="4"/>
<rect x="641" y="768" width="1" height="5"/>
<rect x="649" y="28" width="1" height="4"/>
<rect x="649" y="768" width="1" height="5"/>
<rect x="656" y="28" width="1" height="4"/>
<rect x="656" y="768" width="1" height="5"/>
<rect x="663" y="28" width="1" height="17"/>
<rect x="663" y="755" width="1" height="18"/>
<rect x="670" y="28" width="1" height="4"/>
<rect x="670" y="768" width="1" height="5"/>
<rect x="678" y="28" width="1" height="4"/>
<rect x="678" y="768" width="1" height="5"/>
<rect x="685" y="28" width="1" height="4"/>
<rect x="685" y="768" width="1" height="5"/>
<rect x="692" y="28" width="1" height="4"/>
<rect x="692" y="768" width="1" height="5"/>
<rect x="700" y="28" width="1" height="8"/>
<rect x="700" y="764" width="1" height="9"/>
<rect x="707" y="28" width="1" height="4"/>
<rect x="707" y="768" width="1" height="5"/>
<rect x="714" y="28" width="1" height="4"/>
<rect x="714" y="768" width="1" height="5"/>
<rect x="721" y="28" width="1" height="4"/>
<rect x="721" y="768" width="1" height="5"/>
<rect x="729" y="28" width="1" height="4"/>
<rect x="729" y="768" width="1" height="5"/>
<rect x="736" y="28" width="1" height="17"/>
<rect x="736" y="755" width="1" height="18"/>
<rect x="743" y="28" width="1" height="4"/>
<rect x="743" y="768" width="1" height="5"/>
<rect x="750" y="28" width="1" height="4"/>
<rect x="750" y="768" width="1" height="5"/>
<rect x="758" y="28" width="1" height="4"/>
<rect x="758" y="768" width="1" height="5"/>
<rect x="765" y="28" width="1" height="4"/>
<rect x="765" y="768" width="1" height="5"/>
<rect x="772" y="28" width="1" height="8"/>
<rect x="772" y="764" width="1" height="9"/>
<rect x="780" y="28" width="1" height="4"/>
<rect x="780" y="768" width="1" height="5"/>
<rect x="787" y="28" width="1" height="4"/>
<rect x="787" y="768" width="1" height="5"/>
<rect x="794" y="28" width="1" height="4"/>
<rect x="794" y="768" width="1" height="5"/>
<rect x="1" y="29" width="4" height="1"/>
<rect x="795" y="29" width="5" height="1"/>
<rect x="1" y="36" width="17" height="1"/>
<rect x="782" y="36" width="18" height="1"/>
<rect x="1" y="43" width="4" height="1"/>
<rect x="795" y="43" width="5" height="1"/>
<rect x="1" y="50" width="4" height="1"/>
<rect x="795" y="50" width="5" height="1"/>
<rect x="1" y="58" width="4" height="1"/>
<rect x="795" y="58" width="5" height="1"/>
<rect x="1" y="65" width="4" height="1"/>
<rect x="795" y="65" width="5" height="1"/>
<rect x="1" y="72" width="8" height="1"/>
<rect x="791" y="72" width="9" height="1"/>
<rect x="1" y="79" width="4" height="1"/>
<rect x="795" y="79" width="5" height="1"/>
<rect x="1" y="87" width="4" height="1"/>
<rect x="795" y="87" width="5" height="1"/>
<rect x="1" y="94" width="4" height="1"/>
<rect x="795" y="94" width="5" height="1"/>
<rect x="1" y="101" width="4" height="1"/>
<rect x="795" y="101" width="5" height="1"/>
<rect x="1" y="109" width="17" height="1"/>
<rect x="782" y="109" width="18" height="1"/>
<rect x="1" y="116" width="4" height="1"/>
<rect x="795" y="116" width="5" height="1"/>
<rect x="1" y="123" width="4" height="1"/>
<rect x="795" y="123" width="5" height="1"/>
<rect x="1" y="130" width="4" height="1"/>
<rect x="795" y="130" width="5" height="1"/>
<rect x="1" y="138" width="4" height="1"/>
<rect x="795" y="138" width="5" height="1"/>
<rect x="1" y="145" width="8" height="1"/>
<rect x="791" y="145" width="9" height="1"/>
<rect x="1" y="152" width="4" height="1"/>
<rect x="795" y="152" width="5" height="1"/>
<rect x="1" y="159" width="4" height="1"/>
<rect x="795" y="159" width="5" height="1"/>
<rect x="1" y="167" width="4" height="1"/>
<rect x="795" y="167" width="5" height="1"/>
<rect x="1" y="174" width="4" height="1"/>
<rect x="795" y="174" width="5" height="1"/>
<rect x="1" y="181" width="17" height="1"/>
<rect x="782" y="181" width="18" height="1"/>
<rect x="1" y="189" width="4" height="1"/>
<rect x="795" y="189" width="5" height="1"/>
<rect x="1" y="196" width="4" height="1"/>
<rect x="795" y="196" width="5" height="1"/>
<rect x="1" y="203" width="4" height="1"/>
<rect x="795" y="203" width="5" height="1"/>
<rect x="1" y="210" width="4" height="1"/>
<rect x="795" y="210" width="5" height="1"/>
<rect x="1" y="218" width="8" height="1"/>
<rect x="791" y="218" width="9" height="1"/>
<rect x="1" y="225" width="4" height="1"/>
<rect x="795" y="225" width="5" height="1"/>
<rect x="1" y="232" width="4" height="1"/>
<rect x="795" y="232" width="5" height="1"/>
<rect x="1" y="239" width="4" height="1"/>
<rect x="795" y="239" width="5" height="1"/>
<rect x="1" y="247" width="4" height="1"/>
<rect x="795" y="247" width="5" height="1"/>
<rect x="1" y="254" width="17" height="1"/>
<rect x="782" y="254" width="18" height="1"/>
<rect x="1" y="261" width="4" height="1"/>
<rect x="795" y="261" width="5" height="1"/>
<rect x="1" y="269" width="4" height="1"/>
<rect x="795" y="269" width="5" height="1"/>
<rect x="1" y="276" width="4" height="1"/>
<rect x="795" y="276" width="5" height="1"/>
<rect x="1" y="283" width="4" height="1"/>
<rect x="795" y="283" width="5" height="1"/>
<rect x="1" y="290" width="8" height="1"/>
<rect x="791" y="290" width="9" height="1"/>
<rect x="1" y="298" width="4" height="1"/>
<rect x="795" y="298" width="5" height="1"/>
<rect x="1" y="305" width="4" height="1"/>
<rect x="795" y="305" width="5" height="1"/>
<rect x="1" y="312" width="4" height="1"/>
<rect x="795" y="312" width="5" height="1"/>
<rect x="1" y="319" width="4" height="1"/>
<rect x="795" y="319" width="5" height="1"/>
<rect x="1" y="327" width="17" height="1"/>
<rect x="782" y="327" width="18" height="1"/>
<rect x="1" y="334" width="4" height="1"/>
<rect x="795" y="334" width="5" height="1"/>
<rect x="1" y="341" width="4" height="1"/>
<rect x="795" y="341" width="5" height="1"/>
<rect x="1" y="349" width="4" height="1"/>
<rect x="795" y="349" width="5" height="1"/>
<rect x="1" y="356" width="4" height="1"/>
<rect x="795" y="356" width="5" height="1"/>
<rect x="1" y="363" width="8" height="1"/>
<rect x="791" y="363" width="9" height="1"/>
<rect x="1" y="370" width="4" height="1"/>
<rect x="795" y="370" width="5" height="1"/>
<rect x="1" y="378" width="4" height="1"/>
<rect x="795" y="378" width="5" height="1"/>
<rect x="1" y="385" width="4" height="1"/>
<rect x="795" y="385" width="5" height="1"/>
<rect x="1" y="392" width="4" height="1"/>
<rect x="795" y="392" width="5" height="1"/>
<rect x="1" y="399" width="17" height="1"/>
<rect x="782" y="399" width="18" height="1"/>
<rect x="1" y="407" width="4" height="1"/>
<rect x="795" y="407" width="5" height="1"/>
<rect x="1" y="414" width="4" height="1"/>
<rect x="795" y="414" width="5" height="1"/>
<rect x="1" y="421" width="4" height="1"/>
<rect x="795" y="421" width="5" height="1"/>
<rect x="1" y="429" width="4" height="1"/>
<rect x="795" y="429" width="5" height="1"/>
<rect x="1" y="436" width="8" height="1"/>
<rect x="791" y="436" width="9" height="1"/>
<rect x="1" y="443" width="4" height="1"/>
<rect x="795" y="443" width="5" height="1"/>
<rect x="1" y="450" width="4" height="1"/>
<rect x="795" y="450" width="5" height="1"/>
<rect x="1" y="458" width="4" height="1"/>
<rect x="795" y="458" width="5" height="1"/>
<rect x="1" y="465" width="4" height="1"/>
<rect x="795" y="465" width="5" height="1"/>
<rect x="1" y="472" width="17" height="1"/>
<rect x="782" y="472" width="18" height="1"/>
<rect x="1" y="479" width="4" height="1"/>
<rect x="795" y="479" width="5" height="1"/>
<rect x="1" y="487" width="4" height="1"/>
<rect x="795" y="487" width="5" height="1"/>
<rect x="1" y="494" width="4" height="1"/>
<rect x="795" y="494" width="5" height="1"/>
<rect x="1" y="501" width="4" height="1"/>
<rect x="795" y="501" width="5" height="1"/>
<rect x="1" y="509" width="8" height="1"/>
<rect x="791" y="509" width="9" height="1"/>
<rect x="1" y="516" width="4" height="1"/>
<rect x="795" y="516" width="5" height="1"/>
<rect x="1" y="523" width="4" height="1"/>
<rect x="795" y="523" width="5" height="1"/>
<rect x="1" y="530" width="4" height="1"/>
<rect x="795" y="530" width="5" height="1"/>
<rect x="1" y="538" width="4" height="1"/>
<rect x="795" y="538" width="5" height="1"/>
<rect x="1" y="545" width="17" height="1"/>
<rect x="782" y="545" width="18" height="1"/>
<rect x="1" y="552" width="4" height="1"/>
<rect x="795" y="552" width="5" height="1"/>
<rect x="1" y="559" width="4" height="1"/>
<rect x="795" y="559" width="5" height="1"/>
<rect x="1" y="567" width="4" height="1"/>
<rect x="795" y="567" width="5" height="1"/>
<rect x="1" y="574" width="4" height="1"/>
<rect x="795" y="574" width="5" height="1"/>
<rect x="1" y="581" width="8" height="1"/>
<rect x="791" y="581" width="9" height="1"/>
<rect x="1" y="589" width="4" height="1"/>
<rect x="795" y="589" width="5" height="1"/>
<rect x="1" y="596" width="4" height="1"/>
<rect x="795" y="596" width="5" height="1"/>
<rect x="1" y="603" width="4" height="1"/>
<rect x="795" y="603" width="5" height="1"/>
<rect x="1" y="610" width="4" height="1"/>
<rect x="795" y="610" width="5" height="1"/>
<rect x="1" y="618" width="17" height="1"/>
<rect x="782" y="618" width="18" height="1"/>
<rect x="1" y="625" width="4" height="1"/>
<rect x="795" y="625" width="5" height="1"/>
<rect x="1" y="632" width="4" height="1"/>
<rect x="795" y="632" width="5" height="1"/>
<rect x="1" y="639" width="4" height="1"/>
<rect x="795" y="639" width="5" height="1"/>
<rect x="1" y="647" width="4" height="1"/>
<rect x="795" y="647" width="5" height="1"/>
<rect x="1" y="654" width="8" height="1"/>
<rect x="791" y="654" width="9" height="1"/>
<rect x="1" y="661" width="4" height="1"/>
<rect x="795" y="661" width="5" height="1"/>
<rect x="1" y="669" width="4" height="1"/>
<rect x="795" y="669" width="5" height="1"/>
<rect x="1" y="676" width="4" height="1"/>
<rect x="795" y="676" width="5" height="1"/>
<rect x="1" y="683" width="4" height="1"/>
<rect x="795" y="683" width="5" height="1"/>
<rect x="1" y="690" width="17" height="1"/>
<rect x="782" y="690" width="18" height="1"/>
<rect x="1" y="698" width="4" height="1"/>
<rect x="795" y="698" width="5" height="1"/>
<rect x="1" y="705" width="4" height="1"/>
<rect x="795" y="705" width="5" height="1"/>
<rect x="1" y="712" width="4" height="1"/>
<rect x="795" y="712" width="5" height="1"/>
<rect x="1" y="719" width="4" height="1"/>
<rect x="795" y="719" width="5" height="1"/>
<rect x="1" y="727" width="8" height="1"/>
<rect x="791" y="727" width="9" height="1"/>
<rect x="1" y="734" width="4" height="1"/>
<rect x="795" y="734" width="5" height="1"/>
<rect x="1" y="741" width="4" height="1"/>
<rect x="795" y="741" width="5" height="1"/>
<rect x="1" y="749" width="4" height="1"/>
<rect x="795" y="749" width="5" height="1"/>
<rect x="1" y="756" width="4" height="1"/>
<rect x="795" y="756" width="5" height="1"/>
<rect x="1" y="763" width="17" height="1"/>
<rect x="782" y="763" width="18" height="1"/>
<rect x="1" y="770" width="4" height="1"/>
<rect x="795" y="770" width="5" height="1"/>
</g>
<defs><clipPath id="pc"><rect x="0" y="28" width="800" height="745"/></clipPath></defs>
<g clip-path="url(#pc)">
<text class="g" x="771.6" y="32" font-size="11.3" textLength="20.2" lengthAdjust="spacingAndGlyphs">31S</text>
<text class="g" x="771.6" y="105" font-size="11.3" textLength="20.2" lengthAdjust="spacingAndGlyphs">32S</text>
<text class="g" x="771.6" y="177" font-size="11.3" textLength="20.2" lengthAdjust="spacingAndGlyphs">33S</text>
<text class="g" x="771.6" y="250" font-size="11.3" textLength="20.2" lengthAdjust="spacingAndGlyphs">34S</text>
<text class="g" x="771.6" y="323" font-size="11.3" textLength="20.2" lengthAdjust="spacingAndGlyphs">35S</text>
<text class="g" x="771.6" y="395" font-size="11.3" textLength="20.2" lengthAdjust="spacingAndGlyphs">36S</text>
<text class="g" x="771.6" y="468" font-size="11.3" textLength="20.2" lengthAdjust="spacingAndGlyphs">37S</text>
<text class="g" x="771.6" y="541" font-size="11.3" textLength="20.2" lengthAdjust="spacingAndGlyphs">38S</text>
<text class="g" x="771.6" y="614" font-size="11.3" textLength="20.2" lengthAdjust="spacingAndGlyphs">39S</text>
<text class="g" x="771.6" y="686" font-size="11.3" textLength="20.2" lengthAdjust="spacingAndGlyphs">40S</text>
<text class="g" x="771.6" y="759" font-size="11.3" textLength="20.2" lengthAdjust="spacingAndGlyphs">41S</text>
<text class="g" font-size="11.3" textLength="20.7" lengthAdjust="spacingAndGlyphs" transform="translate(13.7,744) rotate(90)">61W</text>
<text class="g" font-size="11.3" textLength="20.7" lengthAdjust="spacingAndGlyphs" transform="translate(85.7,744) rotate(90)">60W</text>
<text class="g" font-size="11.3" textLength="20.7" lengthAdjust="spacingAndGlyphs" transform="translate(158.7,744) rotate(90)">59W</text>
<text class="g" font-size="11.3" textLength="20.7" lengthAdjust="spacingAndGlyphs" transform="translate(231.7,744) rotate(90)">58W</text>
<text class="g" font-size="11.3" textLength="20.7" lengthAdjust="spacingAndGlyphs" transform="translate(304.7,744) rotate(90)">57W</text>
<text class="g" font-size="11.3" textLength="20.7" lengthAdjust="spacingAndGlyphs" transform="translate(376.7,744) rotate(90)">56W</text>
<text class="g" font-size="11.3" textLength="20.7" lengthAdjust="spacingAndGlyphs" transform="translate(449.7,744) rotate(90)">55W</text>
<text class="g" font-size="11.3" textLength="20.7" lengthAdjust="spacingAndGlyphs" transform="translate(522.7,744) rotate(90)">54W</text>
<text class="g" font-size="11.3" textLength="20.7" lengthAdjust="spacingAndGlyphs" transform="translate(594.7,744) rotate(90)">53W</text>
<text class="g" font-size="11.3" textLength="20.7" lengthAdjust="spacingAndGlyphs" transform="translate(667.7,744) rotate(90)">52W</text>
<text class="g" font-size="11.3" textLength="20.7" lengthAdjust="spacingAndGlyphs" transform="translate(740.7,744) rotate(90)">51W</text>
</g>
<defs><linearGradient id="cb" x1="0" y1="1" x2="0" y2="0">
<stop offset="0.0000" stop-color="#0000ff"/>
<stop offset="0.2667" stop-color="#00ffff"/>
<stop offset="0.4000" stop-color="#00ff00"/>
<stop offset="0.5333" stop-color="#ffff00"/>
<stop offset="0.8333" stop-color="#ff0000"/>
<stop offset="1.0000" stop-color="#c00080"/>
</linearGradient></defs>
<g shape-rendering="crispEdges">
<rect x="32" y="160" width="50" height="609" fill="#000"/>
<rect x="33" y="161" width="48" height="607" fill="#fff"/>
<rect x="34" y="162" width="46" height="605" fill="url(#cb)"/>
</g>
<text class="k" x="86" y="164.8" font-size="14.2">30</text>
<text class="k" x="86" y="316.8" font-size="14.2">22</text>
<text class="k" x="86" y="468.8" font-size="14.2">15</text>
<text class="k" x="86" y="620.8" font-size="14.2">8</text>
<text class="k" x="86" y="772.8" font-size="14.2">0</text>
<text class="k" x="33.3" y="148.3" font-size="16.4" letter-spacing="0.5">[m/s]</text>
<text class="t" x="4.3" y="49.4" font-size="24.7" textLength="385.5">modelo GEFS-WAVE (NCEP)</text>
<text class="t" x="6" y="72.6" font-size="24.7" textLength="493.8">forecast date: 2024-06-29 18:00:00</text>
<text class="t" x="41.9" y="96.2" font-size="24.7" textLength="447.1">valid date: 2024-06-29 18:00:00</text>
</svg></body></html>
